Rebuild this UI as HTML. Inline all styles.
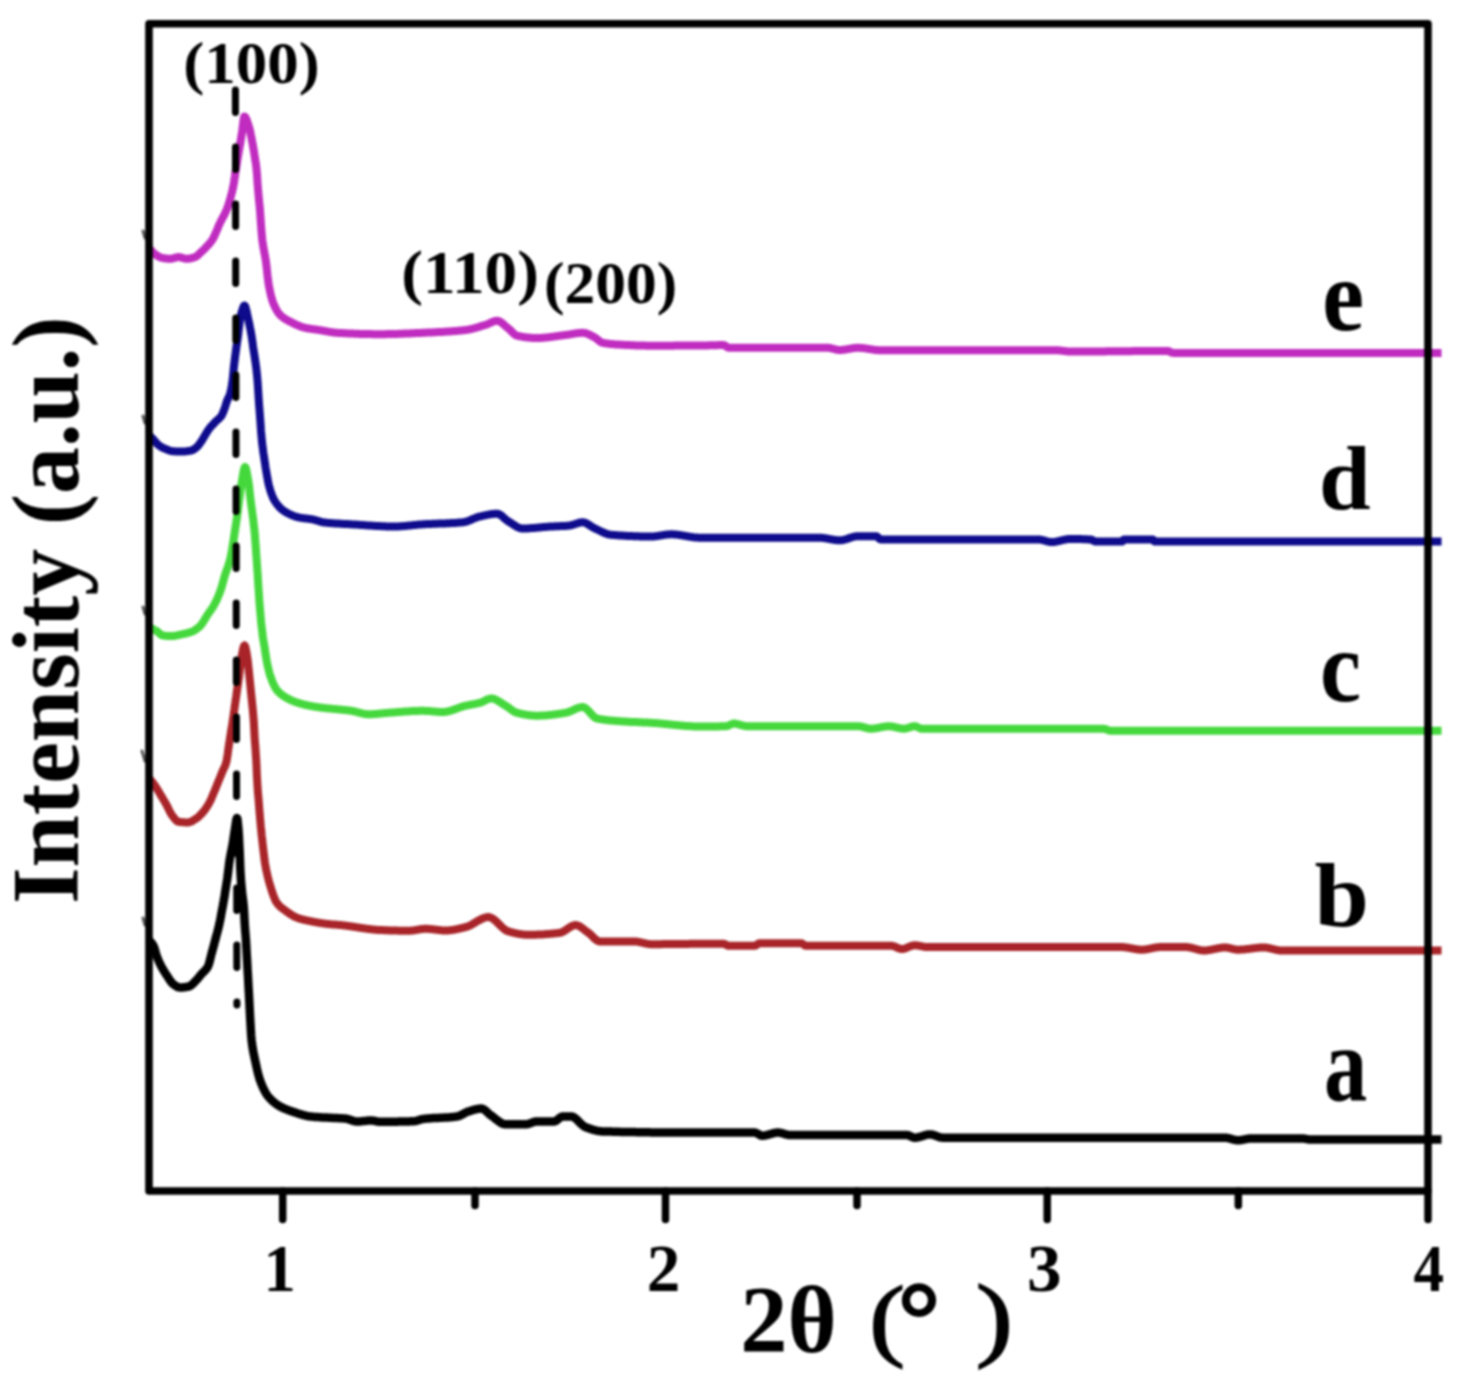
<!DOCTYPE html>
<html><head><meta charset="utf-8"><style>
html,body{margin:0;padding:0;background:#fff;width:1471px;height:1395px;overflow:hidden}
svg{display:block;filter:blur(1px)}
text{font-family:"Liberation Serif",serif;fill:#000}
</style></head><body>
<svg width="1471" height="1395" viewBox="0 0 1471 1395">
<rect x="0" y="0" width="1471" height="1395" fill="#fff"/>
<g fill="none" stroke-width="8" stroke-linejoin="round" stroke-linecap="butt">
<path d="M149.0 248.0L149.5 248.5L149.9 249.0L150.4 249.6L150.9 250.1L151.3 250.7L151.8 251.2L152.2 251.8L152.7 252.2L153.2 252.7L153.6 253.1L154.1 253.5L154.6 253.9L155.1 254.2L155.5 254.5L156.0 254.9L156.5 255.2L157.0 255.5L157.4 255.8L157.9 256.1L158.4 256.4L158.9 256.7L159.3 256.9L159.8 257.1L160.3 257.3L160.8 257.5L161.2 257.7L161.7 257.8L162.2 257.9L162.7 258.0L163.2 258.1L163.6 258.2L164.1 258.2L164.6 258.3L165.1 258.4L165.6 258.4L166.1 258.5L166.5 258.6L167.0 258.6L167.5 258.7L168.0 258.7L168.5 258.7L169.0 258.8L169.4 258.8L169.9 258.8L170.4 258.8L170.9 258.8L171.4 258.7L171.8 258.7L172.3 258.6L172.8 258.4L173.3 258.3L173.7 258.2L174.2 258.0L174.7 257.9L175.2 257.7L175.6 257.6L176.1 257.5L176.6 257.3L177.1 257.2L177.5 257.2L178.0 257.1L178.5 257.1L179.0 257.1L179.5 257.2L179.9 257.2L180.4 257.3L180.9 257.5L181.4 257.6L181.9 257.7L182.4 257.9L182.8 258.0L183.3 258.2L183.8 258.3L184.3 258.4L184.8 258.6L185.3 258.7L185.7 258.7L186.2 258.8L186.7 258.8L187.2 258.8L187.7 258.8L188.1 258.7L188.6 258.7L189.1 258.6L189.6 258.5L190.1 258.5L190.6 258.4L191.0 258.2L191.5 258.1L192.0 258.0L192.5 257.9L193.0 257.7L193.5 257.6L193.9 257.4L194.4 257.3L194.9 257.1L195.4 256.9L195.8 256.7L196.3 256.4L196.8 256.0L197.2 255.7L197.7 255.3L198.2 254.9L198.7 254.4L199.1 254.0L199.6 253.5L200.1 253.1L200.5 252.6L201.0 252.2L201.5 251.8L201.9 251.3L202.4 250.9L202.9 250.5L203.3 250.0L203.8 249.5L204.3 249.1L204.8 248.6L205.2 248.1L205.7 247.6L206.2 247.1L206.6 246.6L207.1 246.1L207.6 245.6L208.0 245.1L208.5 244.6L209.0 244.1L209.4 243.6L209.9 243.1L210.3 242.5L210.8 241.9L211.3 241.3L211.7 240.7L212.2 240.0L212.7 239.2L213.2 238.4L213.7 237.4L214.1 236.4L214.6 235.4L215.1 234.3L215.6 233.2L216.1 232.1L216.6 230.9L217.1 229.7L217.6 228.6L218.1 227.4L218.5 226.2L219.0 225.1L219.5 224.0L220.0 223.0L220.5 222.0L221.0 221.0L221.5 220.0L222.0 219.1L222.5 218.2L223.0 217.2L223.5 216.3L224.0 215.4L224.5 214.4L225.0 213.4L225.5 212.3L226.0 211.2L226.5 210.0L227.0 208.8L227.5 207.5L228.0 206.1L228.4 204.7L228.9 203.2L229.4 201.6L229.9 200.0L230.3 198.4L230.8 196.8L231.2 195.1L231.7 193.3L232.2 191.4L232.6 189.4L233.1 187.3L233.5 185.0L234.0 182.4L234.4 179.4L234.9 176.3L235.3 173.1L235.8 170.0L236.3 166.9L236.8 163.9L237.2 160.9L237.7 157.9L238.2 155.0L238.6 152.5L239.1 150.0L239.5 147.6L239.9 145.1L240.4 142.6L240.8 140.0L241.2 137.1L241.7 134.1L242.2 131.1L242.6 128.0L243.0 124.6L243.4 120.8L243.9 117.8L244.3 116.5L244.8 116.7L245.3 117.2L245.8 118.0L246.3 119.0L246.8 120.3L247.3 121.7L247.8 123.2L248.3 124.8L248.8 126.4L249.3 128.0L249.7 129.5L250.2 131.3L250.6 133.4L251.0 135.5L251.5 137.8L251.9 140.0L252.3 142.3L252.8 144.6L253.2 147.1L253.6 149.6L254.1 152.3L254.5 155.0L254.9 157.6L255.3 160.3L255.8 163.1L256.2 166.3L256.6 170.0L257.1 175.7L257.5 182.6L258.0 189.0L258.5 194.7L259.0 200.0L259.5 204.8L260.0 210.0L260.4 215.9L260.8 222.0L261.3 228.7L261.8 235.0L262.3 240.0L262.8 243.7L263.3 246.7L263.8 249.4L264.2 251.8L264.7 254.3L265.2 257.0L265.7 260.0L266.2 263.4L266.6 267.3L267.1 271.3L267.5 275.4L268.0 279.3L268.4 282.8L268.9 285.7L269.4 288.2L269.9 290.6L270.3 292.8L270.8 294.9L271.3 296.8L271.8 298.6L272.2 300.2L272.7 301.6L273.2 302.9L273.7 304.1L274.2 305.3L274.7 306.4L275.2 307.4L275.7 308.4L276.2 309.3L276.6 310.2L277.1 311.0L277.6 311.8L278.1 312.5L278.6 313.2L279.1 313.8L279.6 314.4L280.1 314.9L280.6 315.4L281.1 315.8L281.6 316.3L282.1 316.7L282.6 317.1L283.0 317.5L283.5 317.8L284.0 318.2L284.5 318.5L285.0 318.8L285.5 319.1L286.0 319.4L286.5 319.7L287.0 320.0L287.5 320.3L287.9 320.5L288.4 320.8L288.9 321.0L289.4 321.3L289.9 321.5L290.4 321.8L290.9 322.1L291.4 322.3L291.9 322.5L292.3 322.8L292.8 323.0L293.3 323.3L293.8 323.5L294.3 323.8L294.8 324.0L295.3 324.2L295.8 324.5L296.2 324.7L296.7 324.9L297.2 325.1L297.7 325.3L298.2 325.5L298.7 325.7L299.2 325.9L299.6 326.1L300.1 326.3L300.6 326.5L301.1 326.7L301.6 326.8L302.1 327.0L302.6 327.2L303.1 327.3L303.5 327.4L304.0 327.6L304.5 327.7L305.0 327.8L305.5 327.9L306.0 328.0L306.5 328.1L307.0 328.2L307.4 328.3L307.9 328.4L308.4 328.5L308.9 328.5L309.4 328.6L309.9 328.7L310.4 328.8L310.9 328.8L311.4 328.9L311.9 329.0L312.3 329.1L312.8 329.1L313.3 329.2L313.8 329.3L314.3 329.3L314.8 329.4L315.3 329.4L315.8 329.5L316.3 329.6L316.8 329.6L317.2 329.7L317.7 329.8L318.2 329.9L318.7 329.9L319.2 330.0L319.7 330.1L320.2 330.2L320.7 330.2L321.2 330.3L321.7 330.4L322.2 330.5L322.7 330.6L323.2 330.7L323.6 330.8L324.1 330.9L324.6 331.0L325.1 331.1L325.6 331.2L326.1 331.2L326.6 331.3L327.1 331.4L327.6 331.5L328.1 331.6L328.6 331.7L329.1 331.8L329.6 331.9L330.1 332.0L330.6 332.0L331.1 332.1L331.6 332.2L332.1 332.3L332.6 332.3L333.0 332.4L333.5 332.5L334.0 332.5L334.5 332.6L335.0 332.6L335.5 332.7L336.0 332.7L336.5 332.8L337.0 332.8L337.5 332.8L338.0 332.9L338.5 332.9L339.0 332.9L339.5 332.9L340.0 333.0L340.5 333.0L341.0 333.0L341.5 333.1L342.0 333.1L342.5 333.1L343.0 333.1L343.5 333.2L344.0 333.2L344.5 333.2L345.0 333.2L345.5 333.3L346.0 333.3L346.5 333.3L347.0 333.3L347.5 333.4L348.0 333.4L348.5 333.4L349.0 333.4L349.5 333.5L350.0 333.5L350.5 333.5L351.0 333.5L351.5 333.5L352.0 333.6L352.5 333.6L353.0 333.6L353.5 333.6L354.0 333.7L354.5 333.7L355.0 333.7L355.5 333.7L356.0 333.7L356.5 333.7L357.0 333.8L357.5 333.8L358.0 333.8L358.5 333.8L359.0 333.8L359.5 333.9L360.0 333.9L360.5 333.9L361.0 333.9L361.5 333.9L362.0 333.9L362.5 333.9L363.0 334.0L363.5 334.0L364.0 334.0L364.5 334.0L365.0 334.0L365.5 334.0L366.0 334.0L366.5 334.0L367.0 334.1L367.5 334.1L368.0 334.1L368.5 334.1L369.0 334.1L369.5 334.1L370.0 334.1L370.5 334.1L371.0 334.1L371.5 334.1L372.0 334.1L372.5 334.2L373.0 334.2L373.5 334.2L374.0 334.2L374.5 334.2L375.0 334.2L375.5 334.2L376.0 334.2L376.5 334.2L377.0 334.2L377.5 334.2L378.0 334.2L378.5 334.2L379.0 334.2L379.5 334.2L380.0 334.2L380.5 334.2L381.0 334.2L381.5 334.2L382.0 334.2L382.5 334.2L383.0 334.2L383.5 334.2L384.0 334.2L384.5 334.2L385.0 334.2L385.5 334.2L386.0 334.2L386.5 334.1L387.0 334.1L387.5 334.1L388.0 334.1L388.5 334.1L389.0 334.1L389.5 334.1L390.0 334.1L390.5 334.1L390.9 334.1L391.4 334.1L391.9 334.0L392.4 334.0L392.9 334.0L393.4 334.0L393.9 334.0L394.4 334.0L394.9 334.0L395.4 333.9L395.9 333.9L396.4 333.9L396.9 333.9L397.4 333.9L397.9 333.9L398.4 333.8L398.9 333.8L399.4 333.8L399.9 333.8L400.4 333.8L400.9 333.8L401.4 333.7L401.9 333.7L402.4 333.7L402.9 333.7L403.4 333.7L403.9 333.6L404.4 333.6L404.9 333.6L405.4 333.6L405.9 333.6L406.4 333.5L406.9 333.5L407.4 333.5L407.9 333.5L408.4 333.4L408.9 333.4L409.4 333.4L409.9 333.4L410.4 333.4L410.9 333.3L411.4 333.3L411.9 333.3L412.3 333.3L412.8 333.2L413.3 333.2L413.8 333.2L414.3 333.2L414.8 333.2L415.3 333.1L415.8 333.1L416.3 333.1L416.8 333.1L417.3 333.0L417.8 333.0L418.3 333.0L418.8 333.0L419.3 333.0L419.8 332.9L420.3 332.9L420.8 332.9L421.3 332.9L421.8 332.8L422.3 332.8L422.8 332.8L423.3 332.8L423.8 332.8L424.3 332.7L424.8 332.7L425.3 332.7L425.8 332.7L426.3 332.6L426.8 332.6L427.3 332.6L427.8 332.6L428.3 332.6L428.8 332.5L429.3 332.5L429.8 332.5L430.3 332.5L430.8 332.5L431.3 332.4L431.8 332.4L432.3 332.4L432.8 332.4L433.3 332.3L433.7 332.3L434.2 332.3L434.7 332.3L435.2 332.2L435.7 332.2L436.2 332.2L436.7 332.2L437.2 332.1L437.7 332.1L438.2 332.1L438.7 332.1L439.2 332.0L439.7 332.0L440.2 332.0L440.7 332.0L441.2 331.9L441.7 331.9L442.2 331.9L442.7 331.9L443.2 331.8L443.7 331.8L444.2 331.8L444.7 331.7L445.2 331.7L445.7 331.7L446.2 331.6L446.7 331.6L447.2 331.6L447.7 331.6L448.2 331.5L448.7 331.5L449.2 331.5L449.7 331.4L450.2 331.4L450.7 331.3L451.2 331.3L451.7 331.3L452.2 331.2L452.7 331.2L453.2 331.2L453.7 331.1L454.2 331.1L454.7 331.0L455.1 331.0L455.6 331.0L456.1 330.9L456.6 330.9L457.1 330.8L457.6 330.8L458.1 330.8L458.6 330.7L459.1 330.7L459.6 330.6L460.1 330.6L460.6 330.5L461.1 330.5L461.6 330.4L462.1 330.4L462.6 330.3L463.1 330.3L463.6 330.2L464.1 330.2L464.6 330.1L465.1 330.1L465.6 330.0L466.1 329.9L466.6 329.9L467.1 329.8L467.6 329.7L468.1 329.6L468.6 329.6L469.1 329.5L469.6 329.4L470.1 329.3L470.6 329.2L471.1 329.0L471.6 328.9L472.1 328.8L472.6 328.7L473.1 328.6L473.6 328.4L474.1 328.3L474.6 328.2L475.1 328.0L475.6 327.9L476.1 327.7L476.6 327.6L477.1 327.4L477.6 327.3L478.1 327.1L478.6 327.0L479.1 326.8L479.6 326.7L480.1 326.5L480.6 326.4L481.1 326.2L481.6 326.0L482.1 325.9L482.6 325.7L483.1 325.6L483.6 325.4L484.1 325.3L484.6 325.1L485.1 325.0L485.6 324.8L486.1 324.6L486.6 324.5L487.1 324.3L487.6 324.1L488.1 323.9L488.6 323.6L489.1 323.4L489.6 323.2L490.1 322.9L490.6 322.7L491.1 322.5L491.5 322.3L492.0 322.0L492.5 321.8L493.0 321.6L493.5 321.5L494.0 321.3L494.5 321.2L495.0 321.0L495.5 320.9L496.0 320.9L496.5 320.8L497.0 320.8L497.5 320.8L498.0 320.9L498.5 321.0L499.0 321.2L499.5 321.4L500.0 321.7L500.5 322.0L501.0 322.3L501.5 322.6L502.0 323.0L502.5 323.4L502.9 323.8L503.4 324.2L503.9 324.6L504.4 325.1L504.9 325.5L505.4 326.0L505.9 326.4L506.4 326.9L506.9 327.3L507.4 327.7L507.9 328.1L508.4 328.5L508.9 328.9L509.4 329.3L509.8 329.7L510.3 330.2L510.8 330.7L511.3 331.2L511.7 331.7L512.2 332.2L512.7 332.7L513.2 333.1L513.7 333.6L514.1 334.0L514.6 334.4L515.1 334.8L515.6 335.1L516.0 335.4L516.5 335.6L517.0 335.7L517.5 335.8L518.0 335.9L518.5 336.0L519.0 336.1L519.5 336.2L520.0 336.3L520.5 336.4L521.0 336.5L521.5 336.6L522.0 336.7L522.5 336.8L523.0 336.9L523.5 336.9L524.0 337.0L524.5 337.1L525.0 337.2L525.5 337.2L526.0 337.3L526.5 337.4L527.0 337.4L527.5 337.5L528.0 337.5L528.5 337.6L529.0 337.6L529.5 337.7L530.0 337.7L530.5 337.7L531.0 337.8L531.5 337.8L532.0 337.9L532.5 337.9L533.0 337.9L533.5 337.9L534.0 337.9L534.5 338.0L535.0 338.0L535.5 338.0L536.0 338.0L536.5 338.0L537.0 338.0L537.5 338.0L538.0 338.0L538.5 338.0L539.0 338.0L539.5 338.0L540.0 337.9L540.5 337.9L541.0 337.9L541.5 337.9L542.0 337.8L542.5 337.8L543.0 337.8L543.5 337.7L544.0 337.7L544.5 337.7L545.0 337.6L545.5 337.6L546.0 337.5L546.5 337.5L547.0 337.4L547.5 337.4L548.0 337.3L548.5 337.3L549.0 337.2L549.5 337.1L550.0 337.1L550.5 337.0L551.0 336.9L551.5 336.9L552.0 336.8L552.5 336.8L553.0 336.7L553.5 336.6L554.0 336.5L554.5 336.5L555.0 336.4L555.5 336.3L556.0 336.3L556.5 336.2L557.0 336.1L557.5 336.1L558.0 336.0L558.5 335.9L559.0 335.8L559.5 335.8L560.0 335.7L560.5 335.6L561.0 335.6L561.5 335.5L562.0 335.4L562.5 335.4L563.0 335.3L563.5 335.2L564.0 335.2L564.5 335.1L565.0 335.1L565.5 335.0L566.0 334.9L566.5 334.9L567.0 334.8L567.5 334.7L568.0 334.7L568.4 334.6L568.9 334.5L569.4 334.4L569.9 334.4L570.4 334.3L570.9 334.2L571.4 334.1L571.9 334.0L572.4 333.9L572.9 333.9L573.4 333.8L573.9 333.7L574.3 333.6L574.8 333.5L575.3 333.5L575.8 333.4L576.3 333.3L576.8 333.2L577.3 333.2L577.8 333.1L578.3 333.1L578.8 333.0L579.3 333.0L579.8 332.9L580.2 332.9L580.7 332.9L581.2 332.8L581.7 332.8L582.2 332.8L582.7 332.8L583.2 332.8L583.7 332.9L584.2 332.9L584.7 333.0L585.2 333.1L585.6 333.2L586.1 333.4L586.6 333.5L587.1 333.7L587.6 333.9L588.1 334.1L588.6 334.3L589.1 334.6L589.6 334.8L590.1 335.0L590.6 335.3L591.1 335.5L591.5 335.8L592.0 336.0L592.5 336.3L593.0 336.5L593.5 336.8L594.0 337.0L594.5 337.3L595.0 337.5L595.5 337.9L595.9 338.2L596.4 338.6L596.9 339.0L597.4 339.4L597.9 339.8L598.4 340.2L598.8 340.6L599.3 341.0L599.8 341.4L600.3 341.7L600.8 342.0L601.2 342.3L601.7 342.5L602.2 342.7L602.7 342.8L603.2 342.9L603.7 343.0L604.2 343.1L604.7 343.2L605.2 343.2L605.7 343.3L606.2 343.4L606.7 343.5L607.2 343.5L607.7 343.6L608.2 343.7L608.7 343.7L609.2 343.8L609.7 343.9L610.2 343.9L610.7 344.0L611.2 344.0L611.7 344.1L612.2 344.1L612.7 344.2L613.2 344.2L613.7 344.2L614.2 344.3L614.7 344.3L615.2 344.4L615.7 344.4L616.2 344.4L616.7 344.5L617.2 344.5L617.7 344.5L618.2 344.6L618.7 344.6L619.2 344.6L619.7 344.6L620.2 344.7L620.7 344.7L621.2 344.7L621.7 344.7L622.2 344.8L622.7 344.8L623.2 344.8L623.7 344.8L624.2 344.9L624.7 344.9L625.2 344.9L625.7 344.9L626.2 345.0L626.7 345.0L627.2 345.0L627.7 345.0L628.2 345.1L628.7 345.1L629.2 345.1L629.7 345.1L630.2 345.2L630.7 345.2L631.2 345.2L631.7 345.2L632.2 345.2L632.7 345.3L633.2 345.3L633.7 345.3L634.2 345.3L634.7 345.3L635.2 345.4L635.7 345.4L636.2 345.4L636.7 345.4L637.2 345.4L637.7 345.5L638.2 345.5L638.7 345.5L639.2 345.5L639.7 345.5L640.2 345.5L640.7 345.5L641.2 345.6L641.7 345.6L642.2 345.6L642.7 345.6L643.2 345.6L643.7 345.6L644.2 345.6L644.7 345.6L645.2 345.6L645.7 345.7L646.2 345.7L646.7 345.7L647.2 345.7L647.7 345.7L648.2 345.7L648.7 345.7L649.2 345.7L649.7 345.7L650.2 345.7L650.7 345.7L651.2 345.7L651.7 345.7L652.2 345.7L652.7 345.7L653.2 345.7L653.7 345.7L654.2 345.7L654.7 345.7L655.2 345.7L655.7 345.7L656.2 345.7L656.7 345.7L657.2 345.7L657.7 345.7L658.2 345.7L658.7 345.7L659.2 345.7L659.7 345.7L660.2 345.7L660.7 345.7L661.2 345.7L661.7 345.7L662.2 345.7L662.7 345.7L663.2 345.7L663.6 345.7L664.1 345.7L664.6 345.7L665.1 345.7L665.6 345.7L666.1 345.7L666.6 345.7L667.1 345.7L667.6 345.7L668.1 345.7L668.6 345.7L669.1 345.7L669.6 345.7L670.1 345.7L670.6 345.7L671.1 345.7L671.6 345.7L672.1 345.7L672.6 345.7L673.1 345.7L673.6 345.7L674.1 345.6L674.6 345.6L675.1 345.6L675.6 345.6L676.1 345.6L676.6 345.6L677.1 345.6L677.6 345.6L678.1 345.6L678.6 345.6L679.1 345.6L679.6 345.6L680.1 345.6L680.6 345.6L681.1 345.6L681.6 345.6L682.1 345.6L682.6 345.6L683.1 345.6L683.6 345.6L684.1 345.6L684.6 345.6L685.1 345.6L685.6 345.6L686.1 345.6L686.6 345.6L687.1 345.6L687.6 345.6L688.0 345.6L688.5 345.6L689.0 345.6L689.5 345.6L690.0 345.6L690.5 345.6L691.0 345.6L691.5 345.6L692.0 345.6L692.5 345.6L693.0 345.5L693.5 345.5L694.0 345.5L694.5 345.5L695.0 345.5L695.5 345.5L696.0 345.5L696.5 345.5L697.0 345.5L697.5 345.5L698.0 345.5L698.5 345.5L699.0 345.5L699.5 345.5L700.0 345.5L700.5 345.5L701.0 345.5L701.5 345.5L702.0 345.5L702.5 345.5L703.0 345.5L703.4 345.5L703.9 345.5L704.4 345.4L704.9 345.4L705.4 345.4L705.9 345.4L706.4 345.4L706.9 345.4L707.4 345.4L707.9 345.4L708.4 345.4L708.9 345.3L709.3 345.3L709.8 345.3L710.3 345.3L710.8 345.3L711.3 345.3L711.8 345.3L712.3 345.3L712.8 345.3L713.3 345.2L713.8 345.2L714.3 345.2L714.8 345.2L715.2 345.2L715.7 345.2L716.2 345.2L716.7 345.2L717.2 345.2L717.7 345.2L718.2 345.1L718.7 345.1L719.2 345.1L719.7 345.1L720.2 345.1L720.6 345.1L721.1 345.1L721.6 345.1L722.1 345.1L722.6 345.1L723.1 345.1L723.6 345.1L724.1 345.2L724.5 345.3L725.0 345.6L725.5 345.9L726.0 346.2L726.4 346.6L726.9 346.9L727.4 347.2L727.9 347.5L728.3 347.6L728.8 347.7L729.3 347.7L729.8 347.7L730.3 347.7L730.8 347.7L731.3 347.7L731.8 347.7L732.3 347.7L732.8 347.7L733.3 347.7L733.8 347.7L734.3 347.7L734.8 347.7L735.3 347.7L735.8 347.7L736.3 347.7L736.8 347.7L737.3 347.7L737.8 347.7L738.3 347.7L738.8 347.7L739.3 347.7L739.8 347.7L740.3 347.7L740.8 347.7L741.3 347.7L741.8 347.7L742.3 347.7L742.8 347.7L743.3 347.7L743.8 347.7L744.3 347.7L744.8 347.7L745.2 347.7L745.7 347.7L746.2 347.7L746.7 347.7L747.2 347.7L747.7 347.7L748.2 347.7L748.7 347.7L749.2 347.7L749.7 347.7L750.2 347.7L750.7 347.7L751.2 347.7L751.7 347.7L752.2 347.7L752.7 347.7L753.2 347.7L753.7 347.7L754.2 347.7L754.7 347.7L755.2 347.7L755.7 347.7L756.2 347.7L756.7 347.7L757.2 347.7L757.7 347.7L758.2 347.7L758.7 347.7L759.2 347.7L759.7 347.7L760.2 347.7L760.7 347.7L761.2 347.7L761.7 347.7L762.2 347.7L762.7 347.7L763.2 347.7L763.7 347.7L764.2 347.7L764.7 347.7L765.2 347.7L765.7 347.7L766.2 347.7L766.7 347.7L767.2 347.7L767.7 347.7L768.2 347.7L768.7 347.7L769.2 347.7L769.7 347.7L770.2 347.7L770.7 347.7L771.2 347.7L771.7 347.7L772.2 347.7L772.7 347.7L773.2 347.7L773.7 347.7L774.2 347.7L774.7 347.7L775.2 347.7L775.7 347.7L776.2 347.7L776.7 347.7L777.2 347.7L777.7 347.7L778.1 347.7L778.6 347.7L779.1 347.7L779.6 347.7L780.1 347.7L780.6 347.7L781.1 347.7L781.6 347.7L782.1 347.7L782.6 347.7L783.1 347.7L783.6 347.7L784.1 347.7L784.6 347.7L785.1 347.7L785.6 347.7L786.1 347.7L786.6 347.7L787.1 347.7L787.6 347.7L788.1 347.7L788.6 347.7L789.1 347.7L789.6 347.7L790.1 347.7L790.6 347.7L791.1 347.7L791.6 347.7L792.1 347.7L792.6 347.7L793.1 347.7L793.6 347.7L794.1 347.7L794.6 347.7L795.1 347.7L795.6 347.7L796.1 347.7L796.6 347.7L797.1 347.7L797.6 347.7L798.1 347.7L798.6 347.7L799.1 347.7L799.6 347.7L800.1 347.7L800.6 347.7L801.1 347.7L801.6 347.7L802.1 347.7L802.6 347.7L803.1 347.7L803.6 347.7L804.1 347.7L804.6 347.7L805.1 347.7L805.6 347.7L806.1 347.7L806.6 347.7L807.1 347.7L807.6 347.7L808.1 347.7L808.6 347.7L809.1 347.7L809.6 347.7L810.1 347.7L810.6 347.7L811.0 347.7L811.5 347.7L812.0 347.7L812.5 347.7L813.0 347.7L813.5 347.7L814.0 347.7L814.5 347.7L815.0 347.7L815.5 347.7L816.0 347.7L816.5 347.7L817.0 347.7L817.5 347.7L818.0 347.7L818.5 347.7L819.0 347.7L819.5 347.7L820.0 347.7L820.5 347.7L821.0 347.7L821.5 347.7L822.0 347.7L822.5 347.7L823.0 347.7L823.5 347.7L824.0 347.7L824.5 347.7L825.0 347.7L825.5 347.7L826.0 347.7L826.5 347.7L827.0 347.7L827.5 347.7L828.0 347.7L828.5 347.8L829.0 347.8L829.5 347.9L830.0 348.0L830.4 348.1L830.9 348.2L831.4 348.3L831.9 348.5L832.4 348.6L832.9 348.7L833.4 348.9L833.9 349.0L834.4 349.1L834.9 349.2L835.4 349.4L835.9 349.5L836.4 349.6L836.8 349.7L837.3 349.8L837.8 349.9L838.3 349.9L838.8 350.0L839.3 350.0L839.8 350.0L840.3 350.0L840.8 350.0L841.3 350.0L841.8 349.9L842.2 349.9L842.7 349.8L843.2 349.8L843.7 349.7L844.2 349.7L844.7 349.6L845.2 349.5L845.7 349.5L846.2 349.4L846.6 349.3L847.1 349.2L847.6 349.1L848.1 349.0L848.6 348.9L849.1 348.9L849.6 348.8L850.1 348.7L850.6 348.6L851.1 348.5L851.5 348.4L852.0 348.3L852.5 348.3L853.0 348.2L853.5 348.1L854.0 348.1L854.5 348.0L855.0 348.0L855.5 347.9L855.9 347.9L856.4 347.8L856.9 347.8L857.4 347.8L857.9 347.8L858.4 347.8L858.9 347.8L859.4 347.8L859.9 347.9L860.4 347.9L860.8 347.9L861.3 347.9L861.8 348.0L862.3 348.0L862.8 348.1L863.3 348.1L863.8 348.2L864.3 348.3L864.8 348.3L865.3 348.4L865.8 348.5L866.3 348.5L866.7 348.6L867.2 348.7L867.7 348.8L868.2 348.9L868.7 348.9L869.2 349.0L869.7 349.1L870.2 349.2L870.7 349.2L871.2 349.3L871.7 349.4L872.2 349.5L872.6 349.6L873.1 349.6L873.6 349.7L874.1 349.8L874.6 349.8L875.1 349.9L875.6 350.0L876.1 350.0L876.6 350.1L877.1 350.1L877.6 350.2L878.1 350.2L878.5 350.2L879.0 350.2L879.5 350.3L880.0 350.3L880.5 350.3L881.0 350.3L881.5 350.3L882.0 350.3L882.5 350.3L883.0 350.3L883.5 350.3L884.0 350.3L884.5 350.3L885.0 350.3L885.5 350.3L886.0 350.3L886.5 350.3L887.0 350.3L887.5 350.3L888.0 350.3L888.5 350.3L889.0 350.3L889.5 350.3L890.0 350.3L890.5 350.3L891.0 350.3L891.5 350.3L892.0 350.3L892.5 350.3L893.0 350.3L893.5 350.3L894.0 350.3L894.5 350.3L895.0 350.3L895.5 350.3L896.0 350.3L896.5 350.3L897.0 350.3L897.5 350.3L898.0 350.3L898.5 350.3L899.0 350.3L899.5 350.3L900.0 350.3L900.5 350.3L901.0 350.3L901.5 350.3L902.0 350.3L902.5 350.3L903.0 350.3L903.5 350.3L904.0 350.3L904.5 350.3L905.0 350.3L905.5 350.3L906.0 350.3L906.5 350.3L907.0 350.3L907.5 350.3L908.0 350.3L908.5 350.3L909.0 350.3L909.5 350.3L910.0 350.3L910.5 350.3L911.0 350.3L911.5 350.3L912.0 350.3L912.5 350.3L913.0 350.3L913.5 350.3L914.0 350.3L914.5 350.3L915.0 350.3L915.5 350.3L916.0 350.3L916.5 350.3L917.0 350.3L917.5 350.3L918.0 350.3L918.5 350.3L919.0 350.3L919.5 350.3L920.0 350.3L920.5 350.3L921.0 350.3L921.5 350.3L922.0 350.3L922.5 350.3L923.0 350.3L923.5 350.3L924.0 350.3L924.5 350.3L925.0 350.3L925.4 350.3L925.9 350.3L926.4 350.3L926.9 350.3L927.4 350.3L927.9 350.3L928.4 350.3L928.9 350.3L929.4 350.3L929.9 350.3L930.4 350.3L930.9 350.3L931.4 350.3L931.9 350.3L932.4 350.3L932.9 350.3L933.4 350.3L933.9 350.3L934.4 350.3L934.9 350.3L935.4 350.3L935.9 350.3L936.4 350.3L936.9 350.3L937.4 350.3L937.9 350.3L938.4 350.3L938.9 350.3L939.4 350.3L939.9 350.3L940.4 350.3L940.9 350.3L941.4 350.3L941.9 350.3L942.4 350.3L942.9 350.3L943.4 350.3L943.9 350.3L944.4 350.3L944.9 350.3L945.4 350.3L945.9 350.3L946.4 350.3L946.9 350.3L947.4 350.3L947.9 350.3L948.4 350.3L948.9 350.3L949.4 350.3L949.9 350.3L950.4 350.3L950.9 350.3L951.4 350.3L951.9 350.3L952.4 350.3L952.9 350.3L953.4 350.3L953.9 350.3L954.4 350.3L954.9 350.3L955.4 350.3L955.9 350.3L956.4 350.3L956.9 350.3L957.4 350.3L957.9 350.3L958.4 350.3L958.9 350.3L959.4 350.3L959.9 350.3L960.4 350.3L960.9 350.3L961.4 350.3L961.9 350.3L962.4 350.3L962.9 350.3L963.4 350.3L963.9 350.3L964.4 350.3L964.9 350.3L965.4 350.3L965.9 350.3L966.4 350.3L966.9 350.3L967.4 350.3L967.9 350.3L968.4 350.3L968.9 350.3L969.4 350.3L969.9 350.3L970.4 350.3L970.9 350.3L971.4 350.3L971.9 350.3L972.4 350.3L972.9 350.3L973.4 350.3L973.9 350.3L974.4 350.3L974.9 350.3L975.4 350.3L975.9 350.3L976.4 350.3L976.9 350.3L977.4 350.3L977.9 350.3L978.4 350.3L978.9 350.3L979.4 350.3L979.9 350.3L980.4 350.3L980.9 350.3L981.4 350.3L981.9 350.3L982.4 350.3L982.9 350.3L983.4 350.3L983.9 350.3L984.4 350.3L984.9 350.3L985.4 350.3L985.9 350.3L986.4 350.3L986.9 350.3L987.4 350.3L987.9 350.3L988.4 350.3L988.9 350.3L989.4 350.3L989.9 350.3L990.4 350.3L990.9 350.3L991.4 350.3L991.9 350.3L992.4 350.3L992.9 350.3L993.4 350.3L993.9 350.3L994.4 350.3L994.9 350.3L995.4 350.3L995.9 350.3L996.4 350.3L996.9 350.3L997.4 350.3L997.9 350.3L998.4 350.3L998.9 350.3L999.4 350.3L999.9 350.3L1000.4 350.3L1000.9 350.3L1001.4 350.3L1001.9 350.3L1002.4 350.3L1002.9 350.3L1003.4 350.3L1003.9 350.3L1004.4 350.3L1004.9 350.3L1005.4 350.3L1005.9 350.3L1006.4 350.3L1006.9 350.3L1007.4 350.3L1007.9 350.3L1008.4 350.3L1008.9 350.3L1009.4 350.3L1009.9 350.3L1010.4 350.3L1010.9 350.3L1011.4 350.3L1011.9 350.3L1012.4 350.3L1012.8 350.3L1013.3 350.3L1013.8 350.3L1014.3 350.3L1014.8 350.3L1015.3 350.3L1015.8 350.3L1016.3 350.3L1016.8 350.3L1017.3 350.3L1017.8 350.3L1018.3 350.3L1018.8 350.3L1019.3 350.3L1019.8 350.3L1020.3 350.3L1020.8 350.3L1021.3 350.3L1021.8 350.3L1022.3 350.3L1022.8 350.3L1023.3 350.3L1023.8 350.3L1024.3 350.3L1024.8 350.3L1025.3 350.3L1025.8 350.3L1026.3 350.3L1026.8 350.3L1027.3 350.3L1027.8 350.3L1028.3 350.3L1028.8 350.3L1029.3 350.3L1029.8 350.3L1030.3 350.3L1030.8 350.3L1031.3 350.3L1031.8 350.3L1032.3 350.3L1032.8 350.3L1033.3 350.3L1033.8 350.3L1034.3 350.3L1034.8 350.3L1035.3 350.3L1035.8 350.3L1036.3 350.3L1036.8 350.3L1037.3 350.3L1037.8 350.3L1038.3 350.3L1038.8 350.3L1039.3 350.3L1039.8 350.3L1040.3 350.3L1040.8 350.3L1041.3 350.3L1041.8 350.3L1042.3 350.3L1042.8 350.3L1043.3 350.3L1043.8 350.3L1044.3 350.3L1044.8 350.3L1045.3 350.3L1045.8 350.3L1046.3 350.3L1046.8 350.3L1047.3 350.3L1047.8 350.3L1048.3 350.3L1048.8 350.3L1049.3 350.3L1049.8 350.3L1050.3 350.3L1050.8 350.3L1051.3 350.3L1051.8 350.3L1052.3 350.3L1052.8 350.3L1053.3 350.3L1053.8 350.3L1054.3 350.3L1054.8 350.3L1055.3 350.3L1055.8 350.3L1056.3 350.3L1056.8 350.3L1057.3 350.3L1057.8 350.3L1058.3 350.3L1058.8 350.4L1059.2 350.4L1059.7 350.5L1060.2 350.5L1060.7 350.6L1061.2 350.6L1061.7 350.7L1062.2 350.7L1062.7 350.8L1063.2 350.9L1063.6 350.9L1064.1 351.0L1064.6 351.1L1065.1 351.1L1065.6 351.2L1066.1 351.2L1066.6 351.3L1067.1 351.3L1067.6 351.4L1068.0 351.4L1068.5 351.5L1069.0 351.5L1069.5 351.5L1070.0 351.5L1070.5 351.5L1071.0 351.5L1071.5 351.5L1072.0 351.5L1072.5 351.5L1073.0 351.5L1073.5 351.5L1074.0 351.5L1074.5 351.5L1075.0 351.5L1075.5 351.5L1076.0 351.5L1076.5 351.5L1077.0 351.5L1077.5 351.5L1078.0 351.5L1078.5 351.5L1079.0 351.5L1079.5 351.5L1080.0 351.5L1080.5 351.5L1081.0 351.5L1081.5 351.5L1082.0 351.5L1082.5 351.5L1083.0 351.5L1083.5 351.5L1084.0 351.5L1084.5 351.5L1085.0 351.5L1085.5 351.5L1086.0 351.5L1086.5 351.5L1087.0 351.5L1087.5 351.5L1088.0 351.5L1088.5 351.5L1089.0 351.5L1089.5 351.4L1090.0 351.4L1090.5 351.4L1091.0 351.4L1091.5 351.4L1092.0 351.4L1092.5 351.4L1093.0 351.4L1093.5 351.4L1094.0 351.4L1094.5 351.4L1095.0 351.4L1095.5 351.4L1096.0 351.4L1096.5 351.4L1097.0 351.4L1097.5 351.4L1098.0 351.4L1098.5 351.4L1099.0 351.4L1099.5 351.4L1100.0 351.4L1100.5 351.4L1101.0 351.4L1101.5 351.4L1102.0 351.4L1102.5 351.4L1103.0 351.4L1103.5 351.4L1104.0 351.4L1104.5 351.4L1105.0 351.4L1105.5 351.4L1106.0 351.3L1106.5 351.3L1107.0 351.3L1107.5 351.3L1108.0 351.3L1108.5 351.3L1109.0 351.3L1109.5 351.3L1110.0 351.3L1110.5 351.3L1111.0 351.3L1111.5 351.3L1112.0 351.3L1112.5 351.3L1113.0 351.3L1113.5 351.3L1114.0 351.3L1114.5 351.3L1115.0 351.3L1115.5 351.3L1116.0 351.3L1116.5 351.3L1117.0 351.3L1117.5 351.3L1118.0 351.3L1118.5 351.3L1119.0 351.2L1119.5 351.2L1120.0 351.2L1120.5 351.2L1121.0 351.2L1121.5 351.2L1122.0 351.2L1122.5 351.2L1123.0 351.2L1123.5 351.2L1124.0 351.2L1124.5 351.2L1125.0 351.2L1125.5 351.2L1126.0 351.2L1126.5 351.2L1127.0 351.2L1127.5 351.2L1128.0 351.2L1128.5 351.2L1129.0 351.2L1129.5 351.2L1130.0 351.2L1130.5 351.2L1131.0 351.2L1131.5 351.2L1132.0 351.2L1132.5 351.1L1133.0 351.1L1133.5 351.1L1134.0 351.1L1134.5 351.1L1135.0 351.1L1135.5 351.1L1136.0 351.1L1136.5 351.1L1137.0 351.1L1137.5 351.1L1138.0 351.1L1138.5 351.1L1139.0 351.1L1139.5 351.1L1140.0 351.1L1140.5 351.1L1141.0 351.1L1141.5 351.1L1142.0 351.1L1142.5 351.1L1143.0 351.1L1143.5 351.1L1144.0 351.1L1144.5 351.1L1145.0 351.1L1145.5 351.1L1146.0 351.1L1146.5 351.1L1147.0 351.1L1147.5 351.1L1148.0 351.1L1148.5 351.1L1149.0 351.0L1149.5 351.0L1150.0 351.0L1150.5 351.0L1151.0 351.0L1151.5 351.0L1152.0 351.0L1152.5 351.0L1153.0 351.0L1153.5 351.0L1154.0 351.0L1154.5 351.0L1155.0 351.0L1155.5 351.0L1156.0 351.0L1156.5 351.0L1157.0 351.0L1157.5 351.0L1158.0 351.0L1158.5 351.0L1159.0 351.0L1159.5 351.0L1160.0 351.0L1160.5 351.0L1161.0 351.0L1161.5 351.0L1162.0 351.0L1162.5 351.0L1163.0 351.0L1163.5 351.0L1164.0 351.0L1164.5 351.0L1165.0 351.0L1165.5 351.0L1166.0 351.0L1166.5 351.0L1167.0 351.0L1167.5 351.0L1168.0 351.0L1168.5 351.1L1169.0 351.2L1169.5 351.4L1170.0 351.7L1170.5 351.9L1171.0 352.2L1171.5 352.5L1172.0 352.7L1172.5 352.8L1173.0 352.9L1173.5 352.9L1174.0 352.9L1174.5 352.9L1175.0 352.9L1175.5 352.9L1176.0 352.9L1176.5 352.9L1177.0 352.9L1177.5 352.9L1178.0 352.9L1178.5 352.9L1179.0 352.9L1179.5 352.9L1180.0 352.9L1180.5 352.9L1181.0 352.9L1181.5 352.9L1182.0 352.9L1182.5 352.9L1183.0 352.9L1183.5 352.9L1184.0 352.9L1184.5 352.9L1185.0 352.9L1185.5 352.9L1186.0 352.9L1186.5 352.9L1187.0 352.9L1187.5 352.9L1188.0 352.9L1188.5 352.9L1189.0 352.9L1189.5 352.9L1190.0 352.9L1190.5 352.9L1191.0 352.9L1191.5 352.9L1192.0 352.9L1192.5 352.9L1193.0 352.9L1193.5 352.9L1194.0 352.9L1194.5 352.9L1195.0 352.9L1195.5 352.9L1196.0 352.9L1196.5 352.9L1197.0 352.9L1197.5 352.9L1198.0 352.9L1198.5 352.9L1199.0 352.9L1199.5 352.9L1200.0 352.9L1200.5 352.9L1201.0 352.9L1201.5 352.9L1202.0 352.9L1202.5 352.9L1203.0 352.9L1203.5 352.9L1204.0 352.9L1204.5 352.9L1205.0 352.9L1205.5 352.9L1206.0 352.9L1206.5 352.9L1207.0 352.9L1207.5 352.9L1208.0 352.9L1208.5 352.9L1209.0 352.9L1209.5 352.9L1210.0 352.9L1210.5 352.9L1211.0 352.9L1211.5 352.9L1212.0 352.9L1212.5 352.9L1213.0 352.9L1213.5 352.9L1214.0 352.9L1214.5 352.9L1215.0 352.9L1215.5 352.9L1216.0 352.9L1216.5 352.9L1217.0 352.9L1217.5 352.9L1218.0 352.9L1218.5 352.9L1219.0 352.9L1219.5 352.9L1220.0 352.9L1220.5 352.9L1221.0 352.9L1221.5 352.9L1222.0 352.9L1222.5 352.9L1223.0 352.9L1223.5 352.9L1224.0 352.9L1224.5 352.9L1225.0 352.9L1225.5 352.9L1226.0 352.9L1226.5 352.9L1227.0 352.9L1227.5 352.9L1228.0 352.9L1228.5 352.9L1229.0 352.9L1229.5 352.9L1230.0 352.9L1230.5 352.9L1231.0 352.9L1231.5 352.9L1232.0 352.9L1232.5 352.9L1233.0 352.9L1233.5 352.9L1234.0 352.9L1234.5 352.9L1235.0 352.9L1235.5 352.9L1236.0 352.9L1236.5 352.9L1237.0 352.9L1237.5 352.9L1238.0 352.9L1238.5 352.9L1239.0 352.9L1239.5 352.9L1240.0 352.9L1240.5 352.9L1241.0 352.9L1241.5 352.9L1242.0 352.9L1242.5 352.9L1243.0 352.9L1243.5 352.9L1244.0 352.9L1244.5 352.9L1245.0 352.9L1245.5 352.9L1246.0 352.9L1246.5 352.9L1247.0 352.9L1247.5 352.9L1248.0 352.9L1248.5 352.9L1249.0 352.9L1249.5 352.9L1250.0 352.9L1250.5 352.9L1251.0 352.9L1251.5 352.9L1252.0 352.9L1252.5 352.9L1253.0 352.9L1253.5 352.9L1254.0 352.9L1254.5 352.9L1255.0 352.9L1255.5 352.9L1256.0 352.9L1256.5 352.9L1257.0 352.9L1257.5 352.9L1258.0 352.9L1258.5 352.9L1259.0 352.9L1259.5 352.9L1260.0 352.9L1260.5 352.9L1261.0 352.9L1261.5 352.9L1262.0 352.9L1262.5 352.9L1263.0 352.9L1263.5 352.9L1264.0 352.9L1264.5 352.9L1265.0 352.9L1265.5 352.9L1266.0 352.9L1266.5 352.9L1267.0 352.9L1267.5 352.9L1268.0 352.9L1268.5 352.9L1269.0 352.9L1269.5 352.9L1270.0 352.9L1270.5 352.9L1271.0 352.9L1271.5 352.9L1272.0 352.9L1272.5 352.9L1273.0 352.9L1273.5 352.9L1274.0 352.9L1274.5 352.9L1275.0 352.9L1275.5 352.9L1276.0 352.9L1276.5 352.9L1277.0 352.9L1277.5 352.9L1278.0 352.9L1278.5 352.9L1279.0 352.9L1279.5 352.9L1280.0 352.9L1280.5 352.9L1281.0 352.9L1281.5 352.9L1282.0 352.9L1282.5 352.9L1283.0 352.9L1283.5 352.9L1284.0 352.9L1284.5 352.9L1285.0 352.9L1285.5 352.9L1286.0 352.9L1286.5 352.9L1287.0 352.9L1287.5 352.9L1288.0 352.9L1288.5 352.9L1289.0 352.9L1289.5 352.9L1290.0 352.9L1290.5 352.9L1291.0 352.9L1291.5 352.9L1292.0 352.9L1292.5 352.9L1293.0 352.9L1293.5 352.9L1294.0 352.9L1294.5 352.9L1295.0 352.9L1295.5 352.9L1296.0 352.9L1296.5 352.9L1297.0 352.9L1297.5 352.9L1298.0 352.9L1298.5 352.9L1299.0 352.9L1299.5 352.9L1300.0 352.9L1300.5 352.9L1301.0 352.9L1301.5 352.9L1302.0 352.9L1302.5 352.9L1303.0 352.9L1303.5 352.9L1304.0 352.9L1304.5 352.9L1305.0 352.9L1305.5 352.9L1306.0 352.9L1306.5 352.9L1307.0 352.9L1307.5 352.9L1308.0 352.9L1308.5 352.9L1309.0 352.9L1309.5 352.9L1310.0 352.9L1310.5 352.9L1311.0 352.9L1311.5 352.9L1312.0 352.9L1312.5 352.9L1313.0 352.9L1313.5 352.9L1314.0 352.9L1314.5 352.9L1315.0 352.9L1315.5 352.9L1316.0 352.9L1316.5 352.9L1317.0 352.9L1317.5 352.9L1318.0 352.9L1318.5 352.9L1319.0 352.9L1319.5 352.9L1320.0 352.9L1320.5 352.9L1321.0 352.9L1321.5 352.9L1322.0 352.9L1322.5 352.9L1323.0 352.9L1323.5 352.9L1324.0 352.9L1324.5 352.9L1325.0 352.9L1325.5 352.9L1326.0 352.9L1326.5 352.9L1327.0 352.9L1327.5 352.9L1328.0 352.9L1328.5 352.9L1329.0 352.9L1329.5 352.9L1330.0 352.9L1330.5 352.9L1331.0 352.9L1331.5 352.9L1332.0 352.9L1332.5 352.9L1333.0 352.9L1333.5 352.9L1334.0 352.9L1334.5 352.9L1335.0 352.9L1335.5 352.9L1336.0 352.9L1336.5 352.9L1337.0 352.9L1337.5 352.9L1338.0 352.9L1338.5 352.9L1339.0 352.9L1339.5 352.9L1340.0 352.9L1340.5 352.9L1341.0 352.9L1341.5 352.9L1342.0 352.9L1342.5 352.9L1343.0 352.9L1343.5 352.9L1344.0 352.9L1344.5 352.9L1345.0 352.9L1345.5 352.9L1346.0 352.9L1346.5 352.9L1347.0 352.9L1347.5 352.9L1348.0 352.9L1348.5 352.9L1349.0 352.9L1349.5 352.9L1350.0 352.9L1350.5 352.9L1351.0 352.9L1351.5 352.9L1352.0 352.9L1352.5 352.9L1353.0 352.9L1353.5 352.9L1354.0 352.9L1354.5 352.9L1355.0 352.9L1355.5 352.9L1356.0 352.9L1356.5 352.9L1357.0 352.9L1357.5 352.9L1358.0 352.9L1358.5 352.9L1359.0 352.9L1359.5 352.9L1360.0 352.9L1360.5 352.9L1361.0 352.9L1361.5 352.9L1362.0 352.9L1362.5 352.9L1363.0 352.9L1363.5 352.9L1364.0 352.9L1364.5 352.9L1365.0 352.9L1365.5 352.9L1366.0 352.9L1366.5 352.9L1367.0 352.9L1367.5 352.9L1368.0 352.9L1368.5 352.9L1369.0 352.9L1369.5 352.9L1370.0 352.9L1370.5 352.9L1371.0 352.9L1371.5 352.9L1372.0 352.9L1372.5 352.9L1373.0 352.9L1373.5 352.9L1374.0 352.9L1374.5 352.9L1375.0 352.9L1375.5 352.9L1376.0 352.9L1376.5 352.9L1377.0 352.9L1377.5 352.9L1378.0 352.9L1378.5 352.9L1379.0 352.9L1379.5 352.9L1380.0 352.9L1380.5 352.9L1381.0 352.9L1381.5 352.9L1382.0 352.9L1382.5 352.9L1383.0 352.9L1383.5 352.9L1384.0 352.9L1384.5 352.9L1385.0 352.9L1385.5 352.9L1386.0 352.9L1386.5 352.9L1387.0 352.9L1387.5 352.9L1388.0 352.9L1388.5 352.9L1389.0 352.9L1389.5 352.9L1390.0 352.9L1390.5 352.9L1391.0 352.9L1391.5 352.9L1392.0 352.9L1392.5 352.9L1393.0 352.9L1393.5 352.9L1394.0 352.9L1394.5 352.9L1395.0 352.9L1395.5 352.9L1396.0 352.9L1396.5 352.9L1397.0 352.9L1397.5 352.9L1398.0 352.9L1398.5 352.9L1399.0 352.9L1399.5 352.9L1400.0 352.9L1400.5 352.9L1401.0 352.9L1401.5 352.9L1402.0 352.9L1402.5 352.9L1403.0 352.9L1403.5 352.9L1404.0 352.9L1404.5 352.9L1405.0 352.9L1405.5 352.9L1406.0 352.9L1406.5 352.9L1407.0 352.9L1407.5 352.9L1408.0 352.9L1408.5 352.9L1409.0 352.9L1409.5 352.9L1410.0 352.9L1410.5 352.9L1411.0 352.9L1411.5 352.9L1412.0 352.9L1412.5 352.9L1413.0 352.9L1413.5 352.9L1414.0 352.9L1414.5 352.9L1415.0 352.9L1415.5 352.9L1416.0 352.9L1416.5 352.9L1417.0 352.9L1417.5 352.9L1418.0 352.9L1418.5 352.9L1419.0 352.9L1419.5 352.9L1420.0 352.9L1420.5 352.9L1421.0 352.9L1421.5 352.9L1422.0 352.9L1422.5 352.9L1423.0 352.9L1423.5 352.9L1424.0 352.9L1424.5 352.9L1425.0 352.9L1425.5 352.9L1426.0 352.9L1426.5 352.9L1427.0 352.9L1427.5 352.9L1428.0 352.9L1428.5 352.9L1429.0 352.9L1429.5 352.9L1430.0 352.9L1430.5 352.9L1431.0 352.9L1431.5 352.9L1432.0 352.9L1432.5 352.9L1433.0 352.9L1433.5 352.9L1434.0 352.9L1434.5 352.9L1435.0 352.9L1435.5 352.9L1436.0 352.9L1436.5 352.9L1437.0 352.9L1437.5 352.9L1438.0 352.9L1438.5 352.9L1439.0 352.9L1439.5 352.9L1440.0 352.9L1440.5 352.9L1441.0 352.9L1441.5 352.9" stroke="#c02cc0"/>
<path d="M149.0 435.0L149.5 435.5L150.0 436.0L150.5 436.5L151.0 437.0L151.5 437.5L152.0 438.0L152.5 438.5L153.0 439.0L153.5 439.5L154.0 440.1L154.5 440.7L155.0 441.3L155.5 442.0L156.0 442.6L156.5 443.1L157.0 443.7L157.5 444.2L158.0 444.7L158.5 445.1L159.0 445.4L159.5 445.8L159.9 446.1L160.4 446.4L160.9 446.7L161.4 447.0L161.8 447.2L162.3 447.5L162.8 447.7L163.3 448.0L163.8 448.2L164.2 448.4L164.7 448.6L165.2 448.8L165.7 449.0L166.2 449.2L166.7 449.4L167.1 449.6L167.6 449.8L168.1 450.0L168.6 450.2L169.1 450.4L169.6 450.6L170.1 450.7L170.6 450.9L171.0 451.0L171.5 451.1L172.0 451.2L172.5 451.2L173.0 451.2L173.5 451.3L174.0 451.3L174.4 451.3L174.9 451.3L175.4 451.4L175.9 451.4L176.4 451.4L176.9 451.4L177.3 451.4L177.8 451.4L178.3 451.5L178.8 451.5L179.3 451.5L179.8 451.5L180.2 451.5L180.7 451.5L181.2 451.5L181.7 451.5L182.2 451.5L182.7 451.5L183.2 451.5L183.6 451.5L184.1 451.4L184.6 451.4L185.1 451.4L185.6 451.3L186.1 451.3L186.5 451.2L187.0 451.2L187.5 451.1L188.0 451.1L188.5 451.0L189.0 450.9L189.4 450.8L189.9 450.8L190.4 450.7L190.9 450.6L191.4 450.5L191.8 450.3L192.3 450.2L192.8 449.9L193.2 449.7L193.7 449.4L194.2 449.1L194.7 448.8L195.1 448.4L195.6 448.1L196.1 447.7L196.5 447.3L197.0 446.9L197.5 446.5L198.0 446.0L198.4 445.4L198.9 444.8L199.4 444.1L199.9 443.5L200.3 442.8L200.8 442.1L201.3 441.4L201.8 440.7L202.2 440.0L202.7 439.2L203.2 438.4L203.6 437.6L204.1 436.8L204.5 436.1L205.0 435.3L205.5 434.5L206.0 433.7L206.4 433.0L206.9 432.2L207.4 431.4L207.9 430.7L208.3 429.9L208.8 429.2L209.3 428.6L209.8 428.0L210.2 427.4L210.7 426.9L211.2 426.3L211.6 425.8L212.1 425.3L212.6 424.8L213.1 424.3L213.5 423.8L214.0 423.3L214.5 422.8L214.9 422.3L215.4 421.8L215.9 421.3L216.3 420.9L216.8 420.5L217.3 420.1L217.7 419.7L218.2 419.3L218.7 418.9L219.2 418.4L219.6 418.0L220.1 417.5L220.6 416.9L221.0 416.4L221.5 415.7L221.9 415.0L222.4 414.1L222.8 413.1L223.3 412.0L223.7 410.8L224.2 409.6L224.6 408.4L225.1 407.0L225.6 405.5L226.0 403.9L226.5 402.4L227.0 401.0L227.4 399.9L227.9 398.9L228.3 398.0L228.8 397.1L229.2 396.2L229.7 395.0L230.1 393.7L230.6 392.0L231.0 389.9L231.5 387.5L231.9 384.7L232.4 381.7L232.8 378.3L233.2 374.2L233.6 369.9L234.0 366.0L234.5 361.8L235.0 357.8L235.5 354.0L236.0 350.2L236.4 347.0L236.9 343.9L237.3 340.8L237.8 337.6L238.2 334.4L238.6 330.7L239.1 326.8L239.6 323.1L240.0 320.0L240.5 317.2L241.0 314.8L241.5 312.7L242.0 311.0L242.5 309.5L243.0 308.0L243.5 306.7L244.0 305.8L244.5 305.5L244.9 305.9L245.4 306.9L245.8 308.3L246.3 310.2L246.8 312.3L247.2 314.5L247.7 316.7L248.1 318.7L248.6 320.7L249.0 322.7L249.5 324.8L249.9 327.0L250.4 329.4L250.8 331.8L251.3 334.4L251.8 337.2L252.2 340.4L252.7 343.7L253.1 347.0L253.6 350.2L254.1 353.3L254.6 356.2L255.0 359.2L255.5 362.4L256.0 366.0L256.4 369.3L256.8 373.0L257.2 377.1L257.6 381.7L258.1 389.3L258.6 397.5L259.0 403.2L259.4 408.5L259.8 413.8L260.2 419.0L260.6 424.8L261.0 430.8L261.5 436.3L261.9 441.0L262.4 445.2L262.9 448.9L263.3 452.3L263.8 455.5L264.3 458.7L264.7 461.7L265.2 464.7L265.6 467.6L266.1 470.4L266.5 473.0L267.0 475.7L267.5 478.4L267.9 480.9L268.4 483.3L268.9 485.5L269.4 487.3L269.9 488.9L270.3 490.4L270.8 491.9L271.3 493.3L271.8 494.6L272.2 495.8L272.7 497.0L273.2 498.1L273.7 499.1L274.2 500.0L274.6 500.8L275.1 501.6L275.6 502.3L276.1 503.0L276.6 503.7L277.1 504.4L277.6 505.0L278.1 505.6L278.6 506.2L279.1 506.7L279.6 507.3L280.1 507.8L280.6 508.3L281.1 508.7L281.6 509.2L282.1 509.6L282.6 510.0L283.1 510.4L283.6 510.7L284.1 511.1L284.6 511.4L285.1 511.7L285.6 512.0L286.1 512.3L286.6 512.6L287.0 512.8L287.5 513.1L288.0 513.4L288.5 513.6L289.0 513.9L289.5 514.1L290.0 514.3L290.4 514.6L290.9 514.8L291.4 515.0L291.9 515.2L292.4 515.4L292.9 515.6L293.4 515.8L293.8 516.0L294.3 516.1L294.8 516.3L295.3 516.5L295.8 516.6L296.3 516.8L296.8 516.9L297.2 517.0L297.7 517.2L298.2 517.3L298.7 517.4L299.2 517.5L299.7 517.6L300.2 517.7L300.7 517.8L301.2 517.9L301.7 517.9L302.2 518.0L302.6 518.1L303.1 518.2L303.6 518.2L304.1 518.3L304.6 518.3L305.1 518.4L305.6 518.5L306.1 518.5L306.6 518.6L307.1 518.6L307.6 518.7L308.1 518.8L308.6 518.8L309.1 518.9L309.5 518.9L310.0 519.0L310.5 519.1L311.0 519.2L311.5 519.2L312.0 519.3L312.5 519.4L313.0 519.5L313.5 519.6L314.0 519.7L314.5 519.8L315.0 520.0L315.5 520.1L315.9 520.3L316.4 520.4L316.9 520.6L317.4 520.7L317.9 520.9L318.4 521.0L318.9 521.2L319.4 521.4L319.9 521.5L320.4 521.7L320.9 521.8L321.3 521.9L321.8 522.0L322.3 522.2L322.8 522.3L323.3 522.3L323.8 522.4L324.3 522.5L324.8 522.5L325.3 522.6L325.8 522.6L326.3 522.7L326.8 522.7L327.2 522.8L327.7 522.8L328.2 522.9L328.7 522.9L329.2 523.0L329.7 523.0L330.2 523.0L330.7 523.1L331.2 523.1L331.7 523.2L332.2 523.2L332.7 523.2L333.2 523.3L333.7 523.3L334.1 523.3L334.6 523.4L335.1 523.4L335.6 523.4L336.1 523.5L336.6 523.5L337.1 523.5L337.6 523.6L338.1 523.6L338.6 523.6L339.1 523.6L339.6 523.7L340.1 523.7L340.6 523.7L341.1 523.7L341.5 523.8L342.0 523.8L342.5 523.8L343.0 523.9L343.5 523.9L344.0 523.9L344.5 523.9L345.0 524.0L345.5 524.0L346.0 524.0L346.5 524.0L347.0 524.1L347.5 524.1L347.9 524.1L348.4 524.1L348.9 524.2L349.4 524.2L349.9 524.2L350.4 524.2L350.9 524.3L351.4 524.3L351.9 524.3L352.4 524.4L352.9 524.4L353.4 524.4L353.9 524.5L354.4 524.5L354.9 524.5L355.4 524.5L355.9 524.6L356.4 524.6L356.9 524.6L357.4 524.7L357.9 524.7L358.4 524.7L358.9 524.8L359.4 524.8L359.9 524.8L360.4 524.9L360.9 524.9L361.4 525.0L361.9 525.0L362.3 525.0L362.8 525.1L363.3 525.1L363.8 525.1L364.3 525.2L364.8 525.2L365.3 525.2L365.8 525.3L366.3 525.3L366.8 525.3L367.3 525.4L367.8 525.4L368.3 525.4L368.8 525.5L369.3 525.5L369.8 525.5L370.3 525.6L370.8 525.6L371.3 525.6L371.8 525.7L372.3 525.7L372.8 525.7L373.3 525.7L373.8 525.8L374.3 525.8L374.8 525.8L375.3 525.9L375.8 525.9L376.3 525.9L376.8 526.0L377.3 526.0L377.8 526.0L378.3 526.0L378.8 526.1L379.3 526.1L379.8 526.1L380.3 526.1L380.8 526.2L381.3 526.2L381.8 526.2L382.3 526.2L382.8 526.2L383.3 526.3L383.7 526.3L384.2 526.3L384.7 526.3L385.2 526.3L385.7 526.4L386.2 526.4L386.7 526.4L387.2 526.4L387.7 526.4L388.2 526.4L388.7 526.4L389.2 526.4L389.7 526.5L390.2 526.5L390.7 526.5L391.2 526.5L391.7 526.5L392.2 526.5L392.7 526.5L393.2 526.5L393.7 526.5L394.2 526.5L394.7 526.5L395.2 526.5L395.7 526.5L396.2 526.5L396.7 526.5L397.2 526.5L397.7 526.4L398.1 526.4L398.6 526.4L399.1 526.4L399.6 526.3L400.1 526.3L400.6 526.3L401.1 526.3L401.6 526.2L402.1 526.2L402.6 526.2L403.1 526.1L403.6 526.1L404.1 526.0L404.6 526.0L405.0 525.9L405.5 525.9L406.0 525.9L406.5 525.8L407.0 525.8L407.5 525.7L408.0 525.7L408.5 525.6L409.0 525.6L409.5 525.5L410.0 525.5L410.5 525.4L411.0 525.4L411.5 525.3L412.0 525.3L412.4 525.2L412.9 525.2L413.4 525.1L413.9 525.1L414.4 525.0L414.9 525.0L415.4 524.9L415.9 524.9L416.4 524.8L416.9 524.8L417.4 524.7L417.9 524.7L418.4 524.6L418.9 524.6L419.3 524.6L419.8 524.5L420.3 524.5L420.8 524.4L421.3 524.4L421.8 524.4L422.3 524.3L422.8 524.3L423.3 524.3L423.8 524.2L424.3 524.2L424.8 524.2L425.3 524.2L425.8 524.1L426.3 524.1L426.8 524.1L427.3 524.1L427.8 524.0L428.3 524.0L428.8 524.0L429.3 524.0L429.8 523.9L430.3 523.9L430.8 523.9L431.3 523.9L431.8 523.9L432.3 523.8L432.8 523.8L433.3 523.8L433.8 523.8L434.3 523.8L434.8 523.8L435.3 523.7L435.8 523.7L436.3 523.7L436.8 523.7L437.3 523.7L437.8 523.6L438.3 523.6L438.8 523.6L439.3 523.6L439.8 523.6L440.3 523.6L440.8 523.5L441.3 523.5L441.8 523.5L442.3 523.5L442.8 523.5L443.2 523.5L443.7 523.4L444.2 523.4L444.7 523.4L445.2 523.4L445.7 523.4L446.2 523.3L446.7 523.3L447.2 523.3L447.7 523.3L448.2 523.3L448.7 523.2L449.2 523.2L449.7 523.2L450.2 523.2L450.7 523.1L451.2 523.1L451.7 523.1L452.2 523.1L452.7 523.0L453.2 523.0L453.7 523.0L454.2 523.0L454.7 522.9L455.2 522.9L455.7 522.9L456.2 522.8L456.7 522.8L457.2 522.8L457.7 522.7L458.2 522.7L458.7 522.6L459.2 522.6L459.7 522.6L460.2 522.5L460.7 522.5L461.2 522.4L461.7 522.4L462.2 522.3L462.7 522.3L463.2 522.2L463.7 522.2L464.2 522.1L464.7 522.0L465.2 521.9L465.6 521.7L466.1 521.6L466.6 521.5L467.1 521.3L467.6 521.1L468.1 521.0L468.6 520.8L469.1 520.6L469.6 520.4L470.1 520.2L470.6 520.0L471.1 519.8L471.5 519.6L472.0 519.3L472.5 519.1L473.0 518.9L473.5 518.7L474.0 518.5L474.5 518.3L475.0 518.1L475.5 517.9L476.0 517.7L476.5 517.5L477.0 517.4L477.4 517.2L477.9 517.0L478.4 516.9L478.9 516.7L479.4 516.6L479.9 516.5L480.4 516.4L480.9 516.3L481.4 516.2L481.9 516.1L482.3 515.9L482.8 515.8L483.3 515.7L483.8 515.6L484.3 515.5L484.8 515.4L485.3 515.3L485.8 515.2L486.3 515.1L486.7 515.0L487.2 514.9L487.7 514.8L488.2 514.7L488.7 514.6L489.2 514.5L489.7 514.4L490.2 514.3L490.6 514.2L491.1 514.2L491.6 514.1L492.1 514.0L492.6 514.0L493.1 513.9L493.6 513.9L494.1 513.8L494.6 513.8L495.0 513.8L495.5 513.7L496.0 513.7L496.5 513.7L497.0 513.7L497.5 513.7L498.0 513.8L498.5 514.0L499.0 514.2L499.5 514.4L500.0 514.7L500.5 515.0L501.0 515.3L501.5 515.7L502.0 516.1L502.5 516.5L502.9 516.9L503.4 517.4L503.9 517.8L504.4 518.3L504.9 518.7L505.4 519.2L505.9 519.6L506.4 520.0L506.9 520.4L507.4 520.8L507.9 521.1L508.4 521.4L508.9 521.7L509.4 522.0L509.9 522.3L510.4 522.6L510.9 522.9L511.4 523.3L511.9 523.6L512.3 523.9L512.8 524.2L513.3 524.6L513.8 524.9L514.3 525.2L514.8 525.5L515.3 525.8L515.8 526.1L516.3 526.4L516.8 526.7L517.3 526.9L517.8 527.2L518.3 527.4L518.8 527.6L519.2 527.8L519.7 528.0L520.2 528.1L520.7 528.3L521.2 528.4L521.7 528.4L522.2 528.5L522.7 528.5L523.2 528.5L523.7 528.5L524.2 528.5L524.7 528.5L525.2 528.5L525.7 528.5L526.2 528.4L526.6 528.4L527.1 528.4L527.6 528.4L528.1 528.4L528.6 528.3L529.1 528.3L529.6 528.3L530.1 528.2L530.6 528.2L531.1 528.2L531.6 528.1L532.1 528.1L532.6 528.1L533.1 528.0L533.5 528.0L534.0 528.0L534.5 527.9L535.0 527.9L535.5 527.8L536.0 527.8L536.5 527.7L537.0 527.7L537.5 527.7L538.0 527.6L538.5 527.6L539.0 527.5L539.5 527.5L540.0 527.4L540.5 527.4L540.9 527.3L541.4 527.3L541.9 527.2L542.4 527.2L542.9 527.1L543.4 527.1L543.9 527.1L544.4 527.0L544.9 527.0L545.4 526.9L545.9 526.9L546.4 526.8L546.9 526.8L547.4 526.8L547.8 526.7L548.3 526.7L548.8 526.7L549.3 526.6L549.8 526.6L550.3 526.6L550.8 526.5L551.3 526.5L551.8 526.5L552.3 526.4L552.8 526.4L553.3 526.4L553.7 526.4L554.2 526.4L554.7 526.3L555.2 526.3L555.7 526.3L556.2 526.3L556.7 526.3L557.2 526.2L557.7 526.2L558.1 526.2L558.6 526.2L559.1 526.2L559.6 526.2L560.1 526.1L560.6 526.1L561.1 526.1L561.6 526.1L562.0 526.1L562.5 526.0L563.0 526.0L563.5 526.0L564.0 526.0L564.5 526.0L565.0 525.9L565.5 525.9L566.0 525.9L566.4 525.8L566.9 525.8L567.4 525.8L567.9 525.7L568.4 525.7L568.9 525.7L569.4 525.6L569.9 525.5L570.4 525.4L570.9 525.3L571.4 525.2L571.9 525.0L572.3 524.9L572.8 524.8L573.3 524.6L573.8 524.4L574.3 524.3L574.8 524.1L575.3 523.9L575.8 523.8L576.3 523.6L576.8 523.5L577.3 523.3L577.8 523.1L578.3 523.0L578.8 522.9L579.2 522.7L579.7 522.6L580.2 522.5L580.7 522.5L581.2 522.4L581.7 522.3L582.2 522.3L582.7 522.3L583.2 522.3L583.7 522.4L584.2 522.5L584.7 522.6L585.2 522.8L585.7 523.0L586.2 523.2L586.7 523.5L587.2 523.8L587.7 524.1L588.2 524.4L588.6 524.7L589.1 525.0L589.6 525.3L590.1 525.7L590.6 526.0L591.1 526.3L591.6 526.6L592.1 526.9L592.6 527.2L593.1 527.5L593.6 527.8L594.1 528.0L594.6 528.2L595.1 528.4L595.6 528.7L596.1 528.9L596.5 529.2L597.0 529.4L597.5 529.6L598.0 529.9L598.5 530.1L599.0 530.4L599.5 530.6L600.0 530.9L600.5 531.1L600.9 531.4L601.4 531.6L601.9 531.8L602.4 532.1L602.9 532.3L603.4 532.5L603.9 532.7L604.4 532.9L604.8 533.1L605.3 533.3L605.8 533.5L606.3 533.7L606.8 533.8L607.3 534.0L607.8 534.1L608.3 534.3L608.8 534.4L609.2 534.5L609.7 534.6L610.2 534.7L610.7 534.8L611.2 534.8L611.7 534.8L612.2 534.9L612.7 534.9L613.2 535.0L613.7 535.0L614.2 535.0L614.7 535.1L615.2 535.1L615.7 535.2L616.2 535.2L616.7 535.2L617.2 535.3L617.7 535.3L618.2 535.3L618.7 535.4L619.2 535.4L619.7 535.5L620.2 535.5L620.7 535.5L621.2 535.5L621.7 535.6L622.2 535.6L622.7 535.6L623.2 535.7L623.7 535.7L624.2 535.7L624.7 535.8L625.2 535.8L625.7 535.8L626.2 535.8L626.7 535.9L627.2 535.9L627.7 535.9L628.2 535.9L628.7 536.0L629.2 536.0L629.7 536.0L630.2 536.0L630.7 536.1L631.2 536.1L631.7 536.1L632.2 536.1L632.7 536.1L633.2 536.2L633.7 536.2L634.2 536.2L634.7 536.2L635.2 536.2L635.7 536.2L636.2 536.3L636.7 536.3L637.2 536.3L637.7 536.3L638.2 536.3L638.7 536.3L639.2 536.3L639.7 536.4L640.2 536.4L640.7 536.4L641.2 536.4L641.7 536.4L642.2 536.4L642.7 536.4L643.2 536.4L643.7 536.4L644.2 536.4L644.7 536.5L645.2 536.5L645.7 536.5L646.2 536.5L646.7 536.5L647.2 536.5L647.7 536.5L648.2 536.5L648.7 536.5L649.2 536.5L649.7 536.5L650.2 536.5L650.7 536.5L651.2 536.5L651.7 536.5L652.2 536.5L652.7 536.5L653.2 536.4L653.7 536.4L654.2 536.4L654.7 536.3L655.2 536.3L655.7 536.2L656.2 536.2L656.7 536.1L657.2 536.0L657.7 536.0L658.2 535.9L658.7 535.8L659.2 535.7L659.7 535.6L660.2 535.6L660.7 535.5L661.2 535.4L661.7 535.3L662.2 535.2L662.7 535.2L663.2 535.1L663.7 535.0L664.2 534.9L664.7 534.8L665.2 534.8L665.7 534.7L666.2 534.6L666.7 534.6L667.2 534.5L667.7 534.5L668.2 534.4L668.7 534.4L669.2 534.4L669.7 534.3L670.2 534.3L670.7 534.3L671.2 534.3L671.7 534.3L672.2 534.3L672.7 534.3L673.2 534.3L673.7 534.4L674.2 534.4L674.7 534.4L675.2 534.5L675.7 534.5L676.2 534.6L676.7 534.6L677.2 534.7L677.7 534.7L678.2 534.8L678.6 534.9L679.1 534.9L679.6 535.0L680.1 535.1L680.6 535.2L681.1 535.2L681.6 535.3L682.1 535.4L682.6 535.5L683.1 535.6L683.6 535.7L684.1 535.7L684.6 535.8L685.1 535.9L685.6 536.0L686.1 536.1L686.6 536.2L687.1 536.3L687.6 536.3L688.1 536.4L688.6 536.5L689.1 536.6L689.6 536.7L690.1 536.8L690.6 536.8L691.1 536.9L691.6 537.0L692.1 537.1L692.6 537.1L693.0 537.2L693.5 537.3L694.0 537.3L694.5 537.4L695.0 537.4L695.5 537.5L696.0 537.5L696.5 537.6L697.0 537.6L697.5 537.6L698.0 537.7L698.5 537.7L699.0 537.7L699.5 537.7L700.0 537.7L700.5 537.7L701.0 537.7L701.5 537.7L702.0 537.7L702.5 537.7L703.0 537.7L703.5 537.7L704.0 537.7L704.5 537.7L705.0 537.7L705.5 537.7L706.0 537.7L706.5 537.7L707.0 537.7L707.5 537.7L708.0 537.7L708.5 537.7L709.0 537.7L709.5 537.7L710.0 537.7L710.5 537.7L711.0 537.7L711.5 537.7L712.0 537.7L712.5 537.7L713.0 537.7L713.5 537.7L714.0 537.7L714.5 537.7L715.0 537.7L715.5 537.7L716.0 537.7L716.5 537.7L717.0 537.7L717.5 537.7L718.0 537.7L718.5 537.7L719.0 537.7L719.5 537.7L720.0 537.7L720.5 537.7L721.0 537.7L721.5 537.7L722.0 537.7L722.5 537.7L723.0 537.7L723.5 537.7L724.0 537.7L724.5 537.7L725.0 537.7L725.5 537.7L726.0 537.7L726.5 537.7L727.0 537.7L727.5 537.7L728.0 537.7L728.5 537.7L729.0 537.7L729.5 537.7L730.0 537.7L730.5 537.7L731.0 537.7L731.5 537.7L732.0 537.7L732.5 537.7L733.0 537.7L733.5 537.7L734.0 537.7L734.5 537.7L735.0 537.7L735.5 537.7L736.0 537.7L736.5 537.7L737.0 537.7L737.5 537.7L738.0 537.7L738.5 537.7L739.0 537.7L739.5 537.7L740.0 537.7L740.5 537.7L741.0 537.7L741.5 537.7L742.0 537.7L742.5 537.7L743.0 537.7L743.5 537.7L744.0 537.7L744.5 537.7L745.0 537.7L745.5 537.7L746.0 537.7L746.5 537.7L747.0 537.7L747.5 537.7L748.0 537.7L748.5 537.7L749.0 537.7L749.5 537.7L750.0 537.7L750.5 537.7L751.0 537.7L751.5 537.7L752.0 537.7L752.5 537.7L753.0 537.7L753.5 537.7L754.0 537.7L754.5 537.7L755.0 537.7L755.5 537.7L756.0 537.7L756.5 537.7L757.0 537.7L757.5 537.7L758.0 537.7L758.5 537.7L759.0 537.7L759.5 537.7L760.0 537.7L760.5 537.7L761.0 537.7L761.5 537.7L762.0 537.7L762.5 537.7L763.0 537.7L763.5 537.7L764.0 537.7L764.5 537.7L765.0 537.7L765.5 537.7L766.0 537.7L766.5 537.7L767.0 537.7L767.5 537.7L768.0 537.7L768.5 537.7L769.0 537.7L769.5 537.7L770.0 537.7L770.5 537.7L771.0 537.7L771.5 537.7L772.0 537.7L772.5 537.7L773.0 537.7L773.5 537.7L774.0 537.7L774.5 537.7L775.0 537.7L775.5 537.7L776.0 537.7L776.5 537.7L777.0 537.7L777.5 537.7L778.0 537.7L778.5 537.7L779.0 537.7L779.5 537.7L780.0 537.7L780.5 537.7L781.0 537.7L781.5 537.7L782.0 537.7L782.5 537.7L783.0 537.7L783.5 537.7L784.0 537.7L784.5 537.7L785.0 537.7L785.5 537.7L786.0 537.7L786.5 537.7L787.0 537.7L787.5 537.7L788.0 537.7L788.5 537.7L789.0 537.7L789.5 537.7L790.0 537.7L790.5 537.7L791.0 537.7L791.5 537.7L792.0 537.7L792.5 537.7L793.0 537.7L793.5 537.7L794.0 537.7L794.5 537.7L795.0 537.7L795.5 537.7L796.0 537.7L796.5 537.7L797.0 537.7L797.5 537.7L798.0 537.7L798.5 537.7L799.0 537.7L799.5 537.7L800.0 537.7L800.5 537.7L801.0 537.7L801.5 537.7L802.0 537.7L802.5 537.7L803.0 537.7L803.5 537.7L804.0 537.7L804.5 537.7L805.0 537.7L805.5 537.7L806.0 537.7L806.5 537.7L807.0 537.7L807.5 537.7L808.0 537.7L808.5 537.7L809.0 537.7L809.5 537.7L810.0 537.7L810.5 537.7L811.0 537.7L811.5 537.7L812.0 537.7L812.5 537.7L813.0 537.7L813.5 537.7L814.0 537.7L814.5 537.7L815.0 537.7L815.5 537.7L816.0 537.7L816.5 537.7L817.0 537.7L817.5 537.7L818.0 537.7L818.5 537.7L819.0 537.7L819.5 537.7L820.0 537.7L820.5 537.7L821.0 537.8L821.5 537.8L822.0 537.8L822.5 537.9L823.0 537.9L823.5 538.0L824.0 538.1L824.4 538.1L824.9 538.2L825.4 538.3L825.9 538.4L826.4 538.5L826.9 538.5L827.4 538.6L827.9 538.7L828.4 538.8L828.9 538.9L829.4 539.0L829.9 539.1L830.4 539.2L830.9 539.3L831.4 539.4L831.9 539.5L832.4 539.5L832.9 539.6L833.4 539.7L833.9 539.8L834.4 539.9L834.8 539.9L835.3 540.0L835.8 540.1L836.3 540.1L836.8 540.2L837.3 540.2L837.8 540.2L838.3 540.3L838.8 540.3L839.3 540.3L839.8 540.3L840.3 540.3L840.8 540.3L841.3 540.2L841.8 540.2L842.3 540.1L842.8 540.0L843.2 539.9L843.7 539.8L844.2 539.7L844.7 539.6L845.2 539.4L845.7 539.3L846.2 539.1L846.7 539.0L847.2 538.8L847.7 538.7L848.2 538.5L848.7 538.3L849.1 538.2L849.6 538.0L850.1 537.8L850.6 537.7L851.1 537.5L851.6 537.4L852.1 537.2L852.6 537.1L853.1 536.9L853.6 536.8L854.1 536.7L854.6 536.6L855.0 536.5L855.5 536.4L856.0 536.3L856.5 536.3L857.0 536.2L857.5 536.2L858.0 536.2L858.5 536.2L859.0 536.2L859.5 536.2L860.0 536.2L860.5 536.2L861.0 536.2L861.5 536.2L862.0 536.2L862.5 536.2L863.0 536.2L863.5 536.2L864.0 536.2L864.5 536.2L865.0 536.2L865.5 536.2L866.0 536.2L866.5 536.2L867.0 536.2L867.5 536.2L868.0 536.2L868.5 536.2L869.0 536.2L869.5 536.2L870.0 536.2L870.5 536.2L871.0 536.2L871.5 536.2L872.0 536.2L872.5 536.2L873.0 536.2L873.5 536.2L874.0 536.2L874.5 536.2L875.0 536.2L875.5 536.2L876.0 536.2L876.5 536.3L877.0 536.5L877.5 536.9L878.0 537.4L878.5 537.9L879.0 538.3L879.5 538.8L880.0 539.2L880.5 539.4L881.0 539.5L881.5 539.5L882.0 539.5L882.5 539.5L883.0 539.5L883.5 539.5L884.0 539.5L884.5 539.5L885.0 539.5L885.5 539.5L886.0 539.5L886.5 539.5L887.0 539.5L887.5 539.5L888.0 539.5L888.5 539.5L889.0 539.5L889.5 539.5L890.0 539.5L890.5 539.5L891.0 539.5L891.5 539.5L892.0 539.5L892.5 539.5L893.0 539.5L893.5 539.5L894.0 539.5L894.5 539.5L895.0 539.5L895.5 539.5L896.0 539.5L896.5 539.5L897.0 539.5L897.5 539.5L898.0 539.5L898.5 539.5L899.0 539.5L899.5 539.5L900.0 539.5L900.5 539.5L901.0 539.5L901.5 539.5L902.0 539.5L902.5 539.5L903.0 539.5L903.5 539.5L904.0 539.5L904.5 539.5L905.0 539.5L905.5 539.5L906.0 539.5L906.5 539.5L907.0 539.5L907.4 539.5L907.9 539.5L908.4 539.5L908.9 539.5L909.4 539.5L909.9 539.5L910.4 539.5L910.9 539.5L911.4 539.5L911.9 539.5L912.4 539.5L912.9 539.5L913.4 539.5L913.9 539.5L914.4 539.5L914.9 539.5L915.4 539.5L915.9 539.5L916.4 539.5L916.9 539.5L917.4 539.5L917.9 539.5L918.4 539.5L918.9 539.5L919.4 539.5L919.9 539.5L920.4 539.5L920.9 539.5L921.4 539.5L921.9 539.5L922.4 539.5L922.9 539.5L923.4 539.5L923.9 539.5L924.4 539.5L924.9 539.5L925.4 539.5L925.9 539.5L926.4 539.5L926.9 539.5L927.4 539.5L927.9 539.5L928.4 539.5L928.9 539.5L929.4 539.5L929.9 539.5L930.4 539.5L930.9 539.5L931.4 539.5L931.9 539.5L932.4 539.5L932.9 539.5L933.4 539.5L933.9 539.5L934.4 539.5L934.9 539.5L935.4 539.5L935.9 539.5L936.4 539.5L936.9 539.5L937.4 539.5L937.9 539.5L938.4 539.5L938.9 539.5L939.4 539.5L939.9 539.5L940.4 539.5L940.9 539.5L941.4 539.5L941.9 539.5L942.4 539.5L942.9 539.5L943.4 539.5L943.9 539.5L944.4 539.5L944.9 539.5L945.4 539.5L945.9 539.5L946.4 539.5L946.9 539.5L947.4 539.5L947.9 539.5L948.4 539.5L948.9 539.5L949.4 539.5L949.9 539.5L950.4 539.5L950.9 539.5L951.4 539.5L951.9 539.5L952.4 539.5L952.9 539.5L953.4 539.5L953.9 539.5L954.4 539.5L954.9 539.5L955.4 539.5L955.9 539.5L956.4 539.5L956.9 539.5L957.4 539.5L957.9 539.5L958.4 539.5L958.9 539.5L959.4 539.5L959.9 539.5L960.3 539.5L960.8 539.5L961.3 539.5L961.8 539.5L962.3 539.5L962.8 539.5L963.3 539.5L963.8 539.5L964.3 539.5L964.8 539.5L965.3 539.5L965.8 539.5L966.3 539.5L966.8 539.5L967.3 539.5L967.8 539.5L968.3 539.5L968.8 539.5L969.3 539.5L969.8 539.5L970.3 539.5L970.8 539.5L971.3 539.5L971.8 539.5L972.3 539.5L972.8 539.5L973.3 539.5L973.8 539.5L974.3 539.5L974.8 539.5L975.3 539.5L975.8 539.5L976.3 539.5L976.8 539.5L977.3 539.5L977.8 539.5L978.3 539.5L978.8 539.5L979.3 539.5L979.8 539.5L980.3 539.5L980.8 539.5L981.3 539.5L981.8 539.5L982.3 539.5L982.8 539.5L983.3 539.5L983.8 539.5L984.3 539.5L984.8 539.5L985.3 539.5L985.8 539.5L986.3 539.5L986.8 539.5L987.3 539.5L987.8 539.5L988.3 539.5L988.8 539.5L989.3 539.5L989.8 539.5L990.3 539.5L990.8 539.5L991.3 539.5L991.8 539.5L992.3 539.5L992.8 539.5L993.3 539.5L993.8 539.5L994.3 539.5L994.8 539.5L995.3 539.5L995.8 539.5L996.3 539.5L996.8 539.5L997.3 539.5L997.8 539.5L998.3 539.5L998.8 539.5L999.3 539.5L999.8 539.5L1000.3 539.5L1000.8 539.5L1001.3 539.5L1001.8 539.5L1002.3 539.5L1002.8 539.5L1003.3 539.5L1003.8 539.5L1004.3 539.5L1004.8 539.5L1005.3 539.5L1005.8 539.5L1006.3 539.5L1006.8 539.5L1007.3 539.5L1007.8 539.5L1008.3 539.5L1008.8 539.5L1009.3 539.5L1009.8 539.5L1010.3 539.5L1010.8 539.5L1011.3 539.5L1011.8 539.5L1012.3 539.5L1012.7 539.5L1013.2 539.5L1013.7 539.5L1014.2 539.5L1014.7 539.5L1015.2 539.5L1015.7 539.5L1016.2 539.5L1016.7 539.5L1017.2 539.5L1017.7 539.5L1018.2 539.5L1018.7 539.5L1019.2 539.5L1019.7 539.5L1020.2 539.5L1020.7 539.5L1021.2 539.5L1021.7 539.5L1022.2 539.5L1022.7 539.5L1023.2 539.5L1023.7 539.5L1024.2 539.5L1024.7 539.5L1025.2 539.5L1025.7 539.5L1026.2 539.5L1026.7 539.5L1027.2 539.5L1027.7 539.5L1028.2 539.5L1028.7 539.5L1029.2 539.5L1029.7 539.5L1030.2 539.5L1030.7 539.5L1031.2 539.5L1031.7 539.5L1032.2 539.5L1032.7 539.5L1033.2 539.5L1033.7 539.5L1034.2 539.5L1034.7 539.5L1035.2 539.5L1035.7 539.5L1036.2 539.5L1036.7 539.5L1037.2 539.5L1037.7 539.5L1038.2 539.5L1038.7 539.5L1039.2 539.5L1039.7 539.5L1040.2 539.6L1040.7 539.7L1041.2 539.8L1041.7 539.9L1042.2 540.0L1042.7 540.1L1043.2 540.2L1043.7 540.4L1044.2 540.5L1044.7 540.7L1045.2 540.8L1045.7 540.9L1046.2 541.1L1046.7 541.2L1047.2 541.4L1047.7 541.5L1048.2 541.6L1048.7 541.7L1049.2 541.8L1049.7 541.9L1050.2 542.0L1050.7 542.1L1051.2 542.1L1051.7 542.1L1052.2 542.1L1052.7 542.1L1053.2 542.0L1053.7 542.0L1054.2 541.9L1054.7 541.9L1055.2 541.8L1055.7 541.7L1056.2 541.6L1056.6 541.5L1057.1 541.4L1057.6 541.3L1058.1 541.2L1058.6 541.1L1059.1 541.0L1059.6 540.9L1060.1 540.7L1060.6 540.6L1061.1 540.5L1061.6 540.4L1062.1 540.2L1062.6 540.1L1063.1 540.0L1063.6 539.9L1064.1 539.8L1064.6 539.7L1065.1 539.6L1065.5 539.5L1066.0 539.4L1066.5 539.3L1067.0 539.2L1067.5 539.2L1068.0 539.1L1068.5 539.1L1069.0 539.0L1069.5 539.0L1070.0 539.0L1070.5 539.0L1071.0 539.0L1071.5 539.0L1072.0 539.0L1072.5 539.0L1073.0 539.0L1073.5 539.0L1073.9 539.0L1074.4 539.0L1074.9 539.0L1075.4 539.0L1075.9 539.0L1076.4 539.0L1076.9 539.0L1077.4 539.1L1077.9 539.1L1078.4 539.1L1078.9 539.1L1079.4 539.1L1079.9 539.1L1080.3 539.1L1080.8 539.1L1081.3 539.1L1081.8 539.1L1082.3 539.2L1082.8 539.2L1083.3 539.2L1083.8 539.2L1084.3 539.2L1084.8 539.2L1085.3 539.3L1085.8 539.3L1086.3 539.3L1086.8 539.3L1087.2 539.3L1087.7 539.4L1088.2 539.4L1088.7 539.4L1089.2 539.4L1089.7 539.4L1090.2 539.5L1090.7 539.5L1091.2 539.6L1091.7 539.7L1092.1 539.9L1092.6 540.2L1093.1 540.4L1093.6 540.7L1094.1 541.0L1094.6 541.2L1095.0 541.4L1095.5 541.6L1096.0 541.6L1096.5 541.6L1097.0 541.6L1097.5 541.6L1098.0 541.6L1098.5 541.6L1099.0 541.6L1099.5 541.6L1100.0 541.6L1100.5 541.6L1101.0 541.6L1101.5 541.6L1102.0 541.6L1102.5 541.6L1103.0 541.6L1103.5 541.6L1104.0 541.6L1104.5 541.6L1105.0 541.6L1105.5 541.6L1106.0 541.6L1106.5 541.6L1107.0 541.6L1107.5 541.6L1108.0 541.6L1108.5 541.6L1109.0 541.6L1109.5 541.6L1110.0 541.6L1110.5 541.6L1111.0 541.6L1111.5 541.6L1112.0 541.6L1112.5 541.6L1113.0 541.6L1113.5 541.6L1114.0 541.6L1114.5 541.6L1115.0 541.6L1115.5 541.6L1116.0 541.6L1116.5 541.6L1117.0 541.6L1117.5 541.6L1118.0 541.6L1118.5 541.6L1119.0 541.6L1119.5 541.6L1120.0 541.6L1120.5 541.6L1121.0 541.6L1121.5 541.6L1122.0 541.6L1122.5 541.3L1123.0 540.5L1123.5 539.8L1124.0 539.5L1124.5 539.5L1125.0 539.5L1125.5 539.5L1126.0 539.5L1126.5 539.5L1127.0 539.5L1127.5 539.5L1128.0 539.5L1128.5 539.5L1128.9 539.5L1129.4 539.5L1129.9 539.5L1130.4 539.5L1130.9 539.5L1131.4 539.5L1131.9 539.5L1132.4 539.5L1132.9 539.5L1133.4 539.5L1133.9 539.5L1134.4 539.5L1134.9 539.5L1135.4 539.5L1135.9 539.5L1136.4 539.5L1136.9 539.5L1137.4 539.5L1137.9 539.5L1138.3 539.5L1138.8 539.5L1139.3 539.5L1139.8 539.5L1140.3 539.5L1140.8 539.5L1141.3 539.5L1141.8 539.5L1142.3 539.5L1142.8 539.5L1143.3 539.5L1143.8 539.5L1144.3 539.5L1144.8 539.5L1145.3 539.5L1145.8 539.5L1146.3 539.5L1146.8 539.5L1147.3 539.5L1147.8 539.5L1148.2 539.5L1148.7 539.5L1149.2 539.5L1149.7 539.5L1150.2 539.5L1150.7 539.5L1151.2 539.5L1151.7 539.5L1152.2 539.5L1152.7 539.5L1153.2 539.7L1153.6 540.2L1154.1 540.9L1154.5 541.4L1155.0 541.6L1155.5 541.6L1156.0 541.6L1156.5 541.6L1157.0 541.6L1157.5 541.6L1158.0 541.6L1158.5 541.6L1159.0 541.6L1159.5 541.6L1160.0 541.6L1160.5 541.6L1161.0 541.6L1161.5 541.6L1162.0 541.6L1162.5 541.6L1163.0 541.6L1163.5 541.6L1164.0 541.6L1164.5 541.6L1165.0 541.6L1165.5 541.6L1166.0 541.6L1166.5 541.6L1167.0 541.6L1167.5 541.6L1168.0 541.6L1168.5 541.6L1169.0 541.6L1169.5 541.6L1170.0 541.6L1170.5 541.6L1171.0 541.6L1171.5 541.6L1172.0 541.6L1172.5 541.6L1173.0 541.6L1173.5 541.6L1174.0 541.6L1174.5 541.6L1175.0 541.6L1175.5 541.6L1176.0 541.6L1176.5 541.6L1177.0 541.6L1177.5 541.6L1178.0 541.6L1178.5 541.6L1179.0 541.6L1179.5 541.6L1180.0 541.6L1180.5 541.6L1181.0 541.6L1181.5 541.6L1182.0 541.6L1182.5 541.6L1183.0 541.6L1183.5 541.6L1184.0 541.6L1184.5 541.6L1185.0 541.6L1185.5 541.6L1186.0 541.6L1186.5 541.6L1187.0 541.6L1187.5 541.6L1188.0 541.6L1188.5 541.6L1189.0 541.6L1189.5 541.6L1190.0 541.6L1190.5 541.6L1191.0 541.6L1191.5 541.6L1192.0 541.6L1192.5 541.6L1193.0 541.6L1193.5 541.6L1194.0 541.6L1194.5 541.6L1195.0 541.6L1195.5 541.6L1196.0 541.6L1196.5 541.6L1197.0 541.6L1197.5 541.6L1198.0 541.6L1198.5 541.6L1199.0 541.6L1199.5 541.6L1200.0 541.6L1200.5 541.6L1201.0 541.6L1201.5 541.6L1202.0 541.6L1202.5 541.6L1203.0 541.6L1203.5 541.6L1204.0 541.6L1204.5 541.6L1205.0 541.6L1205.5 541.6L1206.0 541.6L1206.5 541.6L1207.0 541.6L1207.5 541.6L1208.0 541.6L1208.5 541.6L1209.0 541.6L1209.5 541.6L1210.0 541.6L1210.5 541.6L1211.0 541.6L1211.5 541.6L1212.0 541.6L1212.5 541.6L1213.0 541.6L1213.5 541.6L1214.0 541.6L1214.5 541.6L1215.0 541.6L1215.5 541.6L1216.0 541.6L1216.5 541.6L1217.0 541.6L1217.5 541.6L1218.0 541.6L1218.5 541.6L1219.0 541.6L1219.5 541.6L1220.0 541.6L1220.5 541.6L1221.0 541.6L1221.5 541.6L1222.0 541.6L1222.5 541.6L1223.0 541.6L1223.5 541.6L1224.0 541.6L1224.5 541.6L1225.0 541.6L1225.5 541.6L1226.0 541.6L1226.5 541.6L1227.0 541.6L1227.5 541.6L1228.0 541.6L1228.5 541.6L1229.0 541.6L1229.5 541.6L1230.0 541.6L1230.5 541.6L1231.0 541.6L1231.5 541.6L1232.0 541.6L1232.5 541.6L1233.0 541.6L1233.5 541.6L1234.0 541.6L1234.5 541.6L1235.0 541.6L1235.5 541.6L1236.0 541.6L1236.5 541.6L1237.0 541.6L1237.5 541.6L1238.0 541.6L1238.5 541.6L1239.0 541.6L1239.5 541.6L1240.0 541.6L1240.5 541.6L1241.0 541.6L1241.5 541.6L1242.0 541.6L1242.5 541.6L1243.0 541.6L1243.5 541.6L1244.0 541.6L1244.5 541.6L1245.0 541.6L1245.5 541.6L1246.0 541.6L1246.5 541.6L1247.0 541.6L1247.5 541.6L1248.0 541.6L1248.5 541.6L1249.0 541.6L1249.5 541.6L1250.0 541.6L1250.5 541.6L1251.0 541.6L1251.5 541.6L1252.0 541.6L1252.5 541.6L1253.0 541.6L1253.5 541.6L1254.0 541.6L1254.5 541.6L1255.0 541.6L1255.5 541.6L1256.0 541.6L1256.5 541.6L1257.0 541.6L1257.5 541.6L1258.0 541.6L1258.5 541.6L1259.0 541.6L1259.5 541.6L1260.0 541.6L1260.5 541.6L1261.0 541.6L1261.5 541.6L1262.0 541.6L1262.5 541.6L1263.0 541.6L1263.5 541.6L1264.0 541.6L1264.5 541.6L1265.0 541.6L1265.5 541.6L1266.0 541.6L1266.5 541.6L1267.0 541.6L1267.5 541.6L1268.0 541.6L1268.5 541.6L1269.0 541.6L1269.5 541.6L1270.0 541.6L1270.5 541.6L1271.0 541.6L1271.5 541.6L1272.0 541.6L1272.5 541.6L1273.0 541.6L1273.5 541.6L1274.0 541.6L1274.5 541.6L1275.0 541.6L1275.5 541.6L1276.0 541.6L1276.5 541.6L1277.0 541.6L1277.5 541.6L1278.0 541.6L1278.5 541.6L1279.0 541.6L1279.5 541.6L1280.0 541.6L1280.5 541.6L1281.0 541.6L1281.5 541.6L1282.0 541.6L1282.5 541.6L1283.0 541.6L1283.5 541.6L1284.0 541.6L1284.5 541.6L1285.0 541.6L1285.5 541.6L1286.0 541.6L1286.5 541.6L1287.0 541.6L1287.5 541.6L1288.0 541.6L1288.5 541.6L1289.0 541.6L1289.5 541.6L1290.0 541.6L1290.5 541.6L1291.0 541.6L1291.5 541.6L1292.0 541.6L1292.5 541.6L1293.0 541.6L1293.5 541.6L1294.0 541.6L1294.5 541.6L1295.0 541.6L1295.5 541.6L1296.0 541.6L1296.5 541.6L1297.0 541.6L1297.5 541.6L1298.0 541.6L1298.5 541.6L1299.0 541.6L1299.5 541.6L1300.0 541.6L1300.5 541.6L1301.0 541.6L1301.5 541.6L1302.0 541.6L1302.5 541.6L1303.0 541.6L1303.5 541.6L1304.0 541.6L1304.5 541.6L1305.0 541.6L1305.5 541.6L1306.0 541.6L1306.5 541.6L1307.0 541.6L1307.5 541.6L1308.0 541.6L1308.5 541.6L1309.0 541.6L1309.5 541.6L1310.0 541.6L1310.5 541.6L1311.0 541.6L1311.5 541.6L1312.0 541.6L1312.5 541.6L1313.0 541.6L1313.5 541.6L1314.0 541.6L1314.5 541.6L1315.0 541.6L1315.5 541.6L1316.0 541.6L1316.5 541.6L1317.0 541.6L1317.5 541.6L1318.0 541.6L1318.5 541.6L1319.0 541.6L1319.5 541.6L1320.0 541.6L1320.5 541.6L1321.0 541.6L1321.5 541.6L1322.0 541.6L1322.5 541.6L1323.0 541.6L1323.5 541.6L1324.0 541.6L1324.5 541.6L1325.0 541.6L1325.5 541.6L1326.0 541.6L1326.5 541.6L1327.0 541.6L1327.5 541.6L1328.0 541.6L1328.5 541.6L1329.0 541.6L1329.5 541.6L1330.0 541.6L1330.5 541.6L1331.0 541.6L1331.5 541.6L1332.0 541.6L1332.5 541.6L1333.0 541.6L1333.5 541.6L1334.0 541.6L1334.5 541.6L1335.0 541.6L1335.5 541.6L1336.0 541.6L1336.5 541.6L1337.0 541.6L1337.5 541.6L1338.0 541.6L1338.5 541.6L1339.0 541.6L1339.5 541.6L1340.0 541.6L1340.5 541.6L1341.0 541.6L1341.5 541.6L1342.0 541.6L1342.5 541.6L1343.0 541.6L1343.5 541.6L1344.0 541.6L1344.5 541.6L1345.0 541.6L1345.5 541.6L1346.0 541.6L1346.5 541.6L1347.0 541.6L1347.5 541.6L1348.0 541.6L1348.5 541.6L1349.0 541.6L1349.5 541.6L1350.0 541.6L1350.5 541.6L1351.0 541.6L1351.5 541.6L1352.0 541.6L1352.5 541.6L1353.0 541.6L1353.5 541.6L1354.0 541.6L1354.5 541.6L1355.0 541.6L1355.5 541.6L1356.0 541.6L1356.5 541.6L1357.0 541.6L1357.5 541.6L1358.0 541.6L1358.5 541.6L1359.0 541.6L1359.5 541.6L1360.0 541.6L1360.5 541.6L1361.0 541.6L1361.5 541.6L1362.0 541.6L1362.5 541.6L1363.0 541.6L1363.5 541.6L1364.0 541.6L1364.5 541.6L1365.0 541.6L1365.5 541.6L1366.0 541.6L1366.5 541.6L1367.0 541.6L1367.5 541.6L1368.0 541.6L1368.5 541.6L1369.0 541.6L1369.5 541.6L1370.0 541.6L1370.5 541.6L1371.0 541.6L1371.5 541.6L1372.0 541.6L1372.5 541.6L1373.0 541.6L1373.5 541.6L1374.0 541.6L1374.5 541.6L1375.0 541.6L1375.5 541.6L1376.0 541.6L1376.5 541.6L1377.0 541.6L1377.5 541.6L1378.0 541.6L1378.5 541.6L1379.0 541.6L1379.5 541.6L1380.0 541.6L1380.5 541.6L1381.0 541.6L1381.5 541.6L1382.0 541.6L1382.5 541.6L1383.0 541.6L1383.5 541.6L1384.0 541.6L1384.5 541.6L1385.0 541.6L1385.5 541.6L1386.0 541.6L1386.5 541.6L1387.0 541.6L1387.5 541.6L1388.0 541.6L1388.5 541.6L1389.0 541.6L1389.5 541.6L1390.0 541.6L1390.5 541.6L1391.0 541.6L1391.5 541.6L1392.0 541.6L1392.5 541.6L1393.0 541.6L1393.5 541.6L1394.0 541.6L1394.5 541.6L1395.0 541.6L1395.5 541.6L1396.0 541.6L1396.5 541.6L1397.0 541.6L1397.5 541.6L1398.0 541.6L1398.5 541.6L1399.0 541.6L1399.5 541.6L1400.0 541.6L1400.5 541.6L1401.0 541.6L1401.5 541.6L1402.0 541.6L1402.5 541.6L1403.0 541.6L1403.5 541.6L1404.0 541.6L1404.5 541.6L1405.0 541.6L1405.5 541.6L1406.0 541.6L1406.5 541.6L1407.0 541.6L1407.5 541.6L1408.0 541.6L1408.5 541.6L1409.0 541.6L1409.5 541.6L1410.0 541.6L1410.5 541.6L1411.0 541.6L1411.5 541.6L1412.0 541.6L1412.5 541.6L1413.0 541.6L1413.5 541.6L1414.0 541.6L1414.5 541.6L1415.0 541.6L1415.5 541.6L1416.0 541.6L1416.5 541.6L1417.0 541.6L1417.5 541.6L1418.0 541.6L1418.5 541.6L1419.0 541.6L1419.5 541.6L1420.0 541.6L1420.5 541.6L1421.0 541.6L1421.5 541.6L1422.0 541.6L1422.5 541.6L1423.0 541.6L1423.5 541.6L1424.0 541.6L1424.5 541.6L1425.0 541.6L1425.5 541.6L1426.0 541.6L1426.5 541.6L1427.0 541.6L1427.5 541.6L1428.0 541.6L1428.5 541.6L1429.0 541.6L1429.5 541.6L1430.0 541.6L1430.5 541.6L1431.0 541.6L1431.5 541.6L1432.0 541.6L1432.5 541.6L1433.0 541.6L1433.5 541.6L1434.0 541.6L1434.5 541.6L1435.0 541.6L1435.5 541.6L1436.0 541.6L1436.5 541.6L1437.0 541.6L1437.5 541.6L1438.0 541.6L1438.5 541.6L1439.0 541.6L1439.5 541.6L1440.0 541.6L1440.5 541.6L1441.0 541.6L1441.5 541.6" stroke="#0e0b8c"/>
<path d="M149.0 627.0L149.5 627.3L150.0 627.5L150.5 627.8L151.0 628.0L151.5 628.3L152.0 628.5L152.5 628.8L153.0 629.1L153.5 629.3L154.0 629.6L154.5 629.9L155.0 630.1L155.5 630.4L156.0 630.7L156.5 631.0L157.0 631.3L157.5 631.7L158.0 632.1L158.5 632.5L159.0 633.0L159.5 633.4L159.9 633.8L160.4 634.2L160.9 634.6L161.4 634.9L161.9 635.2L162.4 635.4L162.9 635.5L163.4 635.6L163.9 635.6L164.4 635.7L164.9 635.7L165.4 635.8L165.9 635.8L166.4 635.9L166.9 635.9L167.3 636.0L167.8 636.0L168.3 636.0L168.8 636.0L169.3 636.1L169.8 636.1L170.3 636.1L170.8 636.1L171.3 636.1L171.8 636.1L172.3 636.1L172.8 636.0L173.3 636.0L173.8 635.9L174.3 635.9L174.8 635.8L175.3 635.7L175.8 635.6L176.3 635.5L176.8 635.4L177.3 635.3L177.8 635.2L178.3 635.1L178.8 635.0L179.3 634.9L179.8 634.8L180.3 634.6L180.8 634.5L181.3 634.4L181.8 634.3L182.3 634.2L182.8 634.1L183.3 634.0L183.7 633.9L184.2 633.8L184.7 633.7L185.2 633.6L185.7 633.5L186.1 633.4L186.6 633.2L187.1 633.1L187.6 633.0L188.1 632.9L188.5 632.7L189.0 632.6L189.5 632.4L190.0 632.3L190.5 632.1L190.9 632.0L191.4 631.8L191.9 631.6L192.4 631.4L192.9 631.2L193.4 630.9L193.9 630.7L194.4 630.4L194.9 630.1L195.4 629.8L195.9 629.5L196.3 629.1L196.8 628.8L197.3 628.4L197.8 628.0L198.3 627.6L198.8 627.2L199.3 626.7L199.8 626.3L200.3 625.8L200.8 625.3L201.2 624.8L201.7 624.1L202.2 623.5L202.7 622.8L203.1 622.0L203.6 621.3L204.1 620.5L204.6 619.7L205.0 618.9L205.5 618.1L206.0 617.3L206.5 616.5L206.9 615.7L207.4 615.0L207.9 614.3L208.4 613.6L208.8 612.9L209.3 612.3L209.8 611.6L210.3 610.9L210.8 610.2L211.2 609.6L211.7 608.9L212.2 608.2L212.7 607.4L213.1 606.6L213.6 605.8L214.1 605.0L214.6 604.1L215.0 603.2L215.5 602.3L216.0 601.4L216.5 600.4L216.9 599.4L217.4 598.3L217.9 597.2L218.3 596.1L218.8 595.0L219.3 593.8L219.8 592.6L220.2 591.3L220.7 590.0L221.2 588.6L221.7 587.0L222.1 585.4L222.6 583.6L223.1 581.8L223.6 580.1L224.0 578.3L224.5 576.6L225.0 575.0L225.5 573.4L226.0 572.0L226.5 570.6L227.0 569.3L227.5 567.9L228.0 566.6L228.5 565.1L229.0 563.6L229.5 561.9L230.0 560.0L230.5 558.0L230.9 555.7L231.4 553.2L231.9 550.5L232.3 547.8L232.8 545.0L233.3 542.2L233.7 539.2L234.2 536.2L234.6 533.1L235.1 530.0L235.5 527.1L236.0 524.2L236.4 521.2L236.9 518.2L237.3 515.0L237.8 511.4L238.2 507.5L238.7 503.7L239.2 500.0L239.7 496.6L240.1 493.2L240.6 489.9L241.0 486.8L241.5 484.0L242.0 480.9L242.5 477.7L243.0 474.5L243.5 471.6L244.0 469.2L244.5 467.6L245.0 467.0L245.5 467.4L245.9 468.5L246.4 470.3L246.8 472.4L247.3 474.8L247.7 477.4L248.2 480.0L248.7 483.2L249.2 487.1L249.6 491.5L250.1 495.9L250.6 500.0L251.1 503.8L251.6 507.5L252.1 511.2L252.6 515.0L253.1 518.5L253.5 522.0L253.9 525.8L254.4 530.0L254.9 535.0L255.3 540.8L255.8 547.0L256.2 553.4L256.7 560.0L257.1 566.4L257.6 573.2L258.0 580.0L258.4 586.8L258.9 593.7L259.3 600.0L259.8 606.5L260.3 612.5L260.8 618.0L261.2 622.7L261.7 627.2L262.2 631.3L262.6 635.0L263.0 638.1L263.5 640.9L263.9 643.5L264.4 646.0L264.8 648.7L265.2 651.4L265.6 654.3L266.1 657.1L266.5 659.7L266.9 662.0L267.4 664.4L267.9 666.6L268.4 668.7L268.9 670.7L269.3 672.6L269.8 674.3L270.3 675.9L270.8 677.3L271.3 678.6L271.8 679.9L272.2 681.1L272.7 682.3L273.2 683.4L273.7 684.5L274.1 685.5L274.6 686.4L275.1 687.3L275.6 688.1L276.0 688.9L276.5 689.6L277.0 690.2L277.5 690.8L278.0 691.3L278.5 691.8L279.0 692.3L279.4 692.8L279.9 693.2L280.4 693.7L280.9 694.1L281.4 694.5L281.9 694.8L282.4 695.2L282.9 695.5L283.4 695.9L283.8 696.2L284.3 696.5L284.8 696.8L285.3 697.1L285.8 697.4L286.3 697.7L286.8 698.0L287.3 698.3L287.8 698.5L288.3 698.8L288.7 699.0L289.2 699.3L289.7 699.6L290.2 699.8L290.7 700.0L291.2 700.3L291.7 700.5L292.2 700.7L292.7 700.9L293.2 701.1L293.7 701.3L294.1 701.5L294.6 701.7L295.1 701.9L295.6 702.1L296.1 702.2L296.6 702.4L297.1 702.6L297.6 702.7L298.1 702.9L298.6 703.0L299.1 703.2L299.6 703.3L300.1 703.5L300.5 703.6L301.0 703.7L301.5 703.9L302.0 704.0L302.5 704.1L303.0 704.3L303.5 704.4L304.0 704.5L304.5 704.6L305.0 704.8L305.5 704.9L306.0 705.0L306.5 705.1L307.0 705.2L307.4 705.3L307.9 705.4L308.4 705.5L308.9 705.6L309.4 705.7L309.9 705.8L310.4 705.9L310.9 706.0L311.4 706.1L311.9 706.2L312.4 706.3L312.9 706.4L313.4 706.4L313.9 706.5L314.4 706.6L314.8 706.7L315.3 706.8L315.8 706.8L316.3 706.9L316.8 707.0L317.3 707.1L317.8 707.1L318.3 707.2L318.8 707.3L319.3 707.4L319.8 707.4L320.3 707.5L320.8 707.6L321.3 707.6L321.7 707.7L322.2 707.7L322.7 707.8L323.2 707.9L323.7 707.9L324.2 708.0L324.7 708.0L325.2 708.1L325.7 708.2L326.2 708.2L326.7 708.3L327.2 708.3L327.7 708.4L328.2 708.4L328.7 708.5L329.1 708.5L329.6 708.6L330.1 708.6L330.6 708.6L331.1 708.7L331.6 708.7L332.1 708.8L332.6 708.8L333.1 708.9L333.6 708.9L334.1 708.9L334.6 709.0L335.1 709.0L335.6 709.1L336.1 709.1L336.5 709.2L337.0 709.2L337.5 709.3L338.0 709.3L338.5 709.4L339.0 709.4L339.5 709.4L340.0 709.5L340.5 709.6L341.0 709.6L341.5 709.7L342.0 709.7L342.5 709.8L343.0 709.8L343.5 709.9L344.0 709.9L344.5 710.0L345.0 710.0L345.5 710.1L345.9 710.1L346.4 710.2L346.9 710.2L347.4 710.3L347.9 710.3L348.4 710.4L348.9 710.5L349.4 710.5L349.9 710.6L350.4 710.7L350.9 710.7L351.4 710.8L351.9 710.9L352.4 711.0L352.9 711.0L353.4 711.1L353.8 711.3L354.3 711.4L354.8 711.5L355.3 711.6L355.8 711.7L356.3 711.9L356.8 712.0L357.3 712.1L357.8 712.3L358.2 712.4L358.7 712.5L359.2 712.7L359.7 712.8L360.2 712.9L360.7 713.1L361.2 713.2L361.7 713.3L362.1 713.4L362.6 713.5L363.1 713.6L363.6 713.7L364.1 713.8L364.6 713.9L365.1 714.0L365.6 714.1L366.1 714.1L366.5 714.2L367.0 714.2L367.5 714.3L368.0 714.3L368.5 714.3L369.0 714.3L369.5 714.3L370.0 714.3L370.5 714.3L371.0 714.3L371.5 714.2L372.0 714.2L372.5 714.2L373.0 714.2L373.5 714.1L374.0 714.1L374.5 714.1L375.0 714.0L375.5 714.0L376.0 713.9L376.5 713.9L377.0 713.9L377.5 713.8L378.0 713.8L378.5 713.7L379.0 713.7L379.5 713.6L380.0 713.6L380.5 713.5L381.0 713.5L381.5 713.4L382.0 713.4L382.5 713.3L383.0 713.3L383.5 713.2L384.0 713.2L384.5 713.1L385.0 713.1L385.5 713.0L386.0 713.0L386.5 712.9L387.0 712.9L387.5 712.9L388.0 712.8L388.5 712.8L389.0 712.8L389.5 712.7L390.0 712.7L390.5 712.7L391.0 712.6L391.5 712.6L392.0 712.6L392.5 712.5L393.0 712.5L393.5 712.4L394.0 712.4L394.5 712.4L395.0 712.3L395.5 712.3L396.0 712.3L396.5 712.2L397.0 712.2L397.4 712.1L397.9 712.1L398.4 712.1L398.9 712.0L399.4 712.0L399.9 711.9L400.4 711.9L400.9 711.9L401.4 711.8L401.9 711.8L402.4 711.8L402.9 711.7L403.4 711.7L403.9 711.6L404.4 711.6L404.9 711.6L405.4 711.5L405.9 711.5L406.4 711.5L406.9 711.4L407.4 711.4L407.9 711.4L408.4 711.3L408.9 711.3L409.4 711.3L409.9 711.2L410.4 711.2L410.9 711.2L411.4 711.1L411.9 711.1L412.4 711.1L412.9 711.1L413.4 711.0L413.9 711.0L414.3 711.0L414.8 711.0L415.3 711.0L415.8 710.9L416.3 710.9L416.8 710.9L417.3 710.9L417.8 710.9L418.3 710.9L418.8 710.8L419.3 710.8L419.8 710.8L420.3 710.8L420.8 710.8L421.3 710.8L421.8 710.8L422.3 710.8L422.8 710.8L423.3 710.8L423.8 710.8L424.3 710.8L424.8 710.8L425.3 710.9L425.8 710.9L426.3 710.9L426.8 710.9L427.3 711.0L427.8 711.0L428.3 711.0L428.8 711.1L429.3 711.1L429.8 711.1L430.3 711.2L430.8 711.2L431.3 711.3L431.8 711.3L432.3 711.4L432.8 711.4L433.3 711.4L433.8 711.5L434.3 711.5L434.8 711.6L435.3 711.6L435.8 711.7L436.3 711.7L436.8 711.7L437.3 711.8L437.8 711.8L438.3 711.8L438.8 711.9L439.3 711.9L439.8 711.9L440.3 711.9L440.8 712.0L441.3 712.0L441.8 712.0L442.3 712.0L442.8 712.0L443.3 712.0L443.8 712.0L444.3 711.9L444.8 711.9L445.3 711.8L445.8 711.8L446.3 711.7L446.8 711.6L447.3 711.5L447.8 711.4L448.3 711.3L448.7 711.2L449.2 711.1L449.7 710.9L450.2 710.8L450.7 710.7L451.2 710.5L451.7 710.4L452.2 710.2L452.7 710.0L453.2 709.9L453.7 709.7L454.2 709.5L454.7 709.3L455.2 709.2L455.7 709.0L456.2 708.8L456.7 708.6L457.2 708.4L457.7 708.2L458.2 708.1L458.7 707.9L459.2 707.7L459.7 707.5L460.1 707.3L460.6 707.2L461.1 707.0L461.6 706.8L462.1 706.7L462.6 706.5L463.1 706.4L463.6 706.2L464.1 706.1L464.6 705.9L465.1 705.8L465.6 705.7L466.1 705.6L466.6 705.5L467.1 705.4L467.6 705.3L468.1 705.2L468.6 705.1L469.1 705.0L469.5 704.9L470.0 704.8L470.5 704.7L471.0 704.6L471.5 704.5L472.0 704.4L472.5 704.4L473.0 704.3L473.5 704.2L474.0 704.1L474.5 704.0L475.0 703.9L475.5 703.8L476.0 703.7L476.4 703.6L476.9 703.5L477.4 703.4L477.9 703.3L478.4 703.2L478.9 703.1L479.4 702.9L479.9 702.8L480.4 702.7L480.9 702.5L481.4 702.3L481.9 702.1L482.4 701.9L482.9 701.6L483.4 701.4L483.9 701.2L484.4 700.9L484.9 700.6L485.4 700.4L485.8 700.1L486.3 699.9L486.8 699.7L487.3 699.5L487.8 699.3L488.3 699.1L488.8 698.9L489.3 698.8L489.8 698.7L490.3 698.6L490.8 698.5L491.3 698.5L491.8 698.5L492.3 698.6L492.8 698.6L493.3 698.7L493.8 698.9L494.3 699.0L494.8 699.2L495.2 699.4L495.7 699.6L496.2 699.9L496.7 700.1L497.2 700.4L497.7 700.7L498.2 701.0L498.7 701.3L499.2 701.6L499.7 701.9L500.2 702.2L500.7 702.5L501.2 702.9L501.7 703.2L502.1 703.5L502.6 703.9L503.1 704.2L503.6 704.5L504.1 704.8L504.6 705.1L505.1 705.4L505.6 705.7L506.1 706.0L506.6 706.3L507.1 706.6L507.6 707.0L508.1 707.3L508.6 707.7L509.1 708.0L509.6 708.4L510.1 708.8L510.6 709.1L511.1 709.5L511.5 709.9L512.0 710.2L512.5 710.6L513.0 710.9L513.5 711.2L514.0 711.5L514.5 711.8L515.0 712.1L515.5 712.3L516.0 712.5L516.5 712.7L517.0 712.8L517.5 712.9L518.0 713.0L518.5 713.2L519.0 713.3L519.5 713.4L520.0 713.5L520.5 713.6L521.0 713.7L521.5 713.8L522.0 714.0L522.5 714.1L523.0 714.2L523.5 714.3L524.0 714.4L524.5 714.4L525.0 714.5L525.5 714.6L526.0 714.7L526.5 714.8L527.0 714.9L527.5 714.9L528.0 715.0L528.5 715.1L529.0 715.2L529.5 715.2L530.0 715.3L530.5 715.3L531.0 715.4L531.5 715.4L532.0 715.5L532.5 715.5L533.0 715.6L533.5 715.6L534.0 715.6L534.5 715.6L535.0 715.7L535.5 715.7L536.0 715.7L536.5 715.7L537.0 715.7L537.5 715.7L538.0 715.7L538.5 715.7L539.0 715.7L539.5 715.7L540.0 715.7L540.5 715.6L541.0 715.6L541.5 715.6L542.0 715.6L542.5 715.6L543.0 715.5L543.5 715.5L544.0 715.5L544.5 715.4L545.0 715.4L545.5 715.4L546.0 715.3L546.5 715.3L547.0 715.3L547.5 715.2L548.0 715.2L548.5 715.1L549.0 715.1L549.5 715.0L550.0 715.0L550.5 714.9L551.0 714.9L551.5 714.8L552.0 714.7L552.5 714.7L553.0 714.6L553.5 714.6L554.0 714.5L554.5 714.4L555.0 714.4L555.5 714.3L556.0 714.2L556.5 714.2L557.0 714.1L557.5 714.0L558.0 714.0L558.5 713.9L559.0 713.8L559.5 713.7L560.0 713.7L560.5 713.6L561.0 713.5L561.5 713.4L562.0 713.4L562.5 713.3L563.0 713.2L563.5 713.1L564.0 713.0L564.5 713.0L565.0 712.9L565.5 712.8L566.0 712.7L566.5 712.6L567.0 712.5L567.5 712.3L568.0 712.2L568.4 712.0L568.9 711.8L569.4 711.7L569.9 711.5L570.4 711.3L570.9 711.1L571.4 710.8L571.9 710.6L572.4 710.4L572.9 710.2L573.4 709.9L573.9 709.7L574.3 709.5L574.8 709.3L575.3 709.0L575.8 708.8L576.3 708.6L576.8 708.4L577.3 708.2L577.8 708.1L578.3 707.9L578.8 707.7L579.3 707.6L579.8 707.5L580.2 707.4L580.7 707.3L581.2 707.2L581.7 707.1L582.2 707.1L582.7 707.1L583.2 707.1L583.7 707.2L584.2 707.4L584.7 707.6L585.2 707.9L585.7 708.3L586.2 708.6L586.6 709.1L587.1 709.5L587.6 710.0L588.1 710.5L588.6 711.0L589.1 711.6L589.6 712.1L590.1 712.7L590.6 713.3L591.1 713.8L591.6 714.4L592.1 714.9L592.6 715.4L593.1 715.9L593.5 716.4L594.0 716.8L594.5 717.2L595.0 717.6L595.5 717.9L596.0 718.2L596.5 718.4L597.0 718.5L597.5 718.6L598.0 718.7L598.5 718.8L599.0 718.9L599.5 719.0L600.0 719.1L600.5 719.2L601.0 719.3L601.4 719.3L601.9 719.4L602.4 719.5L602.9 719.6L603.4 719.6L603.9 719.7L604.4 719.8L604.9 719.8L605.4 719.9L605.9 720.0L606.4 720.0L606.9 720.1L607.4 720.2L607.9 720.2L608.4 720.3L608.9 720.3L609.4 720.4L609.9 720.4L610.3 720.5L610.8 720.5L611.3 720.6L611.8 720.6L612.3 720.6L612.8 720.7L613.3 720.7L613.8 720.8L614.3 720.8L614.8 720.8L615.3 720.9L615.8 720.9L616.3 721.0L616.8 721.0L617.3 721.0L617.8 721.1L618.3 721.1L618.7 721.1L619.2 721.2L619.7 721.2L620.2 721.2L620.7 721.3L621.2 721.3L621.7 721.3L622.2 721.4L622.7 721.4L623.2 721.4L623.7 721.5L624.2 721.5L624.7 721.5L625.2 721.6L625.7 721.6L626.2 721.6L626.7 721.7L627.2 721.7L627.7 721.7L628.2 721.7L628.7 721.8L629.2 721.8L629.7 721.8L630.2 721.8L630.7 721.9L631.2 721.9L631.7 721.9L632.2 721.9L632.7 722.0L633.2 722.0L633.7 722.0L634.2 722.0L634.7 722.0L635.2 722.1L635.7 722.1L636.2 722.1L636.7 722.1L637.2 722.1L637.7 722.2L638.2 722.2L638.7 722.2L639.2 722.2L639.7 722.3L640.2 722.3L640.7 722.3L641.2 722.3L641.7 722.3L642.2 722.4L642.7 722.4L643.2 722.4L643.7 722.4L644.2 722.4L644.7 722.5L645.2 722.5L645.7 722.5L646.2 722.5L646.7 722.6L647.2 722.6L647.7 722.6L648.2 722.6L648.7 722.7L649.2 722.7L649.7 722.7L650.2 722.7L650.7 722.8L651.2 722.8L651.7 722.8L652.2 722.9L652.7 722.9L653.2 722.9L653.7 723.0L654.2 723.0L654.7 723.0L655.2 723.1L655.7 723.1L656.2 723.1L656.7 723.2L657.2 723.2L657.7 723.3L658.2 723.3L658.7 723.3L659.2 723.4L659.7 723.4L660.2 723.5L660.7 723.5L661.2 723.6L661.7 723.6L662.2 723.7L662.7 723.7L663.2 723.8L663.6 723.8L664.1 723.9L664.6 723.9L665.1 723.9L665.6 724.0L666.1 724.0L666.6 724.1L667.1 724.1L667.6 724.2L668.1 724.2L668.6 724.3L669.1 724.4L669.6 724.4L670.1 724.5L670.6 724.5L671.1 724.6L671.6 724.6L672.1 724.7L672.6 724.7L673.1 724.8L673.6 724.8L674.1 724.9L674.6 724.9L675.1 725.0L675.6 725.0L676.1 725.1L676.6 725.1L677.1 725.2L677.6 725.2L678.1 725.2L678.6 725.3L679.1 725.3L679.6 725.4L680.1 725.4L680.6 725.5L681.1 725.5L681.6 725.6L682.1 725.6L682.6 725.7L683.1 725.7L683.6 725.7L684.1 725.8L684.6 725.8L685.1 725.9L685.6 725.9L686.1 725.9L686.6 726.0L687.1 726.0L687.6 726.0L688.0 726.1L688.5 726.1L689.0 726.1L689.5 726.2L690.0 726.2L690.5 726.2L691.0 726.3L691.5 726.3L692.0 726.3L692.5 726.3L693.0 726.3L693.5 726.4L694.0 726.4L694.5 726.4L695.0 726.4L695.5 726.4L696.0 726.4L696.5 726.5L697.0 726.5L697.5 726.5L698.0 726.5L698.5 726.5L699.0 726.5L699.5 726.5L700.0 726.5L700.5 726.5L701.0 726.5L701.5 726.5L702.0 726.5L702.5 726.5L703.0 726.5L703.5 726.5L704.0 726.5L704.5 726.5L705.0 726.5L705.5 726.5L706.0 726.5L706.5 726.5L707.0 726.5L707.5 726.5L708.0 726.5L708.5 726.5L709.0 726.5L709.5 726.5L710.0 726.5L710.5 726.5L711.0 726.5L711.5 726.5L712.0 726.4L712.5 726.4L713.0 726.4L713.5 726.4L714.0 726.4L714.5 726.4L715.0 726.4L715.5 726.4L716.0 726.4L716.5 726.4L717.0 726.4L717.5 726.4L718.0 726.4L718.5 726.4L719.0 726.4L719.5 726.3L720.0 726.3L720.5 726.3L721.0 726.3L721.5 726.3L722.0 726.3L722.5 726.3L723.0 726.3L723.5 726.3L724.0 726.3L724.5 726.2L725.0 726.2L725.5 726.2L726.0 726.2L726.5 726.2L727.0 726.1L727.5 725.9L728.0 725.8L728.5 725.6L729.0 725.3L729.5 725.1L730.0 724.9L730.5 724.6L731.0 724.4L731.5 724.2L732.0 724.0L732.5 723.8L733.0 723.7L733.5 723.6L734.0 723.6L734.5 723.6L735.0 723.6L735.5 723.7L736.0 723.8L736.5 723.9L737.0 724.0L737.5 724.1L738.0 724.2L738.5 724.3L739.0 724.5L739.5 724.6L740.0 724.8L740.5 724.9L741.0 725.0L741.5 725.2L742.0 725.3L742.5 725.5L743.0 725.6L743.5 725.7L744.0 725.8L744.5 725.9L745.0 726.0L745.5 726.1L746.0 726.2L746.5 726.2L747.0 726.2L747.5 726.2L748.0 726.2L748.5 726.2L749.0 726.2L749.5 726.2L750.0 726.2L750.5 726.2L751.0 726.2L751.5 726.2L752.0 726.2L752.5 726.2L753.0 726.2L753.5 726.2L754.0 726.2L754.5 726.2L755.0 726.2L755.5 726.2L756.0 726.2L756.5 726.2L757.0 726.2L757.5 726.2L758.0 726.2L758.5 726.2L759.0 726.2L759.5 726.2L760.0 726.2L760.5 726.2L761.0 726.2L761.5 726.2L762.0 726.2L762.5 726.2L763.0 726.2L763.5 726.2L764.0 726.2L764.5 726.2L765.0 726.2L765.5 726.2L766.0 726.2L766.5 726.2L767.0 726.2L767.5 726.2L768.0 726.2L768.5 726.2L769.0 726.2L769.5 726.2L770.0 726.2L770.5 726.2L771.0 726.2L771.5 726.2L772.0 726.2L772.5 726.2L773.0 726.2L773.5 726.2L774.0 726.2L774.5 726.2L775.0 726.2L775.5 726.2L776.0 726.2L776.5 726.2L777.0 726.2L777.5 726.2L778.0 726.2L778.5 726.2L779.0 726.2L779.5 726.2L780.0 726.2L780.5 726.2L781.0 726.2L781.5 726.2L782.0 726.2L782.5 726.2L783.0 726.2L783.5 726.2L784.0 726.2L784.5 726.2L785.0 726.2L785.5 726.2L786.0 726.2L786.5 726.2L787.0 726.2L787.5 726.2L788.0 726.2L788.5 726.2L789.0 726.2L789.5 726.2L790.0 726.2L790.5 726.2L791.0 726.2L791.5 726.2L792.0 726.2L792.5 726.2L793.0 726.2L793.5 726.2L794.0 726.2L794.5 726.2L795.0 726.2L795.5 726.2L796.0 726.2L796.5 726.2L797.0 726.2L797.5 726.2L798.0 726.2L798.5 726.2L799.0 726.2L799.5 726.2L800.0 726.2L800.5 726.2L801.0 726.2L801.5 726.2L802.0 726.2L802.5 726.2L803.0 726.2L803.5 726.2L804.0 726.2L804.5 726.2L805.0 726.2L805.5 726.2L806.0 726.2L806.5 726.2L807.0 726.2L807.5 726.2L808.0 726.2L808.5 726.2L809.0 726.2L809.5 726.2L810.0 726.2L810.5 726.2L811.0 726.2L811.5 726.2L812.0 726.2L812.5 726.2L813.0 726.2L813.5 726.2L814.0 726.2L814.5 726.2L815.0 726.2L815.5 726.2L816.0 726.2L816.5 726.2L817.0 726.2L817.5 726.2L818.0 726.2L818.5 726.2L819.0 726.2L819.5 726.2L820.0 726.2L820.5 726.2L821.0 726.2L821.5 726.2L822.0 726.2L822.5 726.2L823.0 726.2L823.5 726.2L824.0 726.2L824.5 726.2L825.0 726.2L825.5 726.2L826.0 726.2L826.5 726.2L827.0 726.2L827.5 726.2L828.0 726.2L828.5 726.2L829.0 726.2L829.5 726.2L830.0 726.2L830.5 726.2L831.0 726.2L831.5 726.2L832.0 726.2L832.5 726.2L833.0 726.2L833.5 726.2L834.0 726.2L834.5 726.2L835.0 726.2L835.5 726.2L836.0 726.2L836.5 726.2L837.0 726.2L837.5 726.2L838.0 726.2L838.5 726.2L839.0 726.2L839.5 726.2L840.0 726.2L840.5 726.2L841.0 726.2L841.5 726.2L842.0 726.2L842.5 726.2L843.0 726.2L843.5 726.2L844.0 726.2L844.5 726.2L845.0 726.2L845.5 726.2L846.0 726.2L846.5 726.2L847.0 726.2L847.5 726.2L848.0 726.2L848.5 726.2L849.0 726.2L849.5 726.2L850.0 726.2L850.5 726.2L851.0 726.2L851.5 726.2L852.0 726.2L852.5 726.2L853.0 726.2L853.5 726.2L854.0 726.2L854.5 726.2L855.0 726.2L855.5 726.2L856.0 726.2L856.5 726.2L857.0 726.2L857.5 726.2L858.0 726.2L858.5 726.2L859.0 726.2L859.5 726.3L860.0 726.4L860.5 726.4L861.0 726.5L861.5 726.6L862.0 726.8L862.5 726.9L863.0 727.0L863.5 727.2L864.0 727.3L864.5 727.5L865.0 727.6L865.5 727.7L866.0 727.9L866.5 728.0L867.0 728.1L867.5 728.3L868.0 728.4L868.5 728.5L869.0 728.5L869.5 728.6L870.0 728.7L870.5 728.7L871.0 728.7L871.5 728.7L872.0 728.7L872.5 728.7L873.0 728.6L873.5 728.6L874.0 728.5L874.5 728.5L875.0 728.4L875.5 728.3L876.0 728.2L876.5 728.2L877.0 728.1L877.5 728.0L878.0 727.9L878.5 727.8L879.0 727.7L879.5 727.6L880.0 727.5L880.5 727.4L881.0 727.3L881.5 727.2L882.0 727.1L882.5 727.0L883.0 726.9L883.5 726.8L884.0 726.8L884.5 726.7L885.0 726.6L885.5 726.5L886.0 726.5L886.5 726.4L887.0 726.4L887.5 726.3L888.0 726.3L888.5 726.3L889.0 726.3L889.5 726.3L890.0 726.3L890.5 726.4L891.0 726.4L891.5 726.5L892.0 726.5L892.5 726.6L893.0 726.7L893.5 726.8L894.0 726.9L894.5 727.0L895.0 727.1L895.5 727.3L896.0 727.4L896.5 727.5L897.0 727.6L897.5 727.7L898.0 727.9L898.5 728.0L899.0 728.1L899.5 728.2L900.0 728.3L900.5 728.4L901.0 728.5L901.5 728.5L902.0 728.6L902.5 728.6L903.0 728.7L903.5 728.7L904.0 728.7L904.5 728.7L905.0 728.6L905.5 728.6L905.9 728.5L906.4 728.4L906.9 728.2L907.4 728.1L907.9 727.9L908.4 727.8L908.9 727.6L909.4 727.5L909.8 727.3L910.3 727.1L910.8 727.0L911.3 726.8L911.8 726.7L912.3 726.5L912.8 726.4L913.2 726.3L913.7 726.3L914.2 726.2L914.7 726.2L915.2 726.2L915.7 726.3L916.2 726.5L916.6 726.7L917.1 726.9L917.6 727.1L918.1 727.4L918.6 727.6L919.1 727.9L919.6 728.1L920.1 728.3L920.5 728.5L921.0 728.7L921.5 728.8L922.0 728.8L922.5 728.8L923.0 728.8L923.5 728.8L924.0 728.8L924.5 728.8L925.0 728.8L925.5 728.8L926.0 728.8L926.5 728.8L927.0 728.8L927.5 728.8L928.0 728.8L928.5 728.8L929.0 728.8L929.5 728.8L930.0 728.8L930.5 728.8L931.0 728.8L931.5 728.8L932.0 728.8L932.5 728.8L933.0 728.8L933.5 728.8L934.0 728.8L934.5 728.8L935.0 728.8L935.5 728.8L936.0 728.8L936.5 728.8L937.0 728.8L937.5 728.8L938.0 728.8L938.5 728.8L939.0 728.8L939.5 728.8L940.0 728.8L940.5 728.8L941.0 728.8L941.5 728.8L942.0 728.8L942.5 728.8L943.0 728.8L943.5 728.8L944.0 728.8L944.5 728.8L944.9 728.8L945.4 728.8L945.9 728.8L946.4 728.8L946.9 728.8L947.4 728.8L947.9 728.8L948.4 728.8L948.9 728.8L949.4 728.8L949.9 728.8L950.4 728.8L950.9 728.8L951.4 728.8L951.9 728.8L952.4 728.8L952.9 728.8L953.4 728.8L953.9 728.8L954.4 728.8L954.9 728.8L955.4 728.8L955.9 728.8L956.4 728.8L956.9 728.8L957.4 728.8L957.9 728.8L958.4 728.8L958.9 728.8L959.4 728.8L959.9 728.8L960.4 728.8L960.9 728.8L961.4 728.8L961.9 728.8L962.4 728.8L962.9 728.8L963.4 728.8L963.9 728.8L964.4 728.8L964.9 728.8L965.4 728.8L965.9 728.8L966.4 728.8L966.9 728.8L967.4 728.8L967.9 728.8L968.4 728.8L968.9 728.8L969.4 728.8L969.9 728.8L970.4 728.8L970.9 728.8L971.4 728.8L971.9 728.8L972.4 728.8L972.9 728.8L973.4 728.8L973.9 728.8L974.4 728.8L974.9 728.8L975.4 728.8L975.9 728.8L976.4 728.8L976.9 728.8L977.4 728.8L977.9 728.8L978.4 728.8L978.9 728.8L979.4 728.8L979.9 728.8L980.4 728.8L980.9 728.8L981.4 728.8L981.9 728.8L982.4 728.8L982.9 728.8L983.4 728.8L983.9 728.8L984.4 728.8L984.9 728.8L985.4 728.8L985.9 728.8L986.4 728.8L986.9 728.8L987.4 728.8L987.9 728.8L988.4 728.8L988.9 728.8L989.4 728.8L989.9 728.8L990.3 728.8L990.8 728.8L991.3 728.8L991.8 728.8L992.3 728.8L992.8 728.8L993.3 728.8L993.8 728.8L994.3 728.8L994.8 728.8L995.3 728.8L995.8 728.8L996.3 728.8L996.8 728.8L997.3 728.8L997.8 728.8L998.3 728.8L998.8 728.8L999.3 728.8L999.8 728.8L1000.3 728.8L1000.8 728.8L1001.3 728.8L1001.8 728.8L1002.3 728.8L1002.8 728.8L1003.3 728.8L1003.8 728.8L1004.3 728.8L1004.8 728.8L1005.3 728.8L1005.8 728.8L1006.3 728.8L1006.8 728.8L1007.3 728.8L1007.8 728.8L1008.3 728.8L1008.8 728.8L1009.3 728.8L1009.8 728.8L1010.3 728.8L1010.8 728.8L1011.3 728.8L1011.8 728.8L1012.3 728.8L1012.8 728.8L1013.3 728.8L1013.8 728.8L1014.3 728.8L1014.8 728.8L1015.3 728.8L1015.8 728.8L1016.3 728.8L1016.8 728.8L1017.3 728.8L1017.8 728.8L1018.3 728.8L1018.8 728.8L1019.3 728.8L1019.8 728.8L1020.3 728.8L1020.8 728.8L1021.3 728.8L1021.8 728.8L1022.3 728.8L1022.8 728.8L1023.3 728.8L1023.8 728.8L1024.3 728.8L1024.8 728.8L1025.3 728.8L1025.8 728.8L1026.3 728.8L1026.8 728.8L1027.3 728.8L1027.8 728.8L1028.3 728.8L1028.8 728.8L1029.3 728.8L1029.8 728.8L1030.3 728.8L1030.8 728.8L1031.3 728.8L1031.8 728.8L1032.3 728.8L1032.8 728.8L1033.3 728.8L1033.8 728.8L1034.3 728.8L1034.8 728.8L1035.3 728.8L1035.7 728.8L1036.2 728.8L1036.7 728.8L1037.2 728.8L1037.7 728.8L1038.2 728.8L1038.7 728.8L1039.2 728.8L1039.7 728.8L1040.2 728.8L1040.7 728.8L1041.2 728.8L1041.7 728.8L1042.2 728.8L1042.7 728.8L1043.2 728.8L1043.7 728.8L1044.2 728.8L1044.7 728.8L1045.2 728.8L1045.7 728.8L1046.2 728.8L1046.7 728.8L1047.2 728.8L1047.7 728.8L1048.2 728.8L1048.7 728.8L1049.2 728.8L1049.7 728.8L1050.2 728.8L1050.7 728.8L1051.2 728.8L1051.7 728.8L1052.2 728.8L1052.7 728.8L1053.2 728.8L1053.7 728.8L1054.2 728.8L1054.7 728.8L1055.2 728.8L1055.7 728.8L1056.2 728.8L1056.7 728.8L1057.2 728.8L1057.7 728.8L1058.2 728.8L1058.7 728.8L1059.2 728.8L1059.7 728.8L1060.2 728.8L1060.7 728.8L1061.2 728.8L1061.7 728.8L1062.2 728.8L1062.7 728.8L1063.2 728.8L1063.7 728.8L1064.2 728.8L1064.7 728.8L1065.2 728.8L1065.7 728.8L1066.2 728.8L1066.7 728.8L1067.2 728.8L1067.7 728.8L1068.2 728.8L1068.7 728.8L1069.2 728.8L1069.7 728.8L1070.2 728.8L1070.7 728.8L1071.2 728.8L1071.7 728.8L1072.2 728.8L1072.7 728.8L1073.2 728.8L1073.7 728.8L1074.2 728.8L1074.7 728.8L1075.2 728.8L1075.7 728.8L1076.2 728.8L1076.7 728.8L1077.2 728.8L1077.7 728.8L1078.2 728.8L1078.7 728.8L1079.2 728.8L1079.7 728.8L1080.2 728.8L1080.7 728.8L1081.1 728.8L1081.6 728.8L1082.1 728.8L1082.6 728.8L1083.1 728.8L1083.6 728.8L1084.1 728.8L1084.6 728.8L1085.1 728.8L1085.6 728.8L1086.1 728.8L1086.6 728.8L1087.1 728.8L1087.6 728.8L1088.1 728.8L1088.6 728.8L1089.1 728.8L1089.6 728.8L1090.1 728.8L1090.6 728.8L1091.1 728.8L1091.6 728.8L1092.1 728.8L1092.6 728.8L1093.1 728.8L1093.6 728.8L1094.1 728.8L1094.6 728.8L1095.1 728.8L1095.6 728.8L1096.1 728.8L1096.6 728.8L1097.1 728.8L1097.6 728.8L1098.1 728.8L1098.6 728.8L1099.1 728.8L1099.6 728.8L1100.1 728.8L1100.6 728.8L1101.1 728.8L1101.6 728.8L1102.1 728.8L1102.6 728.8L1103.1 728.8L1103.6 728.8L1104.1 728.8L1104.6 728.9L1105.1 729.0L1105.6 729.2L1106.1 729.3L1106.6 729.5L1107.1 729.7L1107.5 729.9L1108.0 730.1L1108.5 730.3L1109.0 730.4L1109.5 730.6L1110.0 730.7L1110.5 730.8L1111.0 730.8L1111.5 730.8L1112.0 730.8L1112.5 730.8L1113.0 730.8L1113.5 730.8L1114.0 730.8L1114.5 730.8L1115.0 730.8L1115.5 730.8L1116.0 730.8L1116.5 730.8L1117.0 730.8L1117.5 730.8L1118.0 730.8L1118.5 730.8L1119.0 730.8L1119.5 730.8L1120.0 730.8L1120.5 730.8L1121.0 730.8L1121.5 730.8L1122.0 730.8L1122.5 730.8L1123.0 730.8L1123.5 730.8L1124.0 730.8L1124.5 730.8L1125.0 730.8L1125.5 730.8L1126.0 730.8L1126.5 730.8L1127.0 730.8L1127.5 730.8L1128.0 730.8L1128.5 730.8L1129.0 730.8L1129.5 730.8L1130.0 730.8L1130.5 730.8L1131.0 730.8L1131.5 730.8L1132.0 730.8L1132.5 730.8L1133.0 730.8L1133.5 730.8L1134.0 730.8L1134.5 730.8L1135.0 730.8L1135.5 730.8L1136.0 730.8L1136.5 730.8L1137.0 730.8L1137.5 730.8L1138.0 730.8L1138.5 730.8L1139.0 730.8L1139.5 730.8L1140.0 730.8L1140.5 730.8L1141.0 730.8L1141.5 730.8L1142.0 730.8L1142.5 730.8L1143.0 730.8L1143.5 730.8L1144.0 730.8L1144.5 730.8L1145.0 730.8L1145.5 730.8L1146.0 730.8L1146.5 730.8L1147.0 730.8L1147.5 730.8L1148.0 730.8L1148.5 730.8L1149.0 730.8L1149.5 730.8L1150.0 730.8L1150.5 730.8L1151.0 730.8L1151.5 730.8L1152.0 730.8L1152.5 730.8L1153.0 730.8L1153.5 730.8L1154.0 730.8L1154.5 730.8L1155.0 730.8L1155.5 730.8L1156.0 730.8L1156.5 730.8L1157.0 730.8L1157.5 730.8L1158.0 730.8L1158.5 730.8L1159.0 730.8L1159.5 730.8L1160.0 730.8L1160.5 730.8L1161.0 730.8L1161.5 730.8L1162.0 730.8L1162.5 730.8L1163.0 730.8L1163.5 730.8L1164.0 730.8L1164.5 730.8L1165.0 730.8L1165.5 730.8L1166.0 730.8L1166.5 730.8L1167.0 730.8L1167.5 730.8L1168.0 730.8L1168.5 730.8L1169.0 730.8L1169.5 730.8L1170.0 730.8L1170.5 730.8L1171.0 730.8L1171.5 730.8L1172.0 730.8L1172.5 730.8L1173.0 730.8L1173.5 730.8L1174.0 730.8L1174.5 730.8L1175.0 730.8L1175.5 730.8L1176.0 730.8L1176.5 730.8L1177.0 730.8L1177.5 730.8L1178.0 730.8L1178.5 730.8L1179.0 730.8L1179.5 730.8L1180.0 730.8L1180.5 730.8L1181.0 730.8L1181.5 730.8L1182.0 730.8L1182.5 730.8L1183.0 730.8L1183.5 730.8L1184.0 730.8L1184.5 730.8L1185.0 730.8L1185.5 730.8L1186.0 730.8L1186.5 730.8L1187.0 730.8L1187.5 730.8L1188.0 730.8L1188.5 730.8L1189.0 730.8L1189.5 730.8L1190.0 730.8L1190.5 730.8L1191.0 730.8L1191.5 730.8L1192.0 730.8L1192.5 730.8L1193.0 730.8L1193.5 730.8L1194.0 730.8L1194.5 730.8L1195.0 730.8L1195.5 730.8L1196.0 730.8L1196.5 730.8L1197.0 730.8L1197.5 730.8L1198.0 730.8L1198.5 730.8L1199.0 730.8L1199.5 730.8L1200.0 730.8L1200.5 730.8L1201.0 730.8L1201.5 730.8L1202.0 730.8L1202.5 730.8L1203.0 730.8L1203.5 730.8L1204.0 730.8L1204.5 730.8L1205.0 730.8L1205.5 730.8L1206.0 730.8L1206.5 730.8L1207.0 730.8L1207.5 730.8L1208.0 730.8L1208.5 730.8L1209.0 730.8L1209.5 730.8L1210.0 730.8L1210.5 730.8L1211.0 730.8L1211.5 730.8L1212.0 730.8L1212.5 730.8L1213.0 730.8L1213.5 730.8L1214.0 730.8L1214.5 730.8L1215.0 730.8L1215.5 730.8L1216.0 730.8L1216.5 730.8L1217.0 730.8L1217.5 730.8L1218.0 730.8L1218.5 730.8L1219.0 730.8L1219.5 730.8L1220.0 730.8L1220.5 730.8L1221.0 730.8L1221.5 730.8L1222.0 730.8L1222.5 730.8L1223.0 730.8L1223.5 730.8L1224.0 730.8L1224.5 730.8L1225.0 730.8L1225.5 730.8L1226.0 730.8L1226.5 730.8L1227.0 730.8L1227.5 730.8L1228.0 730.8L1228.5 730.8L1229.0 730.8L1229.5 730.8L1230.0 730.8L1230.5 730.8L1231.0 730.8L1231.5 730.8L1232.0 730.8L1232.5 730.8L1233.0 730.8L1233.5 730.8L1234.0 730.8L1234.5 730.8L1235.0 730.8L1235.5 730.8L1236.0 730.8L1236.5 730.8L1237.0 730.8L1237.5 730.8L1238.0 730.8L1238.5 730.8L1239.0 730.8L1239.5 730.8L1240.0 730.8L1240.5 730.8L1241.0 730.8L1241.5 730.8L1242.0 730.8L1242.5 730.8L1243.0 730.8L1243.5 730.8L1244.0 730.8L1244.5 730.8L1245.0 730.8L1245.5 730.8L1246.0 730.8L1246.5 730.8L1247.0 730.8L1247.5 730.8L1248.0 730.8L1248.5 730.8L1249.0 730.8L1249.5 730.8L1250.0 730.8L1250.5 730.8L1251.0 730.8L1251.5 730.8L1252.0 730.8L1252.5 730.8L1253.0 730.8L1253.5 730.8L1254.0 730.8L1254.5 730.8L1255.0 730.8L1255.5 730.8L1256.0 730.8L1256.5 730.8L1257.0 730.8L1257.5 730.8L1258.0 730.8L1258.5 730.8L1259.0 730.8L1259.5 730.8L1260.0 730.8L1260.5 730.8L1261.0 730.8L1261.5 730.8L1262.0 730.8L1262.5 730.8L1263.0 730.8L1263.5 730.8L1264.0 730.8L1264.5 730.8L1265.0 730.8L1265.5 730.8L1266.0 730.8L1266.5 730.8L1267.0 730.8L1267.5 730.8L1268.0 730.8L1268.5 730.8L1269.0 730.8L1269.5 730.8L1270.0 730.8L1270.5 730.8L1271.0 730.8L1271.5 730.8L1272.0 730.8L1272.5 730.8L1273.0 730.8L1273.5 730.8L1274.0 730.8L1274.5 730.8L1275.0 730.8L1275.5 730.8L1276.0 730.8L1276.5 730.8L1277.0 730.8L1277.5 730.8L1278.0 730.8L1278.5 730.8L1279.0 730.8L1279.5 730.8L1280.0 730.8L1280.5 730.8L1281.0 730.8L1281.5 730.8L1282.0 730.8L1282.5 730.8L1283.0 730.8L1283.5 730.8L1284.0 730.8L1284.5 730.8L1285.0 730.8L1285.5 730.8L1286.0 730.8L1286.5 730.8L1287.0 730.8L1287.5 730.8L1288.0 730.8L1288.5 730.8L1289.0 730.8L1289.5 730.8L1290.0 730.8L1290.5 730.8L1291.0 730.8L1291.5 730.8L1292.0 730.8L1292.5 730.8L1293.0 730.8L1293.5 730.8L1294.0 730.8L1294.5 730.8L1295.0 730.8L1295.5 730.8L1296.0 730.8L1296.5 730.8L1297.0 730.8L1297.5 730.8L1298.0 730.8L1298.5 730.8L1299.0 730.8L1299.5 730.8L1300.0 730.8L1300.5 730.8L1301.0 730.8L1301.5 730.8L1302.0 730.8L1302.5 730.8L1303.0 730.8L1303.5 730.8L1304.0 730.8L1304.5 730.8L1305.0 730.8L1305.5 730.8L1306.0 730.8L1306.5 730.8L1307.0 730.8L1307.5 730.8L1308.0 730.8L1308.5 730.8L1309.0 730.8L1309.5 730.8L1310.0 730.8L1310.5 730.8L1311.0 730.8L1311.5 730.8L1312.0 730.8L1312.5 730.8L1313.0 730.8L1313.5 730.8L1314.0 730.8L1314.5 730.8L1315.0 730.8L1315.5 730.8L1316.0 730.8L1316.5 730.8L1317.0 730.8L1317.5 730.8L1318.0 730.8L1318.5 730.8L1319.0 730.8L1319.5 730.8L1320.0 730.8L1320.5 730.8L1321.0 730.8L1321.5 730.8L1322.0 730.8L1322.5 730.8L1323.0 730.8L1323.5 730.8L1324.0 730.8L1324.5 730.8L1325.0 730.8L1325.5 730.8L1326.0 730.8L1326.5 730.8L1327.0 730.8L1327.5 730.8L1328.0 730.8L1328.5 730.8L1329.0 730.8L1329.5 730.8L1330.0 730.8L1330.5 730.8L1331.0 730.8L1331.5 730.8L1332.0 730.8L1332.5 730.8L1333.0 730.8L1333.5 730.8L1334.0 730.8L1334.5 730.8L1335.0 730.8L1335.5 730.8L1336.0 730.8L1336.5 730.8L1337.0 730.8L1337.5 730.8L1338.0 730.8L1338.5 730.8L1339.0 730.8L1339.5 730.8L1340.0 730.8L1340.5 730.8L1341.0 730.8L1341.5 730.8L1342.0 730.8L1342.5 730.8L1343.0 730.8L1343.5 730.8L1344.0 730.8L1344.5 730.8L1345.0 730.8L1345.5 730.8L1346.0 730.8L1346.5 730.8L1347.0 730.8L1347.5 730.8L1348.0 730.8L1348.5 730.8L1349.0 730.8L1349.5 730.8L1350.0 730.8L1350.5 730.8L1351.0 730.8L1351.5 730.8L1352.0 730.8L1352.5 730.8L1353.0 730.8L1353.5 730.8L1354.0 730.8L1354.5 730.8L1355.0 730.8L1355.5 730.8L1356.0 730.8L1356.5 730.8L1357.0 730.8L1357.5 730.8L1358.0 730.8L1358.5 730.8L1359.0 730.8L1359.5 730.8L1360.0 730.8L1360.5 730.8L1361.0 730.8L1361.5 730.8L1362.0 730.8L1362.5 730.8L1363.0 730.8L1363.5 730.8L1364.0 730.8L1364.5 730.8L1365.0 730.8L1365.5 730.8L1366.0 730.8L1366.5 730.8L1367.0 730.8L1367.5 730.8L1368.0 730.8L1368.5 730.8L1369.0 730.8L1369.5 730.8L1370.0 730.8L1370.5 730.8L1371.0 730.8L1371.5 730.8L1372.0 730.8L1372.5 730.8L1373.0 730.8L1373.5 730.8L1374.0 730.8L1374.5 730.8L1375.0 730.8L1375.5 730.8L1376.0 730.8L1376.5 730.8L1377.0 730.8L1377.5 730.8L1378.0 730.8L1378.5 730.8L1379.0 730.8L1379.5 730.8L1380.0 730.8L1380.5 730.8L1381.0 730.8L1381.5 730.8L1382.0 730.8L1382.5 730.8L1383.0 730.8L1383.5 730.8L1384.0 730.8L1384.5 730.8L1385.0 730.8L1385.5 730.8L1386.0 730.8L1386.5 730.8L1387.0 730.8L1387.5 730.8L1388.0 730.8L1388.5 730.8L1389.0 730.8L1389.5 730.8L1390.0 730.8L1390.5 730.8L1391.0 730.8L1391.5 730.8L1392.0 730.8L1392.5 730.8L1393.0 730.8L1393.5 730.8L1394.0 730.8L1394.5 730.8L1395.0 730.8L1395.5 730.8L1396.0 730.8L1396.5 730.8L1397.0 730.8L1397.5 730.8L1398.0 730.8L1398.5 730.8L1399.0 730.8L1399.5 730.8L1400.0 730.8L1400.5 730.8L1401.0 730.8L1401.5 730.8L1402.0 730.8L1402.5 730.8L1403.0 730.8L1403.5 730.8L1404.0 730.8L1404.5 730.8L1405.0 730.8L1405.5 730.8L1406.0 730.8L1406.5 730.8L1407.0 730.8L1407.5 730.8L1408.0 730.8L1408.5 730.8L1409.0 730.8L1409.5 730.8L1410.0 730.8L1410.5 730.8L1411.0 730.8L1411.5 730.8L1412.0 730.8L1412.5 730.8L1413.0 730.8L1413.5 730.8L1414.0 730.8L1414.5 730.8L1415.0 730.8L1415.5 730.8L1416.0 730.8L1416.5 730.8L1417.0 730.8L1417.5 730.8L1418.0 730.8L1418.5 730.8L1419.0 730.8L1419.5 730.8L1420.0 730.8L1420.5 730.8L1421.0 730.8L1421.5 730.8L1422.0 730.8L1422.5 730.8L1423.0 730.8L1423.5 730.8L1424.0 730.8L1424.5 730.8L1425.0 730.8L1425.5 730.8L1426.0 730.8L1426.5 730.8L1427.0 730.8L1427.5 730.8L1428.0 730.8L1428.5 730.8L1429.0 730.8L1429.5 730.8L1430.0 730.8L1430.5 730.8L1431.0 730.8L1431.5 730.8L1432.0 730.8L1432.5 730.8L1433.0 730.8L1433.5 730.8L1434.0 730.8L1434.5 730.8L1435.0 730.8L1435.5 730.8L1436.0 730.8L1436.5 730.8L1437.0 730.8L1437.5 730.8L1438.0 730.8L1438.5 730.8L1439.0 730.8L1439.5 730.8L1440.0 730.8L1440.5 730.8L1441.0 730.8L1441.5 730.8" stroke="#45d83d"/>
<path d="M149.0 778.0L149.5 778.6L149.9 779.2L150.4 779.7L150.9 780.3L151.4 780.9L151.8 781.4L152.3 782.0L152.8 782.6L153.3 783.2L153.7 783.8L154.2 784.5L154.7 785.2L155.1 785.9L155.6 786.6L156.1 787.3L156.5 788.1L157.0 788.8L157.5 789.6L158.0 790.4L158.4 791.2L158.9 791.9L159.4 792.7L159.8 793.5L160.3 794.3L160.8 795.1L161.2 795.9L161.7 796.6L162.2 797.4L162.6 798.2L163.1 799.0L163.6 799.8L164.1 800.6L164.5 801.4L165.0 802.2L165.5 803.0L165.9 803.9L166.4 804.7L166.9 805.6L167.4 806.6L167.9 807.6L168.4 808.7L168.9 809.7L169.4 810.7L169.9 811.7L170.4 812.7L170.9 813.6L171.4 814.4L171.9 815.1L172.4 815.7L172.9 816.4L173.4 817.0L173.8 817.7L174.3 818.3L174.8 818.9L175.3 819.5L175.8 820.0L176.3 820.4L176.8 820.9L177.2 821.2L177.7 821.5L178.2 821.7L178.7 821.8L179.2 821.9L179.7 821.9L180.1 822.0L180.6 822.0L181.1 822.1L181.6 822.1L182.1 822.2L182.5 822.2L183.0 822.2L183.5 822.3L184.0 822.3L184.4 822.3L184.9 822.3L185.4 822.4L185.9 822.4L186.4 822.4L186.8 822.4L187.3 822.4L187.8 822.4L188.3 822.4L188.8 822.3L189.3 822.2L189.8 822.1L190.3 821.9L190.8 821.7L191.3 821.5L191.8 821.2L192.3 820.9L192.8 820.7L193.3 820.4L193.8 820.0L194.3 819.7L194.8 819.4L195.3 819.1L195.8 818.8L196.3 818.5L196.8 818.2L197.3 817.8L197.7 817.4L198.2 817.0L198.7 816.6L199.2 816.1L199.7 815.7L200.2 815.2L200.7 814.7L201.2 814.2L201.6 813.6L202.1 813.1L202.6 812.6L203.1 812.0L203.6 811.4L204.1 810.9L204.5 810.2L205.0 809.6L205.5 808.9L206.0 808.3L206.4 807.5L206.9 806.8L207.4 806.1L207.9 805.3L208.3 804.5L208.8 803.6L209.3 802.8L209.8 801.9L210.3 800.9L210.8 799.9L211.3 798.8L211.8 797.6L212.2 796.5L212.7 795.3L213.2 794.1L213.7 793.0L214.2 791.8L214.7 790.7L215.1 789.6L215.6 788.4L216.1 787.2L216.5 786.1L217.0 784.9L217.5 783.7L217.9 782.6L218.4 781.4L218.9 780.2L219.4 779.1L219.8 777.9L220.3 776.8L220.8 775.6L221.3 774.5L221.7 773.3L222.2 772.2L222.7 771.0L223.2 769.9L223.6 768.9L224.1 768.0L224.6 767.0L225.0 766.0L225.5 764.8L225.9 763.4L226.4 761.8L226.8 759.8L227.2 757.1L227.7 754.1L228.1 750.9L228.5 748.0L229.0 744.7L229.5 741.5L230.0 738.2L230.5 735.0L230.9 732.3L231.3 729.7L231.8 727.1L232.2 724.5L232.6 721.7L233.0 718.7L233.5 715.5L233.9 712.3L234.4 709.1L234.8 706.0L235.3 702.8L235.7 699.7L236.2 696.5L236.6 693.4L237.1 690.2L237.5 687.1L238.0 684.0L238.4 680.9L238.9 677.7L239.3 674.4L239.8 670.4L240.3 666.1L240.8 662.0L241.3 658.7L241.8 656.1L242.2 653.5L242.7 651.0L243.1 648.8L243.6 647.1L244.0 645.9L244.5 645.5L245.0 646.0L245.5 647.6L246.0 649.8L246.5 652.5L247.0 655.6L247.5 658.7L247.9 661.9L248.3 665.8L248.8 670.2L249.2 674.4L249.6 678.3L250.0 682.2L250.4 686.2L250.8 690.2L251.2 694.1L251.6 698.0L252.0 701.9L252.4 706.0L252.9 710.7L253.3 715.7L253.8 721.7L254.2 729.2L254.6 737.0L255.0 742.5L255.4 747.4L255.7 752.2L256.1 757.9L256.5 765.3L256.8 773.6L257.2 780.9L257.6 787.4L258.0 793.2L258.5 798.5L258.9 803.8L259.4 810.1L259.9 816.3L260.4 822.0L260.8 826.7L261.3 831.3L261.7 835.6L262.2 839.8L262.6 843.7L263.1 847.9L263.6 852.0L264.1 856.0L264.5 859.7L265.0 863.1L265.5 866.0L266.0 868.7L266.5 871.2L267.0 873.5L267.5 875.7L268.0 877.8L268.5 879.7L269.0 881.6L269.5 883.3L270.0 885.0L270.5 886.6L271.0 888.2L271.5 889.7L271.9 891.2L272.4 892.7L272.9 894.1L273.4 895.5L273.9 896.8L274.4 898.1L274.9 899.2L275.3 900.3L275.8 901.2L276.3 902.1L276.8 902.8L277.3 903.4L277.8 904.1L278.2 904.6L278.7 905.2L279.2 905.7L279.7 906.1L280.2 906.6L280.7 907.0L281.1 907.5L281.6 907.8L282.1 908.2L282.6 908.6L283.1 909.0L283.6 909.3L284.1 909.7L284.5 910.0L285.0 910.3L285.5 910.7L286.0 911.1L286.5 911.4L287.0 911.8L287.5 912.1L288.0 912.5L288.4 912.8L288.9 913.2L289.4 913.5L289.9 913.8L290.4 914.2L290.9 914.5L291.4 914.8L291.9 915.1L292.4 915.4L292.9 915.7L293.4 916.0L293.9 916.2L294.4 916.5L294.8 916.7L295.3 917.0L295.8 917.2L296.3 917.4L296.8 917.6L297.3 917.8L297.8 918.0L298.3 918.1L298.8 918.3L299.3 918.5L299.8 918.6L300.3 918.8L300.8 918.9L301.2 919.1L301.7 919.2L302.2 919.3L302.7 919.5L303.2 919.6L303.7 919.7L304.2 919.8L304.7 920.0L305.2 920.1L305.7 920.2L306.2 920.3L306.7 920.4L307.2 920.5L307.7 920.6L308.2 920.7L308.7 920.8L309.2 920.9L309.6 921.0L310.1 921.1L310.6 921.2L311.1 921.3L311.6 921.4L312.1 921.5L312.6 921.6L313.1 921.7L313.6 921.8L314.1 921.9L314.6 922.0L315.1 922.1L315.6 922.2L316.1 922.2L316.6 922.3L317.1 922.4L317.5 922.5L318.0 922.6L318.5 922.7L319.0 922.8L319.5 922.8L320.0 922.9L320.5 923.0L321.0 923.1L321.5 923.1L322.0 923.2L322.5 923.3L323.0 923.4L323.5 923.4L324.0 923.5L324.5 923.6L324.9 923.6L325.4 923.7L325.9 923.8L326.4 923.8L326.9 923.9L327.4 923.9L327.9 924.0L328.4 924.0L328.9 924.1L329.4 924.1L329.9 924.2L330.3 924.2L330.8 924.3L331.3 924.3L331.8 924.4L332.3 924.4L332.8 924.4L333.2 924.5L333.7 924.5L334.2 924.5L334.7 924.6L335.2 924.6L335.7 924.6L336.1 924.7L336.6 924.7L337.1 924.8L337.6 924.8L338.1 924.8L338.6 924.9L339.0 924.9L339.5 925.0L340.0 925.0L340.5 925.0L341.0 925.1L341.5 925.1L342.0 925.2L342.5 925.3L343.0 925.3L343.5 925.4L344.0 925.4L344.5 925.5L345.0 925.6L345.5 925.6L346.0 925.7L346.5 925.7L347.0 925.8L347.5 925.9L348.0 925.9L348.5 926.0L349.0 926.1L349.5 926.2L350.0 926.2L350.5 926.3L351.0 926.4L351.5 926.4L352.0 926.5L352.5 926.6L353.0 926.7L353.5 926.8L354.0 926.8L354.5 926.9L355.0 927.0L355.5 927.1L356.0 927.1L356.5 927.2L357.0 927.3L357.5 927.4L358.0 927.4L358.5 927.5L359.0 927.6L359.5 927.7L360.0 927.8L360.5 927.8L361.0 927.9L361.5 928.0L362.0 928.1L362.5 928.1L363.0 928.2L363.5 928.3L364.0 928.3L364.5 928.4L365.0 928.5L365.5 928.6L366.0 928.6L366.5 928.7L367.0 928.8L367.5 928.8L368.0 928.9L368.5 929.0L369.0 929.0L369.5 929.1L370.0 929.1L370.5 929.2L371.0 929.3L371.5 929.3L372.0 929.4L372.5 929.4L373.0 929.5L373.5 929.5L374.0 929.6L374.5 929.6L375.0 929.7L375.5 929.7L376.0 929.8L376.5 929.8L377.0 929.8L377.5 929.9L378.0 929.9L378.5 929.9L379.0 930.0L379.5 930.0L380.0 930.0L380.5 930.0L381.0 930.0L381.5 930.1L382.0 930.1L382.5 930.1L383.0 930.1L383.5 930.2L384.0 930.2L384.5 930.2L385.0 930.2L385.5 930.2L386.0 930.3L386.5 930.3L387.0 930.3L387.5 930.3L388.0 930.3L388.5 930.4L389.0 930.4L389.5 930.4L390.0 930.4L390.5 930.4L391.0 930.4L391.5 930.5L392.0 930.5L392.5 930.5L393.0 930.5L393.5 930.5L394.0 930.5L394.5 930.6L395.0 930.6L395.5 930.6L396.0 930.6L396.5 930.6L397.0 930.6L397.5 930.6L398.0 930.7L398.5 930.7L399.0 930.7L399.5 930.7L400.0 930.7L400.5 930.7L401.0 930.7L401.5 930.7L402.0 930.7L402.5 930.8L403.0 930.8L403.5 930.8L404.0 930.8L404.5 930.8L405.0 930.8L405.5 930.8L406.0 930.8L406.5 930.8L407.0 930.8L407.5 930.8L408.0 930.8L408.5 930.8L409.0 930.8L409.5 930.8L410.0 930.8L410.5 930.7L410.9 930.7L411.4 930.6L411.9 930.6L412.4 930.5L412.9 930.5L413.4 930.4L413.9 930.3L414.4 930.3L414.9 930.2L415.3 930.1L415.8 930.0L416.3 929.9L416.8 929.8L417.3 929.8L417.8 929.7L418.3 929.6L418.8 929.5L419.2 929.4L419.7 929.3L420.2 929.3L420.7 929.2L421.2 929.1L421.7 929.1L422.2 929.0L422.7 929.0L423.2 928.9L423.6 928.9L424.1 928.8L424.6 928.8L425.1 928.8L425.6 928.8L426.1 928.8L426.6 928.8L427.1 928.8L427.6 928.8L428.1 928.9L428.6 928.9L429.1 928.9L429.6 929.0L430.1 929.0L430.6 929.1L431.1 929.1L431.6 929.2L432.1 929.2L432.6 929.3L433.1 929.3L433.6 929.4L434.1 929.5L434.6 929.5L435.1 929.6L435.6 929.6L436.1 929.7L436.6 929.8L437.1 929.8L437.6 929.9L438.1 930.0L438.6 930.0L439.1 930.1L439.6 930.1L440.1 930.2L440.6 930.2L441.1 930.3L441.6 930.3L442.1 930.4L442.6 930.4L443.1 930.4L443.6 930.5L444.1 930.5L444.6 930.5L445.1 930.5L445.6 930.5L446.1 930.5L446.6 930.5L447.1 930.5L447.6 930.4L448.1 930.4L448.6 930.4L449.1 930.3L449.6 930.3L450.1 930.3L450.6 930.2L451.1 930.1L451.6 930.1L452.1 930.0L452.6 929.9L453.1 929.9L453.6 929.8L454.1 929.7L454.6 929.6L455.1 929.5L455.6 929.4L456.1 929.3L456.6 929.2L457.1 929.1L457.6 929.0L458.1 928.9L458.6 928.8L459.1 928.7L459.6 928.5L460.1 928.4L460.6 928.3L461.1 928.2L461.6 928.1L462.1 928.0L462.6 927.8L463.1 927.7L463.6 927.6L464.1 927.5L464.6 927.3L465.1 927.2L465.6 927.1L466.1 927.0L466.6 926.8L467.1 926.7L467.6 926.5L468.1 926.3L468.6 926.1L469.1 925.9L469.6 925.6L470.1 925.4L470.6 925.2L471.1 924.9L471.5 924.6L472.0 924.4L472.5 924.1L473.0 923.8L473.5 923.5L474.0 923.2L474.5 922.9L475.0 922.6L475.5 922.3L476.0 922.0L476.5 921.7L477.0 921.4L477.5 921.1L478.0 920.8L478.5 920.5L479.0 920.3L479.5 920.0L480.0 919.7L480.5 919.5L481.0 919.2L481.5 919.0L482.0 918.7L482.5 918.5L482.9 918.3L483.4 918.1L483.9 917.9L484.4 917.8L484.9 917.6L485.4 917.5L485.9 917.4L486.4 917.3L486.9 917.2L487.4 917.1L487.9 917.1L488.4 917.1L488.9 917.1L489.4 917.2L489.9 917.3L490.4 917.5L490.9 917.6L491.4 917.9L491.9 918.1L492.4 918.4L492.9 918.7L493.4 919.1L493.9 919.4L494.4 919.8L494.9 920.3L495.4 920.7L495.9 921.1L496.4 921.6L496.9 922.1L497.4 922.6L497.9 923.1L498.4 923.6L498.9 924.1L499.4 924.6L499.9 925.1L500.4 925.6L500.9 926.1L501.4 926.6L501.9 927.0L502.4 927.5L502.9 928.0L503.4 928.4L503.9 928.8L504.4 929.2L504.9 929.6L505.4 929.9L505.9 930.3L506.4 930.6L506.9 930.8L507.4 931.0L507.9 931.2L508.4 931.4L508.9 931.5L509.4 931.7L509.9 931.8L510.4 931.9L510.9 932.1L511.4 932.2L511.9 932.3L512.4 932.5L512.9 932.6L513.4 932.7L513.9 932.8L514.4 932.9L514.9 933.1L515.4 933.2L515.9 933.3L516.4 933.4L516.9 933.5L517.4 933.6L517.9 933.7L518.4 933.8L518.9 933.9L519.4 934.0L519.9 934.1L520.4 934.1L520.9 934.2L521.4 934.3L521.9 934.3L522.4 934.4L522.9 934.5L523.4 934.5L523.9 934.6L524.4 934.6L524.9 934.7L525.4 934.7L525.9 934.7L526.4 934.8L526.9 934.8L527.4 934.8L527.9 934.8L528.4 934.8L528.9 934.8L529.4 934.8L529.9 934.8L530.4 934.8L530.9 934.8L531.4 934.8L531.9 934.8L532.4 934.8L532.9 934.8L533.4 934.7L533.9 934.7L534.4 934.7L534.9 934.7L535.4 934.7L535.9 934.7L536.4 934.7L536.9 934.6L537.4 934.6L537.9 934.6L538.4 934.6L538.9 934.6L539.4 934.5L539.9 934.5L540.4 934.5L540.9 934.5L541.4 934.4L541.9 934.4L542.4 934.4L542.9 934.4L543.4 934.3L543.9 934.3L544.3 934.3L544.8 934.2L545.3 934.2L545.8 934.2L546.3 934.1L546.8 934.1L547.3 934.1L547.8 934.0L548.3 934.0L548.8 933.9L549.3 933.9L549.8 933.8L550.3 933.8L550.8 933.8L551.3 933.7L551.8 933.7L552.3 933.6L552.8 933.6L553.3 933.5L553.8 933.5L554.3 933.4L554.8 933.4L555.3 933.3L555.8 933.3L556.3 933.2L556.8 933.2L557.3 933.1L557.8 933.0L558.3 933.0L558.8 932.9L559.3 932.9L559.8 932.8L560.3 932.7L560.8 932.6L561.3 932.5L561.8 932.3L562.3 932.1L562.7 931.8L563.2 931.6L563.7 931.3L564.2 931.0L564.7 930.7L565.2 930.4L565.7 930.1L566.2 929.7L566.7 929.4L567.2 929.1L567.6 928.7L568.1 928.4L568.6 928.0L569.1 927.7L569.6 927.4L570.1 927.1L570.6 926.8L571.1 926.5L571.6 926.2L572.1 926.0L572.6 925.8L573.0 925.6L573.5 925.4L574.0 925.3L574.5 925.2L575.0 925.1L575.5 925.1L576.0 925.1L576.5 925.2L577.0 925.3L577.5 925.4L578.0 925.6L578.5 925.8L579.0 926.0L579.5 926.3L580.0 926.6L580.5 926.9L581.0 927.2L581.5 927.5L582.0 927.9L582.4 928.2L582.9 928.6L583.4 929.0L583.9 929.4L584.4 929.8L584.9 930.2L585.4 930.6L585.9 931.0L586.4 931.4L586.9 931.7L587.4 932.1L587.9 932.5L588.4 932.8L588.9 933.2L589.4 933.5L589.9 934.0L590.4 934.4L590.9 934.9L591.4 935.3L591.9 935.8L592.4 936.3L592.9 936.8L593.4 937.3L593.9 937.8L594.3 938.3L594.8 938.8L595.3 939.2L595.8 939.6L596.3 940.0L596.8 940.3L597.3 940.6L597.8 940.9L598.3 941.1L598.8 941.3L599.3 941.4L599.8 941.4L600.3 941.4L600.8 941.4L601.3 941.4L601.8 941.4L602.3 941.4L602.8 941.4L603.3 941.4L603.8 941.4L604.3 941.4L604.8 941.4L605.3 941.4L605.8 941.4L606.3 941.4L606.8 941.4L607.3 941.4L607.8 941.4L608.3 941.4L608.7 941.4L609.2 941.4L609.7 941.4L610.2 941.4L610.7 941.4L611.2 941.4L611.7 941.4L612.2 941.4L612.7 941.4L613.2 941.4L613.7 941.4L614.2 941.4L614.7 941.4L615.2 941.4L615.7 941.4L616.2 941.4L616.7 941.4L617.2 941.4L617.7 941.4L618.2 941.4L618.7 941.4L619.2 941.4L619.7 941.4L620.2 941.4L620.7 941.4L621.2 941.4L621.7 941.4L622.2 941.4L622.7 941.4L623.2 941.4L623.7 941.4L624.2 941.4L624.7 941.4L625.2 941.4L625.6 941.4L626.1 941.4L626.6 941.4L627.1 941.4L627.6 941.4L628.1 941.4L628.6 941.4L629.1 941.4L629.6 941.4L630.1 941.4L630.6 941.4L631.1 941.4L631.6 941.4L632.1 941.4L632.6 941.4L633.1 941.4L633.6 941.4L634.1 941.4L634.6 941.4L635.1 941.4L635.6 941.5L636.1 941.5L636.5 941.6L637.0 941.6L637.5 941.7L638.0 941.8L638.5 941.9L639.0 942.0L639.5 942.1L640.0 942.2L640.5 942.3L640.9 942.4L641.4 942.5L641.9 942.6L642.4 942.7L642.9 942.9L643.4 943.0L643.9 943.1L644.4 943.2L644.8 943.3L645.3 943.4L645.8 943.5L646.3 943.6L646.8 943.7L647.3 943.8L647.8 943.9L648.3 944.0L648.8 944.0L649.2 944.1L649.7 944.1L650.2 944.2L650.7 944.2L651.2 944.2L651.7 944.2L652.2 944.2L652.7 944.2L653.2 944.2L653.7 944.2L654.2 944.2L654.7 944.2L655.2 944.2L655.7 944.2L656.2 944.2L656.7 944.2L657.2 944.2L657.7 944.2L658.2 944.2L658.7 944.2L659.2 944.2L659.7 944.2L660.2 944.2L660.7 944.2L661.2 944.2L661.7 944.2L662.2 944.1L662.7 944.1L663.2 944.1L663.6 944.1L664.1 944.1L664.6 944.1L665.1 944.1L665.6 944.1L666.1 944.1L666.6 944.1L667.1 944.1L667.6 944.1L668.1 944.1L668.6 944.1L669.1 944.1L669.6 944.1L670.1 944.1L670.6 944.1L671.1 944.1L671.6 944.0L672.1 944.0L672.6 944.0L673.1 944.0L673.6 944.0L674.1 944.0L674.6 944.0L675.1 944.0L675.6 944.0L676.1 944.0L676.6 944.0L677.1 944.0L677.6 944.0L678.1 944.0L678.6 944.0L679.1 944.0L679.6 944.0L680.1 943.9L680.6 943.9L681.1 943.9L681.6 943.9L682.1 943.9L682.6 943.9L683.1 943.9L683.6 943.9L684.1 943.9L684.6 943.9L685.1 943.9L685.6 943.9L686.1 943.9L686.6 943.9L687.1 943.9L687.6 943.9L688.0 943.9L688.5 943.9L689.0 943.9L689.5 943.8L690.0 943.8L690.5 943.8L691.0 943.8L691.5 943.8L692.0 943.8L692.5 943.8L693.0 943.8L693.5 943.8L694.0 943.8L694.5 943.8L695.0 943.8L695.5 943.8L696.0 943.8L696.5 943.8L697.0 943.8L697.5 943.8L698.0 943.8L698.5 943.8L699.0 943.8L699.5 943.8L700.0 943.8L700.5 943.8L701.0 943.8L701.5 943.8L702.0 943.8L702.5 943.8L703.0 943.8L703.4 943.8L703.9 943.8L704.4 943.8L704.9 943.8L705.4 943.8L705.9 943.8L706.4 943.8L706.9 943.8L707.4 943.8L707.9 943.8L708.4 943.8L708.9 943.8L709.3 943.8L709.8 943.8L710.3 943.8L710.8 943.8L711.3 943.8L711.8 943.8L712.3 943.8L712.8 943.8L713.3 943.8L713.8 943.8L714.3 943.8L714.8 943.8L715.2 943.8L715.7 943.8L716.2 943.8L716.7 943.8L717.2 943.8L717.7 943.8L718.2 943.8L718.7 943.8L719.2 943.8L719.7 943.8L720.2 943.8L720.6 943.8L721.1 943.8L721.6 943.8L722.1 943.8L722.6 943.8L723.1 943.8L723.6 943.8L724.1 943.8L724.5 944.0L725.0 944.2L725.5 944.4L726.0 944.7L726.4 944.9L726.9 945.2L727.4 945.4L727.9 945.6L728.3 945.8L728.8 945.8L729.3 945.8L729.8 945.8L730.3 945.8L730.8 945.8L731.3 945.8L731.8 945.8L732.3 945.8L732.8 945.8L733.3 945.8L733.8 945.8L734.3 945.8L734.8 945.8L735.2 945.8L735.7 945.8L736.2 945.8L736.7 945.8L737.2 945.8L737.7 945.8L738.2 945.8L738.7 945.8L739.2 945.8L739.7 945.8L740.2 945.8L740.7 945.8L741.2 945.8L741.7 945.8L742.2 945.8L742.7 945.8L743.2 945.8L743.7 945.8L744.2 945.8L744.7 945.8L745.2 945.8L745.7 945.8L746.2 945.8L746.7 945.8L747.2 945.8L747.7 945.8L748.1 945.8L748.6 945.8L749.1 945.8L749.6 945.8L750.1 945.8L750.6 945.8L751.1 945.8L751.6 945.8L752.1 945.8L752.6 945.8L753.1 945.8L753.6 945.8L754.1 945.8L754.6 945.8L755.1 945.7L755.5 945.6L756.0 945.3L756.5 945.0L756.9 944.7L757.4 944.3L757.8 944.0L758.3 943.7L758.8 943.4L759.2 943.3L759.7 943.2L760.2 943.2L760.7 943.2L761.2 943.2L761.7 943.2L762.2 943.2L762.7 943.2L763.2 943.2L763.7 943.2L764.2 943.2L764.7 943.2L765.2 943.2L765.7 943.2L766.2 943.2L766.7 943.2L767.2 943.2L767.7 943.2L768.2 943.2L768.7 943.2L769.2 943.2L769.7 943.2L770.1 943.2L770.6 943.2L771.1 943.2L771.6 943.2L772.1 943.2L772.6 943.2L773.1 943.2L773.6 943.2L774.1 943.2L774.6 943.2L775.1 943.2L775.6 943.2L776.1 943.2L776.6 943.2L777.1 943.2L777.6 943.2L778.1 943.2L778.6 943.2L779.1 943.2L779.6 943.2L780.1 943.2L780.6 943.2L781.1 943.2L781.6 943.2L782.1 943.2L782.6 943.2L783.1 943.2L783.6 943.2L784.1 943.2L784.6 943.2L785.1 943.2L785.6 943.2L786.1 943.2L786.6 943.2L787.1 943.2L787.6 943.2L788.1 943.2L788.6 943.2L789.1 943.2L789.6 943.2L790.1 943.2L790.6 943.2L791.0 943.2L791.5 943.2L792.0 943.2L792.5 943.2L793.0 943.2L793.5 943.2L794.0 943.2L794.5 943.2L795.0 943.2L795.5 943.2L796.0 943.2L796.5 943.2L797.0 943.2L797.5 943.2L798.0 943.2L798.5 943.2L799.0 943.2L799.5 943.2L800.0 943.2L800.5 943.2L801.0 943.2L801.5 943.3L802.0 943.5L802.5 943.8L803.0 944.1L803.5 944.5L804.0 944.9L804.5 945.2L805.0 945.5L805.5 945.7L806.0 945.8L806.5 945.8L807.0 945.8L807.5 945.8L808.0 945.8L808.5 945.8L809.0 945.8L809.5 945.8L810.0 945.8L810.5 945.8L811.0 945.8L811.5 945.8L812.0 945.8L812.5 945.8L813.0 945.8L813.5 945.8L814.0 945.8L814.5 945.8L815.0 945.8L815.5 945.8L816.0 945.8L816.5 945.8L817.0 945.8L817.5 945.8L818.0 945.8L818.5 945.8L819.0 945.8L819.5 945.8L820.0 945.8L820.5 945.8L821.0 945.8L821.5 945.8L822.0 945.8L822.5 945.8L823.0 945.8L823.5 945.8L824.0 945.8L824.5 945.8L825.0 945.8L825.5 945.8L826.0 945.8L826.5 945.8L827.0 945.8L827.5 945.8L828.0 945.8L828.5 945.8L829.0 945.8L829.5 945.8L830.0 945.8L830.5 945.8L831.0 945.8L831.5 945.8L832.0 945.8L832.5 945.8L833.0 945.8L833.5 945.8L834.0 945.8L834.5 945.8L835.0 945.8L835.5 945.8L836.0 945.8L836.5 945.8L837.0 945.8L837.5 945.8L838.0 945.8L838.5 945.8L839.0 945.8L839.5 945.8L840.0 945.8L840.5 945.8L841.0 945.8L841.5 945.8L842.0 945.8L842.5 945.8L843.0 945.8L843.5 945.8L844.0 945.8L844.5 945.8L845.0 945.8L845.5 945.8L846.0 945.8L846.5 945.8L847.0 945.8L847.5 945.8L848.0 945.8L848.5 945.8L849.0 945.8L849.5 945.8L850.0 945.8L850.5 945.8L851.0 945.8L851.5 945.8L852.0 945.8L852.5 945.8L853.0 945.8L853.5 945.8L854.0 945.8L854.5 945.8L855.0 945.8L855.5 945.8L856.0 945.8L856.5 945.8L857.0 945.8L857.5 945.8L858.0 945.8L858.5 945.8L859.0 945.8L859.5 945.8L860.0 945.8L860.5 945.8L861.0 945.8L861.5 945.8L862.0 945.8L862.5 945.8L863.0 945.8L863.5 945.8L864.0 945.8L864.5 945.8L865.0 945.8L865.5 945.8L866.0 945.8L866.5 945.8L867.0 945.8L867.5 945.8L868.0 945.8L868.5 945.8L869.0 945.8L869.5 945.8L870.0 945.8L870.5 945.8L871.0 945.8L871.5 945.8L872.0 945.8L872.5 945.8L873.0 945.8L873.5 945.8L874.0 945.8L874.5 945.8L875.0 945.8L875.5 945.8L876.0 945.8L876.5 945.8L877.0 945.8L877.5 945.8L878.0 945.8L878.5 945.8L879.0 945.8L879.5 945.8L880.0 945.8L880.5 945.8L881.0 945.8L881.5 945.8L882.0 945.8L882.5 945.8L883.0 945.8L883.5 945.8L884.0 945.8L884.5 945.8L885.0 945.8L885.5 945.8L886.0 945.8L886.5 945.8L887.0 945.8L887.5 945.8L888.0 945.8L888.5 945.8L889.0 945.8L889.5 945.8L890.0 945.8L890.5 945.8L891.0 945.8L891.5 945.8L892.0 945.8L892.5 945.9L893.0 946.0L893.5 946.1L894.0 946.3L894.4 946.4L894.9 946.6L895.4 946.8L895.9 947.1L896.4 947.3L896.9 947.5L897.4 947.7L897.9 948.0L898.4 948.2L898.9 948.4L899.3 948.5L899.8 948.7L900.3 948.8L900.8 948.9L901.3 949.0L901.8 949.0L902.3 949.0L902.8 948.9L903.3 948.9L903.8 948.8L904.3 948.6L904.8 948.5L905.3 948.3L905.8 948.2L906.3 948.0L906.8 947.8L907.3 947.6L907.8 947.4L908.2 947.1L908.7 946.9L909.2 946.7L909.7 946.5L910.2 946.3L910.7 946.1L911.2 946.0L911.7 945.8L912.2 945.7L912.7 945.5L913.2 945.4L913.7 945.4L914.2 945.3L914.7 945.3L915.2 945.3L915.7 945.3L916.2 945.4L916.7 945.4L917.2 945.5L917.7 945.5L918.2 945.6L918.7 945.7L919.2 945.8L919.7 945.9L920.2 946.0L920.7 946.1L921.2 946.2L921.7 946.3L922.2 946.4L922.7 946.5L923.2 946.6L923.7 946.7L924.2 946.8L924.7 946.9L925.2 946.9L925.7 947.0L926.2 947.0L926.7 947.1L927.2 947.1L927.7 947.1L928.2 947.1L928.7 947.1L929.2 947.1L929.7 947.1L930.2 947.1L930.7 947.1L931.2 947.1L931.7 947.1L932.2 947.1L932.7 947.1L933.2 947.1L933.7 947.1L934.2 947.1L934.7 947.1L935.2 947.1L935.7 947.1L936.2 947.1L936.7 947.1L937.2 947.1L937.7 947.1L938.2 947.1L938.7 947.1L939.2 947.1L939.7 947.1L940.2 947.1L940.7 947.1L941.2 947.1L941.7 947.1L942.2 947.1L942.7 947.1L943.2 947.1L943.7 947.1L944.2 947.1L944.7 947.1L945.2 947.1L945.7 947.1L946.2 947.1L946.7 947.1L947.2 947.1L947.7 947.1L948.2 947.1L948.7 947.1L949.2 947.1L949.7 947.1L950.2 947.1L950.7 947.1L951.2 947.1L951.7 947.1L952.2 947.1L952.7 947.1L953.2 947.1L953.7 947.1L954.2 947.1L954.7 947.1L955.2 947.1L955.7 947.1L956.2 947.1L956.7 947.1L957.2 947.1L957.7 947.1L958.2 947.1L958.7 947.1L959.2 947.1L959.7 947.1L960.2 947.1L960.7 947.1L961.2 947.1L961.7 947.1L962.2 947.1L962.7 947.1L963.2 947.1L963.7 947.1L964.2 947.1L964.7 947.1L965.2 947.1L965.7 947.1L966.2 947.1L966.7 947.1L967.2 947.1L967.7 947.1L968.2 947.1L968.7 947.1L969.2 947.1L969.7 947.1L970.2 947.1L970.7 947.1L971.2 947.1L971.7 947.1L972.2 947.1L972.7 947.1L973.2 947.1L973.7 947.1L974.2 947.1L974.7 947.1L975.2 947.1L975.7 947.1L976.2 947.1L976.7 947.1L977.2 947.1L977.7 947.1L978.2 947.1L978.7 947.1L979.2 947.1L979.7 947.1L980.2 947.1L980.7 947.1L981.2 947.1L981.7 947.1L982.2 947.1L982.7 947.1L983.2 947.1L983.7 947.1L984.2 947.1L984.7 947.1L985.2 947.1L985.7 947.1L986.2 947.1L986.7 947.1L987.2 947.1L987.7 947.1L988.2 947.1L988.7 947.1L989.2 947.1L989.7 947.1L990.2 947.1L990.7 947.1L991.2 947.1L991.7 947.1L992.2 947.1L992.7 947.1L993.2 947.1L993.7 947.1L994.2 947.1L994.7 947.1L995.2 947.1L995.7 947.1L996.2 947.1L996.7 947.1L997.2 947.1L997.7 947.1L998.2 947.1L998.7 947.1L999.2 947.1L999.7 947.1L1000.2 947.1L1000.7 947.1L1001.2 947.1L1001.7 947.1L1002.2 947.1L1002.7 947.1L1003.2 947.1L1003.7 947.1L1004.2 947.1L1004.7 947.1L1005.2 947.1L1005.7 947.1L1006.2 947.1L1006.7 947.1L1007.2 947.1L1007.7 947.1L1008.2 947.1L1008.7 947.1L1009.2 947.1L1009.7 947.1L1010.2 947.1L1010.7 947.1L1011.2 947.1L1011.7 947.1L1012.2 947.1L1012.7 947.1L1013.2 947.1L1013.7 947.1L1014.2 947.1L1014.7 947.1L1015.2 947.1L1015.7 947.1L1016.2 947.1L1016.7 947.1L1017.2 947.1L1017.7 947.1L1018.2 947.1L1018.7 947.1L1019.2 947.1L1019.7 947.1L1020.2 947.1L1020.7 947.1L1021.2 947.1L1021.7 947.1L1022.2 947.1L1022.7 947.1L1023.2 947.1L1023.7 947.1L1024.2 947.1L1024.7 947.1L1025.2 947.1L1025.7 947.1L1026.2 947.1L1026.7 947.1L1027.2 947.1L1027.7 947.1L1028.2 947.1L1028.7 947.1L1029.2 947.1L1029.7 947.1L1030.2 947.1L1030.7 947.1L1031.2 947.1L1031.7 947.1L1032.2 947.1L1032.7 947.1L1033.2 947.1L1033.7 947.1L1034.2 947.1L1034.7 947.1L1035.2 947.1L1035.7 947.1L1036.2 947.1L1036.7 947.1L1037.2 947.1L1037.7 947.1L1038.2 947.1L1038.7 947.1L1039.2 947.1L1039.7 947.1L1040.2 947.1L1040.7 947.1L1041.2 947.1L1041.7 947.1L1042.2 947.1L1042.7 947.1L1043.2 947.1L1043.7 947.1L1044.2 947.1L1044.7 947.1L1045.2 947.1L1045.7 947.1L1046.2 947.1L1046.7 947.1L1047.2 947.1L1047.7 947.1L1048.2 947.1L1048.7 947.1L1049.2 947.1L1049.7 947.1L1050.2 947.1L1050.7 947.1L1051.2 947.1L1051.7 947.1L1052.2 947.1L1052.7 947.1L1053.2 947.1L1053.7 947.1L1054.2 947.1L1054.7 947.1L1055.2 947.1L1055.7 947.1L1056.2 947.1L1056.7 947.1L1057.2 947.1L1057.7 947.1L1058.2 947.1L1058.7 947.1L1059.2 947.1L1059.7 947.1L1060.2 947.1L1060.7 947.1L1061.2 947.1L1061.7 947.1L1062.2 947.1L1062.7 947.1L1063.2 947.1L1063.7 947.1L1064.2 947.1L1064.7 947.1L1065.2 947.1L1065.7 947.1L1066.2 947.1L1066.7 947.1L1067.2 947.1L1067.7 947.1L1068.2 947.1L1068.7 947.1L1069.2 947.1L1069.7 947.1L1070.2 947.1L1070.7 947.1L1071.2 947.1L1071.7 947.1L1072.2 947.1L1072.7 947.1L1073.2 947.1L1073.7 947.1L1074.2 947.1L1074.7 947.1L1075.2 947.1L1075.7 947.1L1076.2 947.1L1076.7 947.1L1077.2 947.1L1077.7 947.1L1078.2 947.1L1078.7 947.1L1079.2 947.1L1079.7 947.1L1080.2 947.1L1080.7 947.1L1081.2 947.1L1081.7 947.1L1082.2 947.1L1082.7 947.1L1083.2 947.1L1083.7 947.1L1084.2 947.1L1084.7 947.1L1085.2 947.1L1085.7 947.1L1086.2 947.1L1086.7 947.1L1087.2 947.1L1087.7 947.1L1088.2 947.1L1088.7 947.1L1089.2 947.1L1089.7 947.1L1090.2 947.1L1090.7 947.1L1091.2 947.1L1091.7 947.1L1092.2 947.1L1092.7 947.1L1093.2 947.1L1093.7 947.1L1094.2 947.1L1094.7 947.1L1095.2 947.1L1095.7 947.1L1096.2 947.1L1096.7 947.1L1097.2 947.1L1097.7 947.1L1098.2 947.1L1098.7 947.1L1099.2 947.1L1099.7 947.1L1100.2 947.1L1100.7 947.1L1101.2 947.1L1101.7 947.1L1102.2 947.1L1102.7 947.1L1103.2 947.1L1103.7 947.1L1104.2 947.1L1104.7 947.1L1105.2 947.1L1105.7 947.1L1106.2 947.1L1106.7 947.1L1107.2 947.1L1107.7 947.1L1108.2 947.1L1108.7 947.1L1109.2 947.1L1109.7 947.1L1110.2 947.1L1110.7 947.1L1111.2 947.1L1111.7 947.1L1112.2 947.1L1112.7 947.1L1113.2 947.1L1113.7 947.1L1114.2 947.1L1114.7 947.1L1115.2 947.1L1115.7 947.1L1116.2 947.1L1116.7 947.1L1117.2 947.1L1117.7 947.1L1118.2 947.1L1118.7 947.1L1119.2 947.1L1119.7 947.1L1120.2 947.1L1120.7 947.1L1121.2 947.1L1121.7 947.1L1122.2 947.1L1122.7 947.1L1123.2 947.1L1123.7 947.2L1124.2 947.2L1124.7 947.3L1125.2 947.3L1125.7 947.4L1126.2 947.4L1126.7 947.5L1127.1 947.6L1127.6 947.6L1128.1 947.7L1128.6 947.8L1129.1 947.9L1129.6 948.0L1130.1 948.1L1130.6 948.2L1131.1 948.3L1131.6 948.4L1132.1 948.4L1132.6 948.5L1133.1 948.6L1133.6 948.7L1134.1 948.8L1134.6 948.9L1135.1 949.0L1135.6 949.1L1136.1 949.2L1136.6 949.2L1137.0 949.3L1137.5 949.4L1138.0 949.4L1138.5 949.5L1139.0 949.5L1139.5 949.6L1140.0 949.6L1140.5 949.7L1141.0 949.7L1141.5 949.7L1142.0 949.7L1142.5 949.7L1143.0 949.7L1143.5 949.6L1144.0 949.6L1144.5 949.6L1145.0 949.5L1145.5 949.4L1146.0 949.4L1146.5 949.3L1147.0 949.2L1147.5 949.1L1148.0 949.0L1148.5 948.9L1149.0 948.8L1149.5 948.7L1150.0 948.6L1150.5 948.5L1151.0 948.4L1151.5 948.3L1152.0 948.2L1152.5 948.1L1153.0 948.0L1153.5 947.9L1154.0 947.8L1154.5 947.7L1155.0 947.6L1155.5 947.5L1156.0 947.4L1156.5 947.4L1157.0 947.3L1157.5 947.2L1158.0 947.2L1158.5 947.2L1159.0 947.1L1159.5 947.1L1160.0 947.1L1160.5 947.1L1161.0 947.1L1161.5 947.1L1162.0 947.1L1162.5 947.1L1163.0 947.1L1163.5 947.1L1164.0 947.1L1164.5 947.1L1165.0 947.1L1165.5 947.1L1166.0 947.1L1166.5 947.1L1167.0 947.1L1167.5 947.1L1168.0 947.1L1168.5 947.1L1169.0 947.1L1169.5 947.1L1170.0 947.1L1170.5 947.1L1171.0 947.1L1171.5 947.1L1172.0 947.1L1172.5 947.1L1173.0 947.1L1173.5 947.1L1174.0 947.1L1174.5 947.1L1175.0 947.1L1175.5 947.1L1176.0 947.1L1176.5 947.1L1177.0 947.1L1177.5 947.1L1178.0 947.1L1178.5 947.1L1179.0 947.1L1179.5 947.1L1180.0 947.1L1180.5 947.1L1181.0 947.1L1181.5 947.1L1182.0 947.1L1182.5 947.1L1183.0 947.1L1183.5 947.1L1184.0 947.1L1184.5 947.1L1185.0 947.1L1185.5 947.1L1186.0 947.1L1186.5 947.1L1187.0 947.1L1187.5 947.2L1188.0 947.2L1188.5 947.3L1189.0 947.4L1189.5 947.4L1190.0 947.5L1190.5 947.6L1191.0 947.7L1191.5 947.9L1192.0 948.0L1192.5 948.1L1193.0 948.2L1193.5 948.4L1194.0 948.5L1194.5 948.7L1195.0 948.8L1195.5 948.9L1196.0 949.1L1196.5 949.2L1197.0 949.4L1197.5 949.5L1198.0 949.6L1198.5 949.7L1199.0 949.9L1199.5 950.0L1200.0 950.1L1200.5 950.2L1201.0 950.2L1201.5 950.3L1202.0 950.4L1202.5 950.4L1203.0 950.5L1203.5 950.5L1204.0 950.5L1204.5 950.5L1205.0 950.5L1205.5 950.5L1206.0 950.4L1206.5 950.4L1207.0 950.3L1207.5 950.3L1208.0 950.2L1208.5 950.1L1209.0 950.1L1209.5 950.0L1210.0 949.9L1210.5 949.8L1211.0 949.7L1211.5 949.6L1212.0 949.5L1212.5 949.4L1213.0 949.3L1213.5 949.2L1214.0 949.1L1214.5 949.0L1215.0 948.9L1215.5 948.8L1216.0 948.7L1216.5 948.6L1217.0 948.5L1217.5 948.4L1218.0 948.3L1218.5 948.2L1219.0 948.1L1219.5 948.0L1220.0 947.9L1220.5 947.9L1221.0 947.8L1221.5 947.7L1222.0 947.7L1222.5 947.6L1223.0 947.6L1223.5 947.5L1224.0 947.5L1224.5 947.5L1225.0 947.5L1225.5 947.5L1226.0 947.5L1226.5 947.6L1227.0 947.6L1227.5 947.7L1228.0 947.8L1228.5 947.9L1229.0 948.0L1229.5 948.1L1230.0 948.2L1230.5 948.3L1231.0 948.5L1231.5 948.6L1232.0 948.7L1232.5 948.9L1233.0 949.0L1233.5 949.1L1234.0 949.2L1234.5 949.3L1235.0 949.4L1235.5 949.5L1236.0 949.6L1236.5 949.6L1237.0 949.7L1237.5 949.7L1238.0 949.7L1238.5 949.7L1239.0 949.7L1239.5 949.7L1240.0 949.7L1240.5 949.6L1241.0 949.6L1241.5 949.6L1242.0 949.6L1242.4 949.5L1242.9 949.5L1243.4 949.4L1243.9 949.4L1244.4 949.4L1244.9 949.3L1245.4 949.3L1245.9 949.2L1246.4 949.1L1246.9 949.1L1247.4 949.0L1247.9 949.0L1248.4 948.9L1248.9 948.9L1249.4 948.8L1249.9 948.7L1250.4 948.7L1250.8 948.6L1251.3 948.5L1251.8 948.5L1252.3 948.4L1252.8 948.3L1253.3 948.3L1253.8 948.2L1254.3 948.2L1254.8 948.1L1255.3 948.1L1255.8 948.0L1256.3 947.9L1256.8 947.9L1257.3 947.8L1257.8 947.8L1258.3 947.8L1258.8 947.7L1259.3 947.7L1259.7 947.6L1260.2 947.6L1260.7 947.6L1261.2 947.6L1261.7 947.5L1262.2 947.5L1262.7 947.5L1263.2 947.5L1263.7 947.5L1264.2 947.5L1264.7 947.5L1265.2 947.6L1265.7 947.6L1266.1 947.6L1266.6 947.7L1267.1 947.8L1267.6 947.9L1268.1 947.9L1268.6 948.0L1269.1 948.1L1269.6 948.2L1270.1 948.4L1270.5 948.5L1271.0 948.6L1271.5 948.7L1272.0 948.8L1272.5 948.9L1273.0 949.1L1273.5 949.2L1274.0 949.3L1274.5 949.4L1275.0 949.5L1275.4 949.6L1275.9 949.8L1276.4 949.9L1276.9 950.0L1277.4 950.1L1277.9 950.1L1278.4 950.2L1278.9 950.3L1279.4 950.4L1279.8 950.4L1280.3 950.4L1280.8 950.5L1281.3 950.5L1281.8 950.5L1282.3 950.5L1282.8 950.5L1283.3 950.5L1283.8 950.5L1284.3 950.5L1284.8 950.5L1285.3 950.5L1285.8 950.5L1286.3 950.5L1286.8 950.5L1287.3 950.5L1287.8 950.5L1288.3 950.5L1288.8 950.5L1289.3 950.5L1289.8 950.5L1290.3 950.5L1290.8 950.5L1291.3 950.5L1291.8 950.5L1292.3 950.5L1292.8 950.5L1293.3 950.5L1293.8 950.5L1294.3 950.5L1294.8 950.5L1295.3 950.5L1295.8 950.5L1296.3 950.5L1296.8 950.5L1297.3 950.5L1297.8 950.5L1298.3 950.5L1298.8 950.5L1299.3 950.5L1299.8 950.5L1300.3 950.5L1300.8 950.5L1301.3 950.5L1301.8 950.5L1302.3 950.5L1302.8 950.5L1303.3 950.5L1303.8 950.5L1304.3 950.5L1304.8 950.5L1305.3 950.5L1305.8 950.5L1306.3 950.5L1306.8 950.5L1307.3 950.5L1307.8 950.5L1308.3 950.5L1308.7 950.5L1309.2 950.5L1309.7 950.5L1310.2 950.5L1310.7 950.5L1311.2 950.5L1311.7 950.5L1312.2 950.5L1312.7 950.5L1313.2 950.5L1313.7 950.5L1314.2 950.5L1314.7 950.5L1315.2 950.5L1315.7 950.5L1316.2 950.5L1316.7 950.5L1317.2 950.5L1317.7 950.5L1318.2 950.5L1318.7 950.5L1319.2 950.5L1319.7 950.5L1320.2 950.5L1320.7 950.5L1321.2 950.5L1321.7 950.5L1322.2 950.5L1322.7 950.5L1323.2 950.5L1323.7 950.5L1324.2 950.5L1324.7 950.5L1325.2 950.5L1325.7 950.5L1326.2 950.5L1326.7 950.5L1327.2 950.5L1327.7 950.5L1328.2 950.5L1328.7 950.5L1329.2 950.5L1329.7 950.5L1330.2 950.5L1330.7 950.5L1331.2 950.5L1331.7 950.5L1332.2 950.5L1332.7 950.5L1333.2 950.5L1333.7 950.5L1334.2 950.5L1334.7 950.5L1335.2 950.5L1335.7 950.5L1336.2 950.5L1336.7 950.5L1337.2 950.5L1337.7 950.5L1338.2 950.5L1338.7 950.5L1339.2 950.5L1339.7 950.5L1340.2 950.5L1340.7 950.5L1341.2 950.5L1341.7 950.5L1342.2 950.5L1342.7 950.5L1343.2 950.5L1343.7 950.5L1344.2 950.5L1344.7 950.5L1345.2 950.5L1345.7 950.5L1346.2 950.5L1346.7 950.5L1347.2 950.5L1347.7 950.5L1348.2 950.5L1348.7 950.5L1349.2 950.5L1349.7 950.5L1350.2 950.5L1350.7 950.5L1351.2 950.5L1351.7 950.5L1352.2 950.5L1352.7 950.5L1353.2 950.5L1353.7 950.5L1354.2 950.5L1354.7 950.5L1355.2 950.5L1355.7 950.5L1356.2 950.5L1356.7 950.5L1357.2 950.5L1357.7 950.5L1358.2 950.5L1358.7 950.5L1359.2 950.5L1359.7 950.5L1360.2 950.5L1360.7 950.5L1361.2 950.5L1361.7 950.5L1362.1 950.5L1362.6 950.5L1363.1 950.5L1363.6 950.5L1364.1 950.5L1364.6 950.5L1365.1 950.5L1365.6 950.5L1366.1 950.5L1366.6 950.5L1367.1 950.5L1367.6 950.5L1368.1 950.5L1368.6 950.5L1369.1 950.5L1369.6 950.5L1370.1 950.5L1370.6 950.5L1371.1 950.5L1371.6 950.5L1372.1 950.5L1372.6 950.5L1373.1 950.5L1373.6 950.5L1374.1 950.5L1374.6 950.5L1375.1 950.5L1375.6 950.5L1376.1 950.5L1376.6 950.5L1377.1 950.5L1377.6 950.5L1378.1 950.5L1378.6 950.5L1379.1 950.5L1379.6 950.5L1380.1 950.5L1380.6 950.5L1381.1 950.5L1381.6 950.5L1382.1 950.5L1382.6 950.5L1383.1 950.5L1383.6 950.5L1384.1 950.5L1384.6 950.5L1385.1 950.5L1385.6 950.5L1386.1 950.5L1386.6 950.5L1387.1 950.5L1387.6 950.5L1388.1 950.5L1388.6 950.5L1389.1 950.5L1389.6 950.5L1390.1 950.5L1390.6 950.5L1391.1 950.5L1391.6 950.5L1392.1 950.5L1392.6 950.5L1393.1 950.5L1393.6 950.5L1394.1 950.5L1394.6 950.5L1395.1 950.5L1395.6 950.5L1396.1 950.5L1396.6 950.5L1397.1 950.5L1397.6 950.5L1398.1 950.5L1398.6 950.5L1399.1 950.5L1399.6 950.5L1400.1 950.5L1400.6 950.5L1401.1 950.5L1401.6 950.5L1402.1 950.5L1402.6 950.5L1403.1 950.5L1403.6 950.5L1404.1 950.5L1404.6 950.5L1405.1 950.5L1405.6 950.5L1406.1 950.5L1406.6 950.5L1407.1 950.5L1407.6 950.5L1408.1 950.5L1408.6 950.5L1409.1 950.5L1409.6 950.5L1410.1 950.5L1410.6 950.5L1411.1 950.5L1411.6 950.5L1412.1 950.5L1412.6 950.5L1413.1 950.5L1413.6 950.5L1414.1 950.5L1414.6 950.5L1415.0 950.5L1415.5 950.5L1416.0 950.5L1416.5 950.5L1417.0 950.5L1417.5 950.5L1418.0 950.5L1418.5 950.5L1419.0 950.5L1419.5 950.5L1420.0 950.5L1420.5 950.5L1421.0 950.5L1421.5 950.5L1422.0 950.5L1422.5 950.5L1423.0 950.5L1423.5 950.5L1424.0 950.5L1424.5 950.5L1425.0 950.5L1425.5 950.5L1426.0 950.5L1426.5 950.5L1427.0 950.5L1427.5 950.5L1428.0 950.5L1428.5 950.5L1429.0 950.5L1429.5 950.5L1430.0 950.5L1430.5 950.5L1431.0 950.5L1431.5 950.5L1432.0 950.5L1432.5 950.5L1433.0 950.5L1433.5 950.5L1434.0 950.5L1434.5 950.5L1435.0 950.5L1435.5 950.5L1436.0 950.5L1436.5 950.5L1437.0 950.5L1437.5 950.5L1438.0 950.5L1438.5 950.5L1439.0 950.5L1439.5 950.5L1440.0 950.5L1440.5 950.5L1441.0 950.5L1441.5 950.5" stroke="#a82428"/>
<path d="M149.0 940.0L149.5 940.6L149.9 941.1L150.4 941.6L150.8 942.1L151.3 942.7L151.8 943.2L152.2 943.8L152.7 944.5L153.1 945.2L153.6 946.0L154.0 947.0L154.5 948.3L154.9 949.7L155.4 951.3L155.8 953.0L156.3 954.5L156.8 956.0L157.2 957.3L157.7 958.5L158.2 959.7L158.6 960.8L159.1 961.9L159.6 962.9L160.1 963.9L160.5 964.9L161.0 965.8L161.5 966.7L162.0 967.6L162.4 968.4L162.9 969.3L163.4 970.1L163.9 970.9L164.3 971.6L164.8 972.4L165.3 973.1L165.8 973.9L166.2 974.6L166.7 975.3L167.2 976.0L167.7 976.7L168.2 977.5L168.6 978.2L169.1 979.0L169.6 979.8L170.1 980.5L170.6 981.2L171.1 981.8L171.6 982.5L172.0 983.0L172.5 983.5L173.0 983.9L173.5 984.3L173.9 984.6L174.4 985.0L174.9 985.3L175.4 985.6L175.8 985.9L176.3 986.2L176.8 986.5L177.3 986.7L177.7 987.0L178.2 987.1L178.7 987.3L179.2 987.4L179.6 987.5L180.1 987.5L180.6 987.5L181.1 987.5L181.5 987.5L182.0 987.4L182.5 987.4L183.0 987.4L183.4 987.3L183.9 987.3L184.4 987.2L184.9 987.2L185.4 987.1L185.8 987.0L186.3 986.9L186.8 986.9L187.3 986.8L187.7 986.7L188.2 986.6L188.7 986.5L189.2 986.4L189.7 986.2L190.2 985.9L190.6 985.6L191.1 985.3L191.6 984.9L192.1 984.5L192.6 984.0L193.1 983.5L193.6 983.1L194.1 982.5L194.6 982.0L195.0 981.5L195.5 981.0L196.0 980.5L196.5 980.0L197.0 979.5L197.5 978.9L198.0 978.3L198.5 977.7L199.0 977.1L199.5 976.5L200.0 975.8L200.5 975.2L201.0 974.6L201.5 974.0L202.0 973.4L202.5 972.9L203.0 972.4L203.5 972.0L204.0 971.5L204.5 971.1L204.9 970.6L205.4 970.1L205.9 969.5L206.4 968.9L206.9 968.2L207.4 967.4L207.9 966.6L208.4 965.5L208.9 964.0L209.4 962.3L209.9 960.4L210.4 958.3L210.9 956.2L211.4 954.2L211.9 952.3L212.4 950.5L212.9 948.8L213.4 947.0L213.9 945.2L214.3 943.5L214.8 941.7L215.3 939.8L215.8 938.0L216.2 936.3L216.7 934.6L217.2 932.9L217.6 931.2L218.1 929.4L218.5 927.6L219.0 925.7L219.4 923.7L219.9 921.4L220.4 919.0L220.9 916.4L221.3 913.8L221.8 911.2L222.3 908.5L222.8 906.0L223.2 903.5L223.7 901.0L224.1 898.4L224.6 895.7L225.0 893.0L225.4 890.3L225.9 887.6L226.3 884.8L226.7 882.0L227.2 879.1L227.6 876.0L228.1 872.1L228.6 867.9L229.1 863.8L229.6 860.2L230.1 857.2L230.6 854.6L231.1 852.1L231.6 849.7L232.1 847.2L232.6 844.4L233.1 841.4L233.6 838.2L234.0 834.9L234.5 831.7L235.0 828.7L235.5 825.4L236.0 821.9L236.5 819.1L237.0 818.0L237.5 819.6L237.9 823.7L238.4 828.7L238.9 835.6L239.3 844.4L239.7 852.1L240.0 860.2L240.3 868.7L240.7 876.0L241.1 882.2L241.6 887.2L242.0 891.7L242.4 895.7L242.9 899.1L243.4 902.8L243.8 907.5L244.2 913.4L244.5 920.0L244.9 926.8L245.4 933.0L245.9 939.2L246.3 946.0L246.7 953.6L247.2 961.9L247.6 970.0L248.1 978.3L248.5 986.5L249.0 995.0L249.5 1005.1L250.0 1015.0L250.4 1022.3L250.8 1029.4L251.2 1035.6L251.6 1040.2L252.1 1044.3L252.6 1047.8L253.1 1050.7L253.6 1053.3L254.1 1055.7L254.6 1058.0L255.1 1060.3L255.6 1062.5L256.0 1064.6L256.5 1066.7L256.9 1068.7L257.4 1070.7L257.8 1072.6L258.3 1074.4L258.7 1076.0L259.2 1077.6L259.6 1079.1L260.1 1080.4L260.6 1081.7L261.1 1083.1L261.6 1084.3L262.1 1085.5L262.6 1086.7L263.1 1087.8L263.6 1088.9L264.1 1089.9L264.6 1090.9L265.1 1091.8L265.6 1092.7L266.1 1093.6L266.6 1094.4L267.1 1095.1L267.6 1095.8L268.1 1096.4L268.6 1097.0L269.1 1097.5L269.6 1098.1L270.0 1098.6L270.5 1099.1L271.0 1099.6L271.5 1100.1L272.0 1100.5L272.5 1101.0L272.9 1101.4L273.4 1101.8L273.9 1102.3L274.4 1102.6L274.9 1103.0L275.4 1103.4L275.8 1103.8L276.3 1104.1L276.8 1104.4L277.3 1104.8L277.8 1105.1L278.3 1105.4L278.7 1105.7L279.2 1106.0L279.7 1106.2L280.2 1106.5L280.7 1106.8L281.2 1107.0L281.7 1107.3L282.2 1107.5L282.7 1107.8L283.2 1108.0L283.7 1108.3L284.2 1108.5L284.7 1108.7L285.2 1108.9L285.7 1109.1L286.2 1109.3L286.7 1109.5L287.2 1109.7L287.7 1109.9L288.2 1110.1L288.7 1110.3L289.2 1110.5L289.7 1110.7L290.2 1110.8L290.7 1111.0L291.2 1111.2L291.7 1111.4L292.2 1111.5L292.7 1111.7L293.2 1111.9L293.7 1112.0L294.2 1112.2L294.7 1112.3L295.2 1112.5L295.7 1112.7L296.2 1112.8L296.7 1113.0L297.1 1113.1L297.6 1113.3L298.1 1113.5L298.6 1113.6L299.1 1113.8L299.6 1113.9L300.1 1114.1L300.6 1114.2L301.0 1114.4L301.5 1114.5L302.0 1114.7L302.5 1114.8L303.0 1115.0L303.5 1115.1L304.0 1115.2L304.5 1115.4L304.9 1115.5L305.4 1115.6L305.9 1115.7L306.4 1115.9L306.9 1116.0L307.4 1116.1L307.9 1116.1L308.4 1116.2L308.8 1116.3L309.3 1116.4L309.8 1116.4L310.3 1116.5L310.8 1116.6L311.3 1116.6L311.8 1116.6L312.3 1116.7L312.8 1116.7L313.3 1116.8L313.8 1116.8L314.3 1116.9L314.7 1116.9L315.2 1116.9L315.7 1117.0L316.2 1117.0L316.7 1117.1L317.2 1117.1L317.7 1117.1L318.2 1117.1L318.7 1117.2L319.2 1117.2L319.7 1117.2L320.2 1117.3L320.7 1117.3L321.2 1117.3L321.7 1117.4L322.2 1117.4L322.6 1117.4L323.1 1117.4L323.6 1117.5L324.1 1117.5L324.6 1117.5L325.1 1117.5L325.6 1117.5L326.1 1117.6L326.6 1117.6L327.1 1117.6L327.6 1117.6L328.1 1117.7L328.6 1117.7L329.1 1117.7L329.6 1117.7L330.1 1117.8L330.6 1117.8L331.0 1117.8L331.5 1117.8L332.0 1117.8L332.5 1117.9L333.0 1117.9L333.5 1117.9L334.0 1117.9L334.5 1118.0L335.0 1118.0L335.5 1118.0L336.0 1118.1L336.5 1118.1L337.0 1118.1L337.5 1118.1L338.0 1118.1L338.5 1118.2L339.0 1118.2L339.5 1118.2L340.0 1118.2L340.5 1118.2L341.0 1118.3L341.5 1118.3L342.0 1118.3L342.5 1118.3L343.0 1118.4L343.5 1118.4L344.0 1118.4L344.5 1118.5L345.0 1118.5L345.5 1118.6L346.0 1118.6L346.5 1118.7L346.9 1118.8L347.4 1118.9L347.9 1119.1L348.4 1119.2L348.9 1119.4L349.4 1119.5L349.8 1119.7L350.3 1119.9L350.8 1120.0L351.3 1120.2L351.8 1120.4L352.3 1120.5L352.7 1120.7L353.2 1120.8L353.7 1121.0L354.2 1121.1L354.7 1121.2L355.2 1121.3L355.6 1121.4L356.1 1121.5L356.6 1121.5L357.1 1121.5L357.6 1121.5L358.1 1121.5L358.6 1121.5L359.1 1121.4L359.6 1121.4L360.1 1121.4L360.6 1121.4L361.0 1121.3L361.5 1121.3L362.0 1121.2L362.5 1121.2L363.0 1121.1L363.5 1121.1L364.0 1121.0L364.5 1121.0L365.0 1120.9L365.5 1120.9L366.0 1120.8L366.5 1120.8L367.0 1120.7L367.5 1120.7L367.9 1120.6L368.4 1120.6L368.9 1120.6L369.4 1120.6L369.9 1120.5L370.4 1120.5L370.9 1120.5L371.4 1120.5L371.9 1120.5L372.4 1120.5L372.8 1120.6L373.3 1120.7L373.8 1120.7L374.3 1120.8L374.7 1120.9L375.2 1121.0L375.7 1121.2L376.2 1121.3L376.7 1121.4L377.1 1121.5L377.6 1121.6L378.1 1121.6L378.6 1121.7L379.0 1121.8L379.5 1121.8L380.0 1121.8L380.5 1121.8L381.0 1121.8L381.5 1121.8L382.0 1121.8L382.5 1121.8L383.0 1121.8L383.5 1121.8L384.0 1121.8L384.5 1121.8L385.0 1121.8L385.5 1121.8L385.9 1121.8L386.4 1121.8L386.9 1121.8L387.4 1121.8L387.9 1121.8L388.4 1121.8L388.9 1121.8L389.4 1121.8L389.9 1121.8L390.4 1121.8L390.9 1121.8L391.4 1121.7L391.9 1121.7L392.4 1121.7L392.9 1121.7L393.4 1121.7L393.9 1121.7L394.4 1121.7L394.9 1121.7L395.4 1121.7L395.9 1121.7L396.4 1121.7L396.9 1121.7L397.3 1121.7L397.8 1121.7L398.3 1121.6L398.8 1121.6L399.3 1121.6L399.8 1121.6L400.3 1121.6L400.8 1121.6L401.3 1121.6L401.8 1121.6L402.3 1121.6L402.8 1121.6L403.3 1121.5L403.8 1121.5L404.3 1121.5L404.8 1121.5L405.3 1121.5L405.8 1121.5L406.3 1121.5L406.8 1121.5L407.3 1121.4L407.8 1121.4L408.3 1121.4L408.7 1121.4L409.2 1121.4L409.7 1121.4L410.2 1121.3L410.7 1121.3L411.2 1121.3L411.7 1121.3L412.2 1121.3L412.7 1121.3L413.2 1121.2L413.7 1121.2L414.2 1121.2L414.7 1121.2L415.2 1121.1L415.6 1121.0L416.1 1120.9L416.6 1120.8L417.1 1120.7L417.5 1120.5L418.0 1120.4L418.5 1120.2L419.0 1120.0L419.5 1119.9L419.9 1119.7L420.4 1119.6L420.9 1119.4L421.4 1119.3L421.8 1119.2L422.3 1119.1L422.8 1119.0L423.3 1118.9L423.8 1118.9L424.3 1118.8L424.8 1118.8L425.3 1118.7L425.8 1118.7L426.3 1118.6L426.8 1118.6L427.3 1118.5L427.8 1118.5L428.3 1118.4L428.7 1118.4L429.2 1118.4L429.7 1118.3L430.2 1118.3L430.7 1118.3L431.2 1118.2L431.7 1118.2L432.2 1118.2L432.7 1118.1L433.2 1118.1L433.7 1118.1L434.2 1118.1L434.7 1118.0L435.2 1118.0L435.7 1118.0L436.2 1118.0L436.7 1117.9L437.2 1117.9L437.7 1117.9L438.2 1117.9L438.7 1117.9L439.2 1117.8L439.7 1117.8L440.1 1117.8L440.6 1117.8L441.1 1117.8L441.6 1117.7L442.1 1117.7L442.6 1117.7L443.1 1117.7L443.6 1117.6L444.1 1117.6L444.6 1117.6L445.1 1117.6L445.6 1117.5L446.1 1117.5L446.6 1117.5L447.1 1117.5L447.6 1117.4L448.1 1117.4L448.6 1117.4L449.1 1117.3L449.6 1117.3L450.1 1117.3L450.6 1117.2L451.1 1117.2L451.5 1117.1L452.0 1117.1L452.5 1117.0L453.0 1117.0L453.5 1116.9L454.0 1116.9L454.5 1116.8L455.0 1116.8L455.5 1116.7L456.0 1116.6L456.5 1116.6L457.0 1116.5L457.5 1116.4L458.0 1116.3L458.5 1116.2L459.0 1116.0L459.5 1115.8L460.0 1115.6L460.5 1115.3L461.0 1115.1L461.5 1114.8L462.0 1114.6L462.5 1114.3L463.0 1114.0L463.5 1113.7L464.0 1113.5L464.5 1113.2L465.0 1112.9L465.5 1112.7L466.0 1112.4L466.5 1112.2L467.0 1111.9L467.5 1111.7L468.0 1111.6L468.5 1111.4L469.0 1111.3L469.5 1111.1L470.0 1111.0L470.5 1110.8L471.0 1110.7L471.5 1110.5L471.9 1110.4L472.4 1110.2L472.9 1110.1L473.4 1109.9L473.9 1109.8L474.4 1109.7L474.9 1109.5L475.4 1109.4L475.9 1109.3L476.4 1109.2L476.9 1109.1L477.4 1109.0L477.9 1108.9L478.3 1108.8L478.8 1108.8L479.3 1108.7L479.8 1108.7L480.3 1108.6L480.8 1108.6L481.3 1108.6L481.8 1108.6L482.3 1108.7L482.8 1108.9L483.3 1109.1L483.8 1109.4L484.3 1109.7L484.8 1110.1L485.3 1110.5L485.8 1110.9L486.3 1111.3L486.8 1111.8L487.3 1112.3L487.8 1112.7L488.3 1113.2L488.8 1113.7L489.3 1114.1L489.8 1114.6L490.3 1115.0L490.8 1115.4L491.3 1115.7L491.8 1116.0L492.3 1116.4L492.8 1116.7L493.3 1117.1L493.8 1117.5L494.3 1117.9L494.8 1118.3L495.2 1118.7L495.7 1119.1L496.2 1119.4L496.7 1119.8L497.2 1120.2L497.7 1120.6L498.2 1121.0L498.7 1121.4L499.2 1121.7L499.7 1122.0L500.2 1122.4L500.7 1122.7L501.2 1123.0L501.7 1123.2L502.1 1123.5L502.6 1123.7L503.1 1123.9L503.6 1124.0L504.1 1124.1L504.6 1124.2L505.1 1124.3L505.6 1124.3L506.1 1124.3L506.6 1124.3L507.1 1124.3L507.6 1124.3L508.1 1124.3L508.6 1124.3L509.1 1124.3L509.6 1124.3L510.1 1124.3L510.6 1124.3L511.1 1124.3L511.6 1124.3L512.1 1124.3L512.6 1124.3L513.1 1124.3L513.6 1124.3L514.1 1124.3L514.6 1124.3L515.1 1124.3L515.6 1124.3L516.1 1124.3L516.6 1124.3L517.1 1124.3L517.6 1124.3L518.1 1124.3L518.6 1124.3L519.1 1124.3L519.6 1124.3L520.1 1124.3L520.6 1124.3L521.1 1124.3L521.6 1124.3L522.1 1124.3L522.6 1124.3L523.1 1124.3L523.6 1124.3L524.1 1124.3L524.6 1124.3L525.1 1124.3L525.6 1124.3L526.1 1124.3L526.6 1124.2L527.1 1124.2L527.6 1124.1L528.1 1123.9L528.6 1123.8L529.1 1123.7L529.6 1123.5L530.1 1123.3L530.6 1123.1L531.1 1122.9L531.5 1122.8L532.0 1122.6L532.5 1122.4L533.0 1122.2L533.5 1122.0L534.0 1121.9L534.5 1121.8L535.0 1121.6L535.5 1121.5L536.0 1121.5L536.5 1121.4L537.0 1121.4L537.5 1121.4L538.0 1121.4L538.5 1121.4L539.0 1121.4L539.4 1121.4L539.9 1121.4L540.4 1121.4L540.9 1121.4L541.4 1121.4L541.9 1121.4L542.4 1121.4L542.9 1121.4L543.4 1121.4L543.8 1121.4L544.3 1121.4L544.8 1121.4L545.3 1121.4L545.8 1121.4L546.3 1121.4L546.8 1121.4L547.3 1121.4L547.7 1121.4L548.2 1121.4L548.7 1121.4L549.2 1121.4L549.7 1121.4L550.2 1121.4L550.7 1121.4L551.2 1121.4L551.7 1121.4L552.1 1121.4L552.6 1121.4L553.1 1121.4L553.6 1121.4L554.1 1121.4L554.6 1121.4L555.1 1121.2L555.5 1121.0L556.0 1120.8L556.5 1120.5L557.0 1120.1L557.4 1119.8L557.9 1119.4L558.4 1119.0L558.9 1118.5L559.4 1118.1L559.8 1117.8L560.3 1117.4L560.8 1117.1L561.3 1116.9L561.7 1116.7L562.2 1116.5L562.7 1116.5L563.2 1116.5L563.7 1116.5L564.1 1116.5L564.6 1116.5L565.1 1116.5L565.6 1116.5L566.0 1116.5L566.5 1116.5L567.0 1116.5L567.5 1116.5L568.0 1116.5L568.4 1116.5L568.9 1116.5L569.4 1116.5L569.9 1116.5L570.3 1116.5L570.8 1116.5L571.3 1116.5L571.8 1116.5L572.3 1116.6L572.8 1116.8L573.3 1117.0L573.7 1117.2L574.2 1117.5L574.7 1117.8L575.2 1118.2L575.7 1118.6L576.2 1119.0L576.7 1119.4L577.2 1119.9L577.7 1120.4L578.2 1120.9L578.6 1121.4L579.1 1121.9L579.6 1122.4L580.1 1122.9L580.6 1123.4L581.1 1123.9L581.6 1124.3L582.1 1124.8L582.6 1125.2L583.1 1125.6L583.5 1126.0L584.0 1126.3L584.5 1126.6L585.0 1126.9L585.5 1127.1L586.0 1127.3L586.5 1127.5L587.0 1127.7L587.5 1127.8L588.0 1128.0L588.4 1128.2L588.9 1128.4L589.4 1128.5L589.9 1128.7L590.4 1128.9L590.9 1129.0L591.4 1129.2L591.9 1129.4L592.4 1129.5L592.9 1129.7L593.4 1129.8L593.9 1129.9L594.3 1130.1L594.8 1130.2L595.3 1130.3L595.8 1130.4L596.3 1130.6L596.8 1130.7L597.3 1130.8L597.8 1130.9L598.3 1130.9L598.8 1131.0L599.3 1131.1L599.8 1131.2L600.2 1131.2L600.7 1131.3L601.2 1131.3L601.7 1131.4L602.2 1131.4L602.7 1131.4L603.2 1131.4L603.7 1131.4L604.2 1131.4L604.7 1131.5L605.2 1131.5L605.7 1131.5L606.2 1131.5L606.7 1131.5L607.2 1131.5L607.7 1131.5L608.2 1131.6L608.7 1131.6L609.2 1131.6L609.7 1131.6L610.2 1131.6L610.7 1131.6L611.2 1131.6L611.7 1131.6L612.2 1131.7L612.7 1131.7L613.2 1131.7L613.7 1131.7L614.2 1131.7L614.7 1131.7L615.2 1131.7L615.7 1131.7L616.2 1131.8L616.7 1131.8L617.2 1131.8L617.7 1131.8L618.2 1131.8L618.7 1131.8L619.2 1131.8L619.7 1131.8L620.2 1131.9L620.7 1131.9L621.2 1131.9L621.7 1131.9L622.2 1131.9L622.7 1131.9L623.2 1131.9L623.7 1131.9L624.2 1131.9L624.7 1131.9L625.2 1132.0L625.7 1132.0L626.2 1132.0L626.7 1132.0L627.1 1132.0L627.6 1132.0L628.1 1132.0L628.6 1132.0L629.1 1132.0L629.6 1132.0L630.1 1132.1L630.6 1132.1L631.1 1132.1L631.6 1132.1L632.1 1132.1L632.6 1132.1L633.1 1132.1L633.6 1132.1L634.1 1132.1L634.6 1132.1L635.1 1132.1L635.6 1132.1L636.1 1132.2L636.6 1132.2L637.1 1132.2L637.6 1132.2L638.1 1132.2L638.6 1132.2L639.1 1132.2L639.6 1132.2L640.1 1132.2L640.6 1132.2L641.1 1132.2L641.6 1132.2L642.1 1132.2L642.6 1132.3L643.1 1132.3L643.6 1132.3L644.1 1132.3L644.6 1132.3L645.1 1132.3L645.6 1132.3L646.1 1132.3L646.6 1132.3L647.1 1132.3L647.6 1132.3L648.1 1132.3L648.6 1132.3L649.1 1132.3L649.6 1132.3L650.1 1132.3L650.6 1132.4L651.1 1132.4L651.6 1132.4L652.1 1132.4L652.6 1132.4L653.1 1132.4L653.6 1132.4L654.1 1132.4L654.6 1132.4L655.1 1132.4L655.6 1132.4L656.1 1132.4L656.6 1132.4L657.1 1132.4L657.6 1132.4L658.1 1132.4L658.6 1132.4L659.1 1132.4L659.6 1132.4L660.1 1132.4L660.6 1132.5L661.1 1132.5L661.6 1132.5L662.1 1132.5L662.6 1132.5L663.1 1132.5L663.6 1132.5L664.1 1132.5L664.6 1132.5L665.1 1132.5L665.6 1132.5L666.1 1132.5L666.6 1132.5L667.1 1132.5L667.6 1132.5L668.1 1132.5L668.6 1132.5L669.1 1132.5L669.6 1132.5L670.1 1132.5L670.6 1132.5L671.1 1132.5L671.6 1132.5L672.1 1132.5L672.6 1132.5L673.1 1132.5L673.6 1132.5L674.1 1132.5L674.6 1132.5L675.1 1132.5L675.6 1132.5L676.0 1132.6L676.5 1132.6L677.0 1132.6L677.5 1132.6L678.0 1132.6L678.5 1132.6L679.0 1132.6L679.5 1132.6L680.0 1132.6L680.5 1132.6L681.0 1132.6L681.5 1132.6L682.0 1132.6L682.5 1132.6L683.0 1132.6L683.5 1132.6L684.0 1132.6L684.5 1132.6L685.0 1132.6L685.5 1132.6L686.0 1132.6L686.5 1132.6L687.0 1132.6L687.5 1132.6L688.0 1132.6L688.5 1132.6L689.0 1132.6L689.5 1132.6L690.0 1132.6L690.5 1132.6L691.0 1132.6L691.5 1132.6L692.0 1132.6L692.5 1132.6L693.0 1132.6L693.5 1132.6L694.0 1132.6L694.5 1132.6L695.0 1132.6L695.5 1132.6L696.0 1132.6L696.5 1132.6L697.0 1132.6L697.5 1132.6L698.0 1132.6L698.5 1132.6L699.0 1132.6L699.5 1132.6L700.0 1132.6L700.5 1132.6L701.0 1132.6L701.5 1132.6L702.0 1132.6L702.5 1132.6L703.0 1132.6L703.5 1132.6L704.0 1132.6L704.5 1132.6L705.0 1132.6L705.5 1132.6L706.0 1132.6L706.5 1132.6L706.9 1132.6L707.4 1132.6L707.9 1132.6L708.4 1132.6L708.9 1132.6L709.4 1132.6L709.9 1132.6L710.4 1132.6L710.9 1132.6L711.4 1132.6L711.9 1132.6L712.4 1132.6L712.9 1132.6L713.4 1132.6L713.9 1132.6L714.4 1132.6L714.9 1132.6L715.4 1132.6L715.9 1132.6L716.4 1132.6L716.9 1132.6L717.4 1132.6L717.9 1132.6L718.4 1132.6L718.9 1132.6L719.4 1132.6L719.9 1132.6L720.4 1132.6L720.8 1132.6L721.3 1132.6L721.8 1132.6L722.3 1132.6L722.8 1132.6L723.3 1132.6L723.8 1132.6L724.3 1132.6L724.8 1132.6L725.3 1132.6L725.8 1132.6L726.3 1132.6L726.8 1132.6L727.3 1132.6L727.8 1132.6L728.3 1132.6L728.8 1132.6L729.3 1132.6L729.8 1132.6L730.3 1132.6L730.8 1132.6L731.3 1132.6L731.8 1132.6L732.3 1132.6L732.8 1132.6L733.3 1132.6L733.8 1132.6L734.2 1132.6L734.7 1132.6L735.2 1132.6L735.7 1132.6L736.2 1132.6L736.7 1132.6L737.2 1132.6L737.7 1132.6L738.2 1132.6L738.7 1132.6L739.2 1132.6L739.7 1132.6L740.2 1132.6L740.7 1132.6L741.2 1132.6L741.7 1132.6L742.2 1132.6L742.7 1132.6L743.2 1132.6L743.7 1132.6L744.2 1132.6L744.7 1132.6L745.2 1132.6L745.7 1132.6L746.2 1132.6L746.7 1132.6L747.2 1132.6L747.7 1132.6L748.1 1132.6L748.6 1132.6L749.1 1132.6L749.6 1132.6L750.1 1132.6L750.6 1132.6L751.1 1132.6L751.6 1132.6L752.1 1132.6L752.6 1132.6L753.1 1132.6L753.6 1132.6L754.1 1132.6L754.6 1132.6L755.1 1132.6L755.6 1132.7L756.0 1132.9L756.5 1133.1L757.0 1133.3L757.5 1133.6L758.0 1133.9L758.5 1134.2L758.9 1134.4L759.4 1134.7L759.9 1135.0L760.4 1135.2L760.9 1135.4L761.3 1135.6L761.8 1135.7L762.3 1135.7L762.8 1135.7L763.3 1135.7L763.8 1135.6L764.3 1135.6L764.8 1135.5L765.3 1135.4L765.8 1135.3L766.3 1135.2L766.8 1135.1L767.3 1134.9L767.8 1134.8L768.3 1134.7L768.8 1134.5L769.3 1134.4L769.8 1134.2L770.3 1134.1L770.8 1133.9L771.3 1133.8L771.8 1133.6L772.3 1133.5L772.8 1133.4L773.3 1133.2L773.8 1133.1L774.3 1133.0L774.8 1132.9L775.3 1132.8L775.8 1132.7L776.3 1132.7L776.8 1132.6L777.3 1132.6L777.8 1132.6L778.3 1132.6L778.8 1132.6L779.3 1132.7L779.8 1132.8L780.3 1132.8L780.8 1132.9L781.3 1133.0L781.8 1133.2L782.3 1133.3L782.8 1133.4L783.3 1133.6L783.8 1133.7L784.2 1133.8L784.7 1134.0L785.2 1134.1L785.7 1134.3L786.2 1134.4L786.7 1134.5L787.2 1134.7L787.7 1134.8L788.2 1134.9L788.7 1134.9L789.2 1135.0L789.7 1135.1L790.2 1135.1L790.7 1135.1L791.2 1135.1L791.7 1135.1L792.2 1135.1L792.7 1135.1L793.2 1135.1L793.7 1135.1L794.2 1135.1L794.7 1135.1L795.2 1135.1L795.7 1135.1L796.2 1135.1L796.7 1135.1L797.2 1135.1L797.7 1135.1L798.2 1135.1L798.7 1135.1L799.2 1135.1L799.7 1135.1L800.2 1135.1L800.7 1135.1L801.2 1135.1L801.7 1135.1L802.2 1135.1L802.7 1135.1L803.2 1135.1L803.7 1135.1L804.2 1135.1L804.7 1135.1L805.2 1135.1L805.7 1135.1L806.2 1135.1L806.7 1135.1L807.2 1135.1L807.7 1135.1L808.2 1135.1L808.7 1135.1L809.2 1135.1L809.7 1135.1L810.2 1135.1L810.7 1135.1L811.2 1135.1L811.7 1135.1L812.2 1135.1L812.7 1135.1L813.2 1135.1L813.7 1135.1L814.2 1135.1L814.7 1135.1L815.2 1135.1L815.7 1135.1L816.2 1135.1L816.7 1135.1L817.2 1135.1L817.7 1135.1L818.2 1135.1L818.7 1135.1L819.2 1135.1L819.7 1135.1L820.1 1135.1L820.6 1135.1L821.1 1135.1L821.6 1135.1L822.1 1135.1L822.6 1135.1L823.1 1135.1L823.6 1135.1L824.1 1135.1L824.6 1135.1L825.1 1135.1L825.6 1135.1L826.1 1135.1L826.6 1135.1L827.1 1135.1L827.6 1135.1L828.1 1135.1L828.6 1135.1L829.1 1135.1L829.6 1135.1L830.1 1135.1L830.6 1135.1L831.1 1135.1L831.6 1135.1L832.1 1135.1L832.6 1135.1L833.1 1135.1L833.6 1135.1L834.1 1135.1L834.6 1135.1L835.1 1135.1L835.6 1135.1L836.1 1135.1L836.6 1135.1L837.1 1135.1L837.6 1135.1L838.1 1135.1L838.6 1135.1L839.1 1135.1L839.6 1135.1L840.1 1135.1L840.6 1135.1L841.1 1135.1L841.6 1135.1L842.1 1135.1L842.6 1135.1L843.1 1135.1L843.6 1135.1L844.1 1135.1L844.6 1135.1L845.1 1135.1L845.6 1135.1L846.1 1135.1L846.6 1135.1L847.1 1135.1L847.6 1135.1L848.1 1135.1L848.6 1135.1L849.1 1135.1L849.6 1135.1L850.1 1135.1L850.6 1135.1L851.1 1135.1L851.6 1135.1L852.1 1135.1L852.6 1135.1L853.1 1135.1L853.6 1135.1L854.1 1135.1L854.6 1135.1L855.1 1135.1L855.6 1135.1L856.1 1135.1L856.6 1135.1L857.1 1135.1L857.6 1135.1L858.1 1135.1L858.6 1135.1L859.1 1135.1L859.6 1135.1L860.1 1135.1L860.6 1135.1L861.1 1135.1L861.6 1135.1L862.1 1135.1L862.6 1135.1L863.1 1135.1L863.6 1135.1L864.1 1135.1L864.6 1135.1L865.1 1135.1L865.6 1135.1L866.1 1135.1L866.6 1135.1L867.1 1135.1L867.6 1135.1L868.1 1135.1L868.6 1135.1L869.1 1135.1L869.6 1135.1L870.1 1135.1L870.6 1135.1L871.1 1135.1L871.6 1135.1L872.1 1135.1L872.6 1135.1L873.1 1135.1L873.6 1135.1L874.1 1135.1L874.6 1135.1L875.1 1135.1L875.6 1135.1L876.1 1135.1L876.6 1135.1L877.1 1135.1L877.6 1135.1L878.0 1135.1L878.5 1135.1L879.0 1135.1L879.5 1135.1L880.0 1135.1L880.5 1135.1L881.0 1135.1L881.5 1135.1L882.0 1135.1L882.5 1135.1L883.0 1135.1L883.5 1135.1L884.0 1135.1L884.5 1135.1L885.0 1135.1L885.5 1135.1L886.0 1135.1L886.5 1135.1L887.0 1135.1L887.5 1135.1L888.0 1135.1L888.5 1135.1L889.0 1135.1L889.5 1135.1L890.0 1135.1L890.5 1135.1L891.0 1135.1L891.5 1135.1L892.0 1135.1L892.5 1135.1L893.0 1135.1L893.5 1135.1L894.0 1135.1L894.5 1135.1L895.0 1135.1L895.5 1135.1L896.0 1135.1L896.5 1135.1L897.0 1135.1L897.5 1135.1L898.0 1135.1L898.5 1135.1L899.0 1135.1L899.5 1135.1L900.0 1135.1L900.5 1135.1L901.0 1135.1L901.5 1135.1L902.0 1135.1L902.5 1135.1L903.0 1135.1L903.5 1135.1L904.0 1135.1L904.5 1135.1L905.0 1135.1L905.5 1135.1L906.0 1135.1L906.5 1135.1L907.0 1135.1L907.5 1135.1L908.0 1135.2L908.4 1135.3L908.9 1135.5L909.4 1135.7L909.9 1135.9L910.4 1136.2L910.9 1136.4L911.3 1136.6L911.8 1136.9L912.3 1137.1L912.8 1137.3L913.3 1137.5L913.7 1137.6L914.2 1137.7L914.7 1137.7L915.2 1137.7L915.7 1137.7L916.2 1137.6L916.7 1137.5L917.2 1137.5L917.7 1137.4L918.2 1137.3L918.6 1137.2L919.1 1137.0L919.6 1136.9L920.1 1136.7L920.6 1136.6L921.1 1136.4L921.6 1136.3L922.1 1136.1L922.6 1136.0L923.1 1135.8L923.6 1135.7L924.1 1135.5L924.6 1135.4L925.1 1135.2L925.6 1135.1L926.1 1134.9L926.5 1134.8L927.0 1134.7L927.5 1134.6L928.0 1134.6L928.5 1134.5L929.0 1134.4L929.5 1134.4L930.0 1134.4L930.5 1134.4L931.0 1134.5L931.5 1134.5L932.0 1134.6L932.5 1134.7L933.0 1134.8L933.5 1135.0L934.0 1135.1L934.5 1135.3L935.0 1135.5L935.5 1135.7L936.0 1135.9L936.5 1136.1L937.0 1136.2L937.5 1136.4L938.0 1136.6L938.5 1136.8L939.0 1137.0L939.5 1137.1L940.0 1137.3L940.5 1137.4L941.0 1137.5L941.5 1137.6L942.0 1137.6L942.5 1137.7L943.0 1137.7L943.5 1137.7L944.0 1137.7L944.5 1137.7L945.0 1137.7L945.5 1137.7L946.0 1137.7L946.5 1137.7L947.0 1137.7L947.5 1137.7L948.0 1137.7L948.5 1137.7L949.0 1137.7L949.5 1137.7L950.0 1137.7L950.5 1137.7L951.0 1137.7L951.5 1137.7L952.0 1137.7L952.5 1137.7L953.0 1137.7L953.5 1137.7L954.0 1137.7L954.5 1137.7L955.0 1137.7L955.5 1137.7L956.0 1137.7L956.5 1137.7L957.0 1137.7L957.5 1137.7L958.0 1137.7L958.5 1137.7L959.0 1137.7L959.5 1137.7L960.0 1137.7L960.5 1137.7L961.0 1137.7L961.5 1137.7L962.0 1137.7L962.5 1137.7L963.0 1137.7L963.5 1137.7L964.0 1137.7L964.5 1137.7L965.0 1137.7L965.5 1137.7L966.0 1137.7L966.5 1137.7L967.0 1137.7L967.5 1137.7L968.0 1137.7L968.5 1137.7L969.0 1137.7L969.5 1137.7L970.0 1137.7L970.5 1137.7L971.0 1137.7L971.5 1137.7L972.0 1137.7L972.5 1137.7L973.0 1137.7L973.5 1137.7L974.0 1137.7L974.5 1137.7L975.0 1137.7L975.5 1137.7L976.0 1137.7L976.5 1137.7L977.0 1137.7L977.5 1137.7L978.0 1137.7L978.5 1137.7L979.0 1137.7L979.5 1137.7L980.0 1137.7L980.5 1137.7L981.0 1137.7L981.5 1137.7L982.0 1137.7L982.5 1137.7L983.0 1137.7L983.5 1137.7L984.0 1137.7L984.5 1137.7L985.0 1137.7L985.5 1137.7L986.0 1137.7L986.5 1137.7L987.0 1137.7L987.5 1137.7L988.0 1137.7L988.5 1137.7L989.0 1137.7L989.5 1137.7L990.0 1137.7L990.5 1137.7L991.0 1137.7L991.5 1137.7L992.0 1137.7L992.5 1137.7L993.0 1137.7L993.5 1137.7L994.0 1137.7L994.5 1137.7L995.0 1137.7L995.5 1137.7L996.0 1137.7L996.5 1137.7L997.0 1137.7L997.5 1137.7L998.0 1137.7L998.5 1137.7L999.0 1137.7L999.5 1137.7L1000.0 1137.7L1000.5 1137.7L1001.0 1137.7L1001.5 1137.7L1002.0 1137.7L1002.5 1137.7L1003.0 1137.7L1003.5 1137.7L1004.0 1137.7L1004.5 1137.7L1005.0 1137.7L1005.5 1137.7L1006.0 1137.7L1006.5 1137.7L1007.0 1137.7L1007.5 1137.7L1008.0 1137.7L1008.5 1137.7L1009.0 1137.7L1009.5 1137.7L1010.0 1137.7L1010.5 1137.7L1011.0 1137.7L1011.5 1137.7L1012.0 1137.7L1012.5 1137.7L1013.0 1137.7L1013.5 1137.7L1014.0 1137.7L1014.5 1137.7L1015.0 1137.7L1015.5 1137.7L1016.0 1137.7L1016.5 1137.7L1017.0 1137.7L1017.5 1137.7L1018.0 1137.7L1018.5 1137.7L1019.0 1137.7L1019.5 1137.7L1020.0 1137.7L1020.5 1137.7L1021.0 1137.7L1021.5 1137.7L1022.0 1137.7L1022.5 1137.7L1023.0 1137.7L1023.5 1137.7L1024.0 1137.7L1024.5 1137.7L1025.0 1137.7L1025.5 1137.7L1026.0 1137.7L1026.5 1137.7L1027.0 1137.7L1027.5 1137.7L1028.0 1137.7L1028.5 1137.7L1029.0 1137.7L1029.5 1137.7L1030.0 1137.7L1030.5 1137.7L1031.0 1137.7L1031.5 1137.7L1032.0 1137.7L1032.5 1137.7L1033.0 1137.7L1033.5 1137.7L1034.0 1137.7L1034.5 1137.7L1035.0 1137.7L1035.5 1137.7L1036.0 1137.7L1036.5 1137.7L1037.0 1137.7L1037.5 1137.7L1038.0 1137.7L1038.5 1137.7L1039.0 1137.7L1039.5 1137.7L1040.0 1137.7L1040.5 1137.7L1041.0 1137.7L1041.5 1137.7L1042.0 1137.7L1042.5 1137.7L1043.0 1137.7L1043.5 1137.7L1044.0 1137.7L1044.5 1137.7L1045.0 1137.7L1045.5 1137.7L1046.0 1137.7L1046.5 1137.7L1047.0 1137.7L1047.5 1137.7L1048.0 1137.7L1048.5 1137.7L1049.0 1137.7L1049.5 1137.7L1050.0 1137.7L1050.5 1137.7L1051.0 1137.7L1051.5 1137.7L1052.0 1137.7L1052.5 1137.7L1053.0 1137.7L1053.5 1137.7L1054.0 1137.7L1054.5 1137.7L1055.0 1137.7L1055.5 1137.7L1056.0 1137.7L1056.5 1137.7L1057.0 1137.7L1057.5 1137.7L1058.0 1137.7L1058.5 1137.7L1059.0 1137.7L1059.5 1137.7L1060.0 1137.7L1060.5 1137.7L1061.0 1137.7L1061.5 1137.7L1062.0 1137.7L1062.5 1137.7L1063.0 1137.7L1063.5 1137.7L1064.0 1137.7L1064.5 1137.7L1065.0 1137.7L1065.5 1137.7L1066.0 1137.7L1066.5 1137.7L1067.0 1137.7L1067.5 1137.7L1068.0 1137.7L1068.5 1137.7L1069.0 1137.7L1069.5 1137.7L1070.0 1137.7L1070.5 1137.7L1071.0 1137.7L1071.5 1137.7L1072.0 1137.7L1072.5 1137.7L1073.0 1137.7L1073.5 1137.7L1074.0 1137.7L1074.5 1137.7L1075.0 1137.7L1075.5 1137.7L1076.0 1137.7L1076.5 1137.7L1077.0 1137.7L1077.5 1137.7L1078.0 1137.7L1078.5 1137.7L1079.0 1137.7L1079.5 1137.7L1080.0 1137.7L1080.5 1137.7L1081.0 1137.7L1081.5 1137.7L1082.0 1137.7L1082.5 1137.7L1083.0 1137.7L1083.5 1137.7L1084.0 1137.7L1084.5 1137.7L1085.0 1137.7L1085.5 1137.7L1086.0 1137.7L1086.5 1137.7L1087.0 1137.7L1087.5 1137.7L1088.0 1137.7L1088.5 1137.7L1089.0 1137.7L1089.5 1137.7L1090.0 1137.7L1090.5 1137.7L1091.0 1137.7L1091.5 1137.7L1092.0 1137.7L1092.5 1137.7L1093.0 1137.7L1093.5 1137.7L1094.0 1137.7L1094.5 1137.7L1095.0 1137.7L1095.5 1137.7L1096.0 1137.7L1096.5 1137.7L1097.0 1137.7L1097.5 1137.7L1098.0 1137.7L1098.5 1137.7L1099.0 1137.7L1099.5 1137.7L1100.0 1137.7L1100.5 1137.7L1101.0 1137.7L1101.5 1137.7L1102.0 1137.7L1102.5 1137.7L1103.0 1137.7L1103.5 1137.7L1104.0 1137.7L1104.5 1137.7L1105.0 1137.7L1105.5 1137.7L1106.0 1137.7L1106.5 1137.7L1107.0 1137.7L1107.5 1137.7L1108.0 1137.7L1108.5 1137.7L1109.0 1137.7L1109.5 1137.7L1110.0 1137.7L1110.5 1137.7L1111.0 1137.7L1111.5 1137.7L1112.0 1137.7L1112.5 1137.7L1113.0 1137.7L1113.5 1137.7L1114.0 1137.7L1114.5 1137.7L1115.0 1137.7L1115.5 1137.7L1116.0 1137.7L1116.5 1137.7L1117.0 1137.7L1117.5 1137.7L1118.0 1137.7L1118.5 1137.7L1119.0 1137.7L1119.5 1137.7L1120.0 1137.7L1120.5 1137.7L1121.0 1137.7L1121.5 1137.7L1122.0 1137.7L1122.5 1137.7L1123.0 1137.7L1123.5 1137.7L1124.0 1137.7L1124.5 1137.7L1125.0 1137.7L1125.5 1137.7L1126.0 1137.7L1126.5 1137.7L1127.0 1137.7L1127.5 1137.7L1128.0 1137.7L1128.5 1137.7L1129.0 1137.7L1129.5 1137.7L1130.0 1137.7L1130.5 1137.7L1131.0 1137.7L1131.5 1137.7L1132.0 1137.7L1132.5 1137.7L1133.0 1137.7L1133.5 1137.7L1134.0 1137.7L1134.5 1137.7L1135.0 1137.7L1135.5 1137.7L1136.0 1137.7L1136.5 1137.7L1137.0 1137.7L1137.5 1137.7L1138.0 1137.7L1138.5 1137.7L1139.0 1137.7L1139.5 1137.7L1140.0 1137.7L1140.5 1137.7L1141.0 1137.7L1141.5 1137.7L1142.0 1137.7L1142.5 1137.7L1143.0 1137.7L1143.5 1137.7L1144.0 1137.7L1144.5 1137.7L1145.0 1137.7L1145.5 1137.7L1146.0 1137.7L1146.5 1137.7L1147.0 1137.7L1147.5 1137.7L1148.0 1137.7L1148.5 1137.7L1149.0 1137.7L1149.5 1137.7L1150.0 1137.7L1150.5 1137.7L1151.0 1137.7L1151.5 1137.7L1152.0 1137.7L1152.5 1137.7L1153.0 1137.7L1153.5 1137.7L1154.0 1137.7L1154.5 1137.7L1155.0 1137.7L1155.5 1137.7L1156.0 1137.7L1156.5 1137.7L1157.0 1137.7L1157.5 1137.7L1158.0 1137.7L1158.5 1137.7L1159.0 1137.7L1159.5 1137.7L1160.0 1137.7L1160.5 1137.7L1161.0 1137.7L1161.5 1137.7L1162.0 1137.7L1162.5 1137.7L1163.0 1137.7L1163.5 1137.7L1164.0 1137.7L1164.5 1137.7L1165.0 1137.7L1165.5 1137.7L1166.0 1137.7L1166.5 1137.7L1167.0 1137.7L1167.5 1137.7L1168.0 1137.7L1168.5 1137.7L1169.0 1137.7L1169.5 1137.7L1170.0 1137.7L1170.5 1137.7L1171.0 1137.7L1171.5 1137.7L1172.0 1137.7L1172.5 1137.7L1173.0 1137.7L1173.5 1137.7L1174.0 1137.7L1174.5 1137.7L1175.0 1137.7L1175.5 1137.7L1176.0 1137.7L1176.5 1137.7L1177.0 1137.7L1177.5 1137.7L1178.0 1137.7L1178.5 1137.7L1179.0 1137.7L1179.5 1137.7L1180.0 1137.7L1180.5 1137.7L1181.0 1137.7L1181.5 1137.7L1182.0 1137.7L1182.5 1137.7L1183.0 1137.7L1183.5 1137.7L1184.0 1137.7L1184.5 1137.7L1185.0 1137.7L1185.5 1137.7L1186.0 1137.7L1186.5 1137.7L1187.0 1137.7L1187.5 1137.7L1188.0 1137.7L1188.5 1137.7L1189.0 1137.7L1189.5 1137.7L1190.0 1137.7L1190.5 1137.7L1191.0 1137.7L1191.5 1137.7L1192.0 1137.7L1192.5 1137.7L1193.0 1137.7L1193.5 1137.7L1194.0 1137.7L1194.5 1137.7L1195.0 1137.7L1195.5 1137.7L1196.0 1137.7L1196.5 1137.7L1197.0 1137.7L1197.5 1137.7L1198.0 1137.7L1198.5 1137.7L1199.0 1137.7L1199.5 1137.7L1200.0 1137.7L1200.5 1137.7L1201.0 1137.7L1201.5 1137.7L1202.0 1137.7L1202.5 1137.7L1203.0 1137.7L1203.5 1137.7L1204.0 1137.7L1204.5 1137.7L1205.0 1137.7L1205.5 1137.7L1206.0 1137.7L1206.5 1137.7L1207.0 1137.7L1207.5 1137.7L1208.0 1137.7L1208.5 1137.7L1209.0 1137.7L1209.5 1137.7L1210.0 1137.7L1210.5 1137.7L1211.0 1137.7L1211.5 1137.7L1212.0 1137.7L1212.5 1137.7L1213.0 1137.7L1213.5 1137.7L1214.0 1137.7L1214.5 1137.7L1215.0 1137.7L1215.5 1137.7L1216.0 1137.7L1216.5 1137.7L1217.0 1137.7L1217.5 1137.7L1218.0 1137.7L1218.5 1137.7L1219.0 1137.7L1219.5 1137.7L1220.0 1137.7L1220.5 1137.7L1221.0 1137.7L1221.5 1137.7L1222.0 1137.7L1222.5 1137.7L1223.0 1137.7L1223.5 1137.7L1224.0 1137.7L1224.5 1137.7L1225.0 1137.7L1225.5 1137.7L1226.0 1137.7L1226.5 1137.8L1227.0 1137.9L1227.5 1138.0L1228.0 1138.1L1228.5 1138.2L1229.0 1138.3L1229.5 1138.4L1230.0 1138.6L1230.5 1138.7L1231.0 1138.9L1231.5 1139.0L1232.0 1139.1L1232.5 1139.3L1233.0 1139.4L1233.5 1139.6L1234.0 1139.7L1234.5 1139.8L1235.0 1139.9L1235.5 1140.0L1236.0 1140.1L1236.5 1140.2L1237.0 1140.3L1237.5 1140.3L1238.0 1140.3L1238.5 1140.3L1239.0 1140.3L1239.5 1140.2L1240.0 1140.2L1240.5 1140.1L1241.0 1140.1L1241.5 1140.0L1242.0 1139.9L1242.5 1139.8L1243.0 1139.7L1243.5 1139.6L1244.0 1139.5L1244.5 1139.4L1245.0 1139.3L1245.5 1139.2L1246.0 1139.1L1246.5 1139.0L1247.0 1138.9L1247.5 1138.8L1248.0 1138.7L1248.5 1138.7L1249.0 1138.6L1249.5 1138.6L1250.0 1138.5L1250.5 1138.5L1251.0 1138.5L1251.5 1138.5L1252.0 1138.5L1252.5 1138.5L1253.0 1138.5L1253.5 1138.5L1254.0 1138.5L1254.5 1138.5L1255.0 1138.5L1255.5 1138.5L1256.0 1138.5L1256.5 1138.5L1257.0 1138.5L1257.5 1138.5L1258.0 1138.5L1258.5 1138.5L1259.0 1138.5L1259.5 1138.5L1260.0 1138.5L1260.5 1138.5L1261.0 1138.5L1261.5 1138.5L1262.0 1138.5L1262.5 1138.5L1263.0 1138.5L1263.5 1138.5L1264.0 1138.5L1264.5 1138.5L1265.0 1138.5L1265.5 1138.5L1266.0 1138.5L1266.5 1138.5L1267.0 1138.5L1267.5 1138.5L1268.0 1138.5L1268.5 1138.5L1269.0 1138.5L1269.5 1138.5L1270.0 1138.5L1270.5 1138.5L1271.0 1138.5L1271.5 1138.5L1272.0 1138.5L1272.5 1138.5L1273.0 1138.5L1273.5 1138.5L1274.0 1138.5L1274.5 1138.5L1275.0 1138.5L1275.5 1138.5L1276.0 1138.5L1276.5 1138.5L1277.0 1138.5L1277.5 1138.5L1278.0 1138.5L1278.5 1138.5L1279.0 1138.5L1279.5 1138.5L1280.0 1138.5L1280.5 1138.5L1281.0 1138.5L1281.5 1138.5L1282.0 1138.5L1282.5 1138.5L1283.0 1138.5L1283.5 1138.5L1284.0 1138.5L1284.5 1138.5L1285.0 1138.5L1285.5 1138.5L1286.0 1138.5L1286.5 1138.5L1287.0 1138.5L1287.5 1138.5L1288.0 1138.5L1288.5 1138.5L1289.0 1138.5L1289.5 1138.5L1290.0 1138.5L1290.5 1138.5L1291.0 1138.5L1291.5 1138.5L1292.0 1138.5L1292.5 1138.5L1293.0 1138.5L1293.5 1138.5L1294.0 1138.5L1294.5 1138.5L1295.0 1138.5L1295.5 1138.5L1296.0 1138.5L1296.5 1138.5L1297.0 1138.5L1297.5 1138.5L1298.0 1138.5L1298.5 1138.5L1299.0 1138.5L1299.5 1138.5L1300.0 1138.5L1300.5 1138.5L1301.0 1138.5L1301.5 1138.5L1302.0 1138.5L1302.5 1138.5L1303.0 1138.5L1303.5 1138.5L1304.0 1138.6L1304.5 1138.7L1305.0 1138.8L1305.5 1138.9L1306.0 1139.0L1306.5 1139.0L1307.0 1139.1L1307.5 1139.2L1308.0 1139.3L1308.5 1139.4L1309.0 1139.5L1309.5 1139.5L1310.0 1139.5L1310.5 1139.5L1311.0 1139.5L1311.5 1139.5L1312.0 1139.5L1312.5 1139.5L1313.0 1139.5L1313.5 1139.5L1314.0 1139.5L1314.5 1139.5L1315.0 1139.5L1315.5 1139.5L1316.0 1139.5L1316.5 1139.5L1317.0 1139.5L1317.5 1139.5L1318.0 1139.5L1318.5 1139.5L1319.0 1139.5L1319.5 1139.5L1320.0 1139.5L1320.5 1139.5L1321.0 1139.5L1321.5 1139.5L1322.0 1139.5L1322.5 1139.5L1323.0 1139.5L1323.5 1139.5L1324.0 1139.5L1324.5 1139.5L1325.0 1139.5L1325.5 1139.5L1326.0 1139.5L1326.5 1139.5L1327.0 1139.5L1327.5 1139.5L1328.0 1139.5L1328.5 1139.5L1329.0 1139.5L1329.5 1139.5L1330.0 1139.5L1330.5 1139.5L1331.0 1139.5L1331.5 1139.5L1332.0 1139.5L1332.5 1139.5L1333.0 1139.5L1333.5 1139.5L1334.0 1139.5L1334.5 1139.5L1335.0 1139.5L1335.5 1139.5L1336.0 1139.5L1336.5 1139.5L1337.0 1139.5L1337.5 1139.5L1338.0 1139.5L1338.5 1139.5L1339.0 1139.5L1339.5 1139.5L1340.0 1139.5L1340.5 1139.5L1341.0 1139.5L1341.5 1139.5L1342.0 1139.5L1342.5 1139.5L1343.0 1139.5L1343.5 1139.5L1344.0 1139.5L1344.5 1139.5L1345.0 1139.5L1345.5 1139.5L1346.0 1139.5L1346.5 1139.5L1347.0 1139.5L1347.5 1139.5L1348.0 1139.5L1348.5 1139.5L1349.0 1139.5L1349.5 1139.5L1350.0 1139.5L1350.5 1139.5L1351.0 1139.5L1351.5 1139.5L1352.0 1139.5L1352.5 1139.5L1353.0 1139.5L1353.5 1139.5L1354.0 1139.5L1354.5 1139.5L1355.0 1139.5L1355.5 1139.5L1356.0 1139.5L1356.5 1139.5L1357.0 1139.5L1357.5 1139.5L1358.0 1139.5L1358.5 1139.5L1359.0 1139.5L1359.5 1139.5L1360.0 1139.5L1360.5 1139.5L1361.0 1139.5L1361.5 1139.5L1362.0 1139.5L1362.5 1139.5L1363.0 1139.5L1363.5 1139.5L1364.0 1139.5L1364.5 1139.5L1365.0 1139.5L1365.5 1139.5L1366.0 1139.5L1366.5 1139.5L1367.0 1139.5L1367.5 1139.5L1368.0 1139.5L1368.5 1139.5L1369.0 1139.5L1369.5 1139.5L1370.0 1139.5L1370.5 1139.5L1371.0 1139.5L1371.5 1139.5L1372.0 1139.5L1372.5 1139.5L1373.0 1139.5L1373.5 1139.5L1374.0 1139.5L1374.5 1139.5L1375.0 1139.5L1375.5 1139.5L1376.0 1139.5L1376.5 1139.5L1377.0 1139.5L1377.5 1139.5L1378.0 1139.5L1378.5 1139.5L1379.0 1139.5L1379.5 1139.5L1380.0 1139.5L1380.5 1139.5L1381.0 1139.5L1381.5 1139.5L1382.0 1139.5L1382.5 1139.5L1383.0 1139.5L1383.5 1139.5L1384.0 1139.5L1384.5 1139.5L1385.0 1139.5L1385.5 1139.5L1386.0 1139.5L1386.5 1139.5L1387.0 1139.5L1387.5 1139.5L1388.0 1139.5L1388.5 1139.5L1389.0 1139.5L1389.5 1139.5L1390.0 1139.5L1390.5 1139.5L1391.0 1139.5L1391.5 1139.5L1392.0 1139.5L1392.5 1139.5L1393.0 1139.5L1393.5 1139.5L1394.0 1139.5L1394.5 1139.5L1395.0 1139.5L1395.5 1139.5L1396.0 1139.5L1396.5 1139.5L1397.0 1139.5L1397.5 1139.5L1398.0 1139.5L1398.5 1139.5L1399.0 1139.5L1399.5 1139.5L1400.0 1139.5L1400.5 1139.5L1401.0 1139.5L1401.5 1139.5L1402.0 1139.5L1402.5 1139.5L1403.0 1139.5L1403.5 1139.5L1404.0 1139.5L1404.5 1139.5L1405.0 1139.5L1405.5 1139.5L1406.0 1139.5L1406.5 1139.5L1407.0 1139.5L1407.5 1139.5L1408.0 1139.5L1408.5 1139.5L1409.0 1139.5L1409.5 1139.5L1410.0 1139.5L1410.5 1139.5L1411.0 1139.5L1411.5 1139.5L1412.0 1139.5L1412.5 1139.5L1413.0 1139.5L1413.5 1139.5L1414.0 1139.5L1414.5 1139.5L1415.0 1139.5L1415.5 1139.5L1416.0 1139.5L1416.5 1139.5L1417.0 1139.5L1417.5 1139.5L1418.0 1139.5L1418.5 1139.5L1419.0 1139.5L1419.5 1139.5L1420.0 1139.5L1420.5 1139.5L1421.0 1139.5L1421.5 1139.5L1422.0 1139.5L1422.5 1139.5L1423.0 1139.5L1423.5 1139.5L1424.0 1139.5L1424.5 1139.5L1425.0 1139.5L1425.5 1139.5L1426.0 1139.5L1426.5 1139.5L1427.0 1139.5L1427.5 1139.5L1428.0 1139.5L1428.5 1139.5L1429.0 1139.5L1429.5 1139.5L1430.0 1139.5L1430.5 1139.5L1431.0 1139.5L1431.5 1139.5L1432.0 1139.5L1432.5 1139.5L1433.0 1139.5L1433.5 1139.5L1434.0 1139.5L1434.5 1139.5L1435.0 1139.5L1435.5 1139.5L1436.0 1139.5L1436.5 1139.5L1437.0 1139.5L1437.5 1139.5L1438.0 1139.5L1438.5 1139.5L1439.0 1139.5L1439.5 1139.5L1440.0 1139.5L1440.5 1139.5L1441.0 1139.5L1441.5 1139.5" stroke="#000" stroke-width="8.5"/>
</g>
<line x1="235.4" y1="90" x2="236.9" y2="1005" stroke="#000" stroke-width="7" stroke-dasharray="22.5 34.5" stroke-linecap="round"/>
<g stroke="#555" stroke-width="3" stroke-linecap="round">
<line x1="143" y1="231" x2="145" y2="238"/>
<line x1="143" y1="416" x2="145" y2="423"/>
<line x1="143" y1="607" x2="145" y2="614"/>
<line x1="142" y1="751" x2="145" y2="761"/>
<line x1="143" y1="918" x2="145" y2="925"/>
</g>
<rect x="149" y="23.8" width="1279" height="1167.2" fill="none" stroke="#000" stroke-width="7.6" stroke-linejoin="round"/>
<g stroke="#000" stroke-width="7.5" stroke-linecap="round">
<line x1="282.7" y1="1191" x2="282.7" y2="1219.5"/>
<line x1="665.5" y1="1191" x2="665.5" y2="1219.5"/>
<line x1="1047.2" y1="1191" x2="1047.2" y2="1219.5"/>
<line x1="1428" y1="1191" x2="1428" y2="1219.5"/>
<line x1="475" y1="1191" x2="475" y2="1205.5"/>
<line x1="857" y1="1191" x2="857" y2="1205.5"/>
<line x1="1238.3" y1="1191" x2="1238.3" y2="1205.5"/>
</g>
<text transform="matrix(0.9800 0 0 1.0279 263.60 1291.00)" font-size="66" font-weight="bold">1</text>
<text transform="matrix(1.0185 0 0 1.0395 646.64 1291.00)" font-size="66" font-weight="bold">2</text>
<text transform="matrix(1.0464 0 0 1.0372 1027.06 1291.00)" font-size="66" font-weight="bold">3</text>
<text transform="matrix(0.9258 0 0 1.0233 1413.57 1290.50)" font-size="66" font-weight="bold">4</text>
<text transform="matrix(1.0057 0 0 1.0060 740.18 1351.69)" font-size="94" font-weight="bold">2θ</text>
<text transform="matrix(1.1417 0 0 0.9786 869.23 1348.93)" font-size="94" font-weight="normal" stroke="#000" stroke-width="1.6">(</text>
<text transform="matrix(1.1321 0 0 1.0929 897.64 1354.06)" font-size="94" font-weight="bold" stroke="#000" stroke-width="1.8">°</text>
<text transform="matrix(1.1875 0 0 0.9905 975.64 1348.69)" font-size="94" font-weight="normal" stroke="#000" stroke-width="1.6">)</text>
<text transform="matrix(1.0317 0 0 0.9691 183.30 82.70)" font-size="61" font-weight="bold">(100)</text>
<text transform="matrix(1.0691 0 0 1.0037 401.29 292.66)" font-size="61" font-weight="bold">(110)</text>
<text transform="matrix(1.0079 0 0 0.9764 543.98 302.51)" font-size="61" font-weight="bold">(200)</text>
<text transform="matrix(0.9605 0 0 1.0298 1322.32 329.97)" font-size="98" font-weight="bold">e</text>
<text transform="matrix(0.9469 0 0 0.9275 1319.11 508.77)" font-size="98" font-weight="bold">d</text>
<text transform="matrix(0.9447 0 0 1.0426 1320.07 701.26)" font-size="98" font-weight="bold">c</text>
<text transform="matrix(1.0000 0 0 0.9377 1314.40 926.16)" font-size="98" font-weight="bold">b</text>
<text transform="matrix(0.8822 0 0 1.0717 1323.95 1099.93)" font-size="98" font-weight="bold">a</text>
<text transform="translate(78.38 904.04) rotate(-90) scale(0.9794 1.0012)" font-size="96" font-weight="bold">Intensity (a.u.)</text>
</svg>
</body></html>
